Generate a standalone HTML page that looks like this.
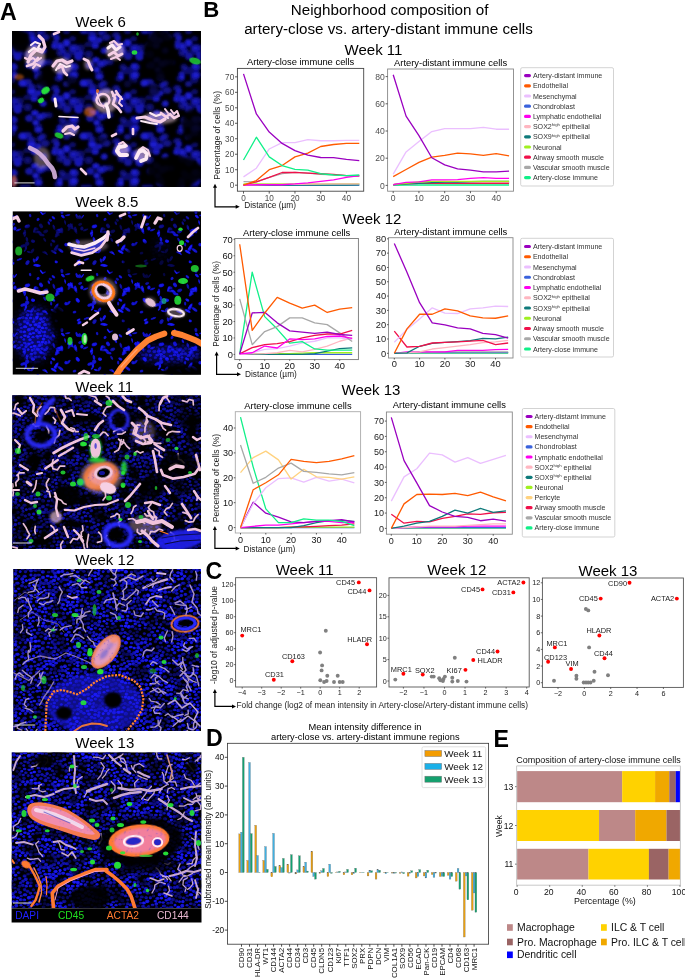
<!DOCTYPE html><html><head><meta charset="utf-8"><style>html,body{margin:0;padding:0;background:#fff;overflow:hidden}svg{display:block;will-change:transform}text{font-family:"Liberation Sans",sans-serif}</style></head><body>
<svg width="685" height="978" viewBox="0 0 685 978">
<rect width="685" height="978" fill="#fff"/>
<text x="0.00" y="20.30" font-size="23.2" fill="#000" text-anchor="start" font-weight="bold">A</text>
<text x="203.20" y="16.90" font-size="22.2" fill="#000" text-anchor="start" font-weight="bold">B</text>
<text x="205.60" y="578.60" font-size="23.2" fill="#000" text-anchor="start" font-weight="bold">C</text>
<text x="205.90" y="745.80" font-size="23.2" fill="#000" text-anchor="start" font-weight="bold">D</text>
<text x="493.40" y="746.70" font-size="23.2" fill="#000" text-anchor="start" font-weight="bold">E</text>
<text x="75.30" y="27.20" font-size="15" fill="#000" text-anchor="start">Week 6</text>
<text x="75.30" y="207.00" font-size="15" fill="#000" text-anchor="start">Week 8.5</text>
<text x="75.30" y="391.50" font-size="15" fill="#000" text-anchor="start">Week 11</text>
<text x="75.30" y="564.80" font-size="15" fill="#000" text-anchor="start">Week 12</text>
<text x="75.30" y="748.40" font-size="15" fill="#000" text-anchor="start">Week 13</text>
<defs>
<radialGradient id="ngs"><stop offset="0" stop-color="#5040e0"/><stop offset="1" stop-color="#7050c0" stop-opacity="0.5"/></radialGradient>
<radialGradient id="ng"><stop offset="0" stop-color="#2020e0"/><stop offset="0.6" stop-color="#1818c0"/><stop offset="1" stop-color="#0a0a70" stop-opacity="0.6"/></radialGradient>
<radialGradient id="ng2"><stop offset="0" stop-color="#2222ff"/><stop offset="0.7" stop-color="#1414f8"/><stop offset="1" stop-color="#0a0ac0" stop-opacity="0.85"/></radialGradient>
<pattern id="pBig" patternUnits="userSpaceOnUse" width="61" height="53"><ellipse cx="27.6" cy="29.7" rx="5.4" ry="4.7" fill="url(#ng)" opacity="0.73"/><ellipse cx="11.3" cy="27.1" rx="5.1" ry="4.1" fill="url(#ng)" opacity="0.50"/><ellipse cx="5.5" cy="42.9" rx="4.7" ry="4.6" fill="url(#ng)" opacity="0.99"/><ellipse cx="39.9" cy="32.6" rx="3.7" ry="3.7" fill="url(#ng)" opacity="0.74"/><ellipse cx="11.6" cy="12.8" rx="3.7" ry="3.2" fill="url(#ng)" opacity="0.69"/><ellipse cx="31.7" cy="33.9" rx="4.7" ry="3.9" fill="url(#ng)" opacity="0.70"/><ellipse cx="-0.1" cy="-0.2" rx="5.4" ry="4.4" fill="url(#ng)" opacity="0.62"/><ellipse cx="-0.1" cy="52.8" rx="5.4" ry="4.4" fill="url(#ng)" opacity="0.62"/><ellipse cx="60.9" cy="-0.2" rx="5.4" ry="4.4" fill="url(#ng)" opacity="0.62"/><ellipse cx="60.9" cy="52.8" rx="5.4" ry="4.4" fill="url(#ng)" opacity="0.62"/><ellipse cx="17.6" cy="3.7" rx="5.1" ry="4.5" fill="url(#ng)" opacity="0.92"/><ellipse cx="17.6" cy="56.7" rx="5.1" ry="4.5" fill="url(#ng)" opacity="0.92"/><ellipse cx="-2.6" cy="44.9" rx="3.5" ry="3.3" fill="url(#ng)" opacity="0.95"/><ellipse cx="58.4" cy="44.9" rx="3.5" ry="3.3" fill="url(#ng)" opacity="0.95"/><ellipse cx="-1.2" cy="21.1" rx="3.9" ry="3.2" fill="url(#ng)" opacity="0.88"/><ellipse cx="59.8" cy="21.1" rx="3.9" ry="3.2" fill="url(#ng)" opacity="0.88"/><ellipse cx="5.3" cy="17.6" rx="5.7" ry="4.6" fill="url(#ng)" opacity="0.51"/><ellipse cx="66.3" cy="17.6" rx="5.7" ry="4.6" fill="url(#ng)" opacity="0.51"/><ellipse cx="6.2" cy="3.2" rx="5.0" ry="4.7" fill="url(#ng)" opacity="0.76"/><ellipse cx="6.2" cy="56.2" rx="5.0" ry="4.7" fill="url(#ng)" opacity="0.76"/><ellipse cx="11.6" cy="38.8" rx="4.0" ry="3.3" fill="url(#ng)" opacity="0.51"/><ellipse cx="13.0" cy="14.3" rx="5.8" ry="4.6" fill="url(#ng)" opacity="0.62"/><ellipse cx="12.9" cy="20.9" rx="5.4" ry="4.5" fill="url(#ng)" opacity="0.51"/><ellipse cx="13.0" cy="13.7" rx="5.0" ry="4.6" fill="url(#ng)" opacity="0.61"/><ellipse cx="5.5" cy="30.9" rx="4.2" ry="3.5" fill="url(#ng)" opacity="0.65"/><ellipse cx="-2.5" cy="25.6" rx="5.0" ry="3.9" fill="url(#ng)" opacity="0.55"/><ellipse cx="58.5" cy="25.6" rx="5.0" ry="3.9" fill="url(#ng)" opacity="0.55"/><ellipse cx="55.4" cy="43.3" rx="4.0" ry="3.7" fill="url(#ng)" opacity="0.86"/><ellipse cx="12.0" cy="-2.6" rx="5.4" ry="4.6" fill="url(#ng)" opacity="0.68"/><ellipse cx="12.0" cy="50.4" rx="5.4" ry="4.6" fill="url(#ng)" opacity="0.68"/><ellipse cx="2.4" cy="-2.0" rx="4.2" ry="3.5" fill="url(#ng)" opacity="0.59"/><ellipse cx="2.4" cy="51.0" rx="4.2" ry="3.5" fill="url(#ng)" opacity="0.59"/><ellipse cx="63.4" cy="-2.0" rx="4.2" ry="3.5" fill="url(#ng)" opacity="0.59"/><ellipse cx="63.4" cy="51.0" rx="4.2" ry="3.5" fill="url(#ng)" opacity="0.59"/><ellipse cx="36.4" cy="15.6" rx="4.1" ry="3.4" fill="url(#ng)" opacity="0.49"/><ellipse cx="34.1" cy="45.2" rx="4.7" ry="4.3" fill="url(#ng)" opacity="0.95"/><ellipse cx="1.0" cy="14.3" rx="4.2" ry="4.2" fill="url(#ng)" opacity="0.55"/><ellipse cx="62.0" cy="14.3" rx="4.2" ry="4.2" fill="url(#ng)" opacity="0.55"/><ellipse cx="34.9" cy="7.0" rx="4.6" ry="3.6" fill="url(#ng)" opacity="0.99"/><ellipse cx="42.2" cy="31.0" rx="3.7" ry="3.6" fill="url(#ng)" opacity="0.46"/><ellipse cx="42.8" cy="-2.0" rx="3.8" ry="3.1" fill="url(#ng)" opacity="0.72"/><ellipse cx="42.8" cy="51.0" rx="3.8" ry="3.1" fill="url(#ng)" opacity="0.72"/><ellipse cx="19.5" cy="-0.0" rx="3.8" ry="3.3" fill="url(#ng)" opacity="0.86"/><ellipse cx="19.5" cy="53.0" rx="3.8" ry="3.3" fill="url(#ng)" opacity="0.86"/><ellipse cx="45.0" cy="37.3" rx="5.5" ry="4.2" fill="url(#ng)" opacity="0.64"/><ellipse cx="55.0" cy="46.2" rx="4.6" ry="3.7" fill="url(#ng)" opacity="0.92"/><ellipse cx="38.1" cy="20.3" rx="4.9" ry="4.1" fill="url(#ng)" opacity="0.49"/><ellipse cx="-0.4" cy="46.6" rx="5.0" ry="4.5" fill="url(#ng)" opacity="0.85"/><ellipse cx="60.6" cy="46.6" rx="5.0" ry="4.5" fill="url(#ng)" opacity="0.85"/><ellipse cx="26.9" cy="44.4" rx="4.0" ry="3.2" fill="url(#ng)" opacity="0.47"/><ellipse cx="29.3" cy="12.2" rx="5.0" ry="4.3" fill="url(#ng)" opacity="0.79"/><ellipse cx="15.6" cy="0.6" rx="4.3" ry="3.6" fill="url(#ng)" opacity="0.56"/><ellipse cx="15.6" cy="53.6" rx="4.3" ry="3.6" fill="url(#ng)" opacity="0.56"/><ellipse cx="55.2" cy="35.0" rx="4.8" ry="3.7" fill="url(#ng)" opacity="0.63"/><ellipse cx="12.1" cy="22.8" rx="5.5" ry="4.3" fill="url(#ng)" opacity="0.93"/><ellipse cx="35.6" cy="16.8" rx="3.9" ry="3.4" fill="url(#ng)" opacity="0.91"/><ellipse cx="43.4" cy="-2.6" rx="4.0" ry="3.8" fill="url(#ng)" opacity="0.70"/><ellipse cx="43.4" cy="50.4" rx="4.0" ry="3.8" fill="url(#ng)" opacity="0.70"/><ellipse cx="13.1" cy="21.9" rx="4.9" ry="4.2" fill="url(#ng)" opacity="0.62"/><ellipse cx="-1.1" cy="24.0" rx="3.6" ry="3.5" fill="url(#ng)" opacity="0.93"/><ellipse cx="59.9" cy="24.0" rx="3.6" ry="3.5" fill="url(#ng)" opacity="0.93"/><ellipse cx="43.2" cy="30.2" rx="4.4" ry="3.5" fill="url(#ng)" opacity="0.46"/><ellipse cx="27.7" cy="1.3" rx="5.1" ry="4.7" fill="url(#ng)" opacity="0.53"/><ellipse cx="27.7" cy="54.3" rx="5.1" ry="4.7" fill="url(#ng)" opacity="0.53"/><ellipse cx="38.4" cy="23.7" rx="5.0" ry="4.1" fill="url(#ng)" opacity="0.89"/><ellipse cx="41.8" cy="10.6" rx="4.4" ry="4.1" fill="url(#ng)" opacity="0.46"/><ellipse cx="43.6" cy="9.5" rx="4.1" ry="3.7" fill="url(#ng)" opacity="0.83"/><ellipse cx="37.5" cy="40.1" rx="4.6" ry="3.7" fill="url(#ng)" opacity="0.95"/><ellipse cx="56.9" cy="38.3" rx="3.9" ry="3.4" fill="url(#ng)" opacity="0.79"/><ellipse cx="23.0" cy="30.1" rx="5.6" ry="4.5" fill="url(#ng)" opacity="0.97"/><ellipse cx="39.7" cy="10.9" rx="5.3" ry="4.2" fill="url(#ng)" opacity="0.80"/><ellipse cx="13.0" cy="-5.3" rx="5.9" ry="4.5" fill="url(#ng)" opacity="0.75"/><ellipse cx="13.0" cy="47.7" rx="5.9" ry="4.5" fill="url(#ng)" opacity="0.75"/><ellipse cx="19.5" cy="-4.8" rx="5.2" ry="4.7" fill="url(#ng)" opacity="0.50"/><ellipse cx="19.5" cy="48.2" rx="5.2" ry="4.7" fill="url(#ng)" opacity="0.50"/><ellipse cx="33.6" cy="40.7" rx="4.3" ry="4.3" fill="url(#ng)" opacity="0.90"/><ellipse cx="48.8" cy="9.2" rx="4.5" ry="3.6" fill="url(#ng)" opacity="0.53"/><ellipse cx="31.5" cy="38.3" rx="5.4" ry="4.5" fill="url(#ng)" opacity="0.97"/></pattern>
<pattern id="pSpk" patternUnits="userSpaceOnUse" width="23" height="19"><ellipse cx="18.4" cy="6.2" rx="0.7" ry="0.6" fill="url(#ngs)" opacity="0.65"/><ellipse cx="12.8" cy="11.6" rx="0.7" ry="0.6" fill="url(#ngs)" opacity="0.80"/><ellipse cx="0.7" cy="18.2" rx="0.7" ry="0.6" fill="url(#ngs)" opacity="0.80"/><ellipse cx="23.7" cy="18.2" rx="0.7" ry="0.6" fill="url(#ngs)" opacity="0.80"/><ellipse cx="4.2" cy="6.1" rx="0.7" ry="0.5" fill="url(#ngs)" opacity="0.81"/><ellipse cx="4.4" cy="1.5" rx="0.7" ry="0.6" fill="url(#ngs)" opacity="0.78"/><ellipse cx="1.8" cy="16.0" rx="1.0" ry="0.8" fill="url(#ngs)" opacity="0.90"/><ellipse cx="2.2" cy="8.8" rx="0.6" ry="0.5" fill="url(#ngs)" opacity="0.82"/><ellipse cx="10.2" cy="14.8" rx="0.8" ry="0.8" fill="url(#ngs)" opacity="0.97"/><ellipse cx="19.4" cy="-0.5" rx="1.0" ry="0.7" fill="url(#ngs)" opacity="0.81"/><ellipse cx="19.4" cy="18.5" rx="1.0" ry="0.7" fill="url(#ngs)" opacity="0.81"/><ellipse cx="10.9" cy="14.0" rx="0.9" ry="0.8" fill="url(#ngs)" opacity="0.98"/><ellipse cx="11.4" cy="0.7" rx="0.8" ry="0.6" fill="url(#ngs)" opacity="0.65"/><ellipse cx="11.4" cy="19.7" rx="0.8" ry="0.6" fill="url(#ngs)" opacity="0.65"/><ellipse cx="20.8" cy="13.1" rx="0.6" ry="0.5" fill="url(#ngs)" opacity="0.88"/><ellipse cx="6.9" cy="1.7" rx="1.0" ry="0.8" fill="url(#ngs)" opacity="0.97"/><ellipse cx="13.2" cy="1.2" rx="0.8" ry="0.7" fill="url(#ngs)" opacity="0.90"/><ellipse cx="0.2" cy="1.7" rx="0.9" ry="0.9" fill="url(#ngs)" opacity="0.76"/><ellipse cx="23.2" cy="1.7" rx="0.9" ry="0.9" fill="url(#ngs)" opacity="0.76"/><ellipse cx="20.3" cy="2.6" rx="0.7" ry="0.6" fill="url(#ngs)" opacity="0.63"/><ellipse cx="0.6" cy="18.2" rx="0.7" ry="0.6" fill="url(#ngs)" opacity="0.75"/><ellipse cx="23.6" cy="18.2" rx="0.7" ry="0.6" fill="url(#ngs)" opacity="0.75"/><ellipse cx="16.4" cy="11.4" rx="0.8" ry="0.7" fill="url(#ngs)" opacity="0.94"/><ellipse cx="14.3" cy="5.6" rx="0.7" ry="0.6" fill="url(#ngs)" opacity="0.68"/><ellipse cx="1.6" cy="0.4" rx="0.6" ry="0.6" fill="url(#ngs)" opacity="0.95"/><ellipse cx="1.6" cy="19.4" rx="0.6" ry="0.6" fill="url(#ngs)" opacity="0.95"/><ellipse cx="15.6" cy="14.8" rx="0.7" ry="0.5" fill="url(#ngs)" opacity="0.75"/><ellipse cx="11.2" cy="13.2" rx="0.9" ry="0.8" fill="url(#ngs)" opacity="0.93"/></pattern>
<pattern id="pN" patternUnits="userSpaceOnUse" width="83.00" height="71.00"><ellipse cx="51.7" cy="52.7" rx="1.8" ry="1.5" fill="url(#ng2)" opacity="0.84"/><ellipse cx="66.0" cy="66.9" rx="2.3" ry="2.0" fill="url(#ng2)" opacity="0.94"/><ellipse cx="61.4" cy="65.5" rx="1.8" ry="1.5" fill="url(#ng2)" opacity="0.75"/><ellipse cx="2.4" cy="33.1" rx="2.1" ry="2.1" fill="url(#ng2)" opacity="0.85"/><ellipse cx="78.3" cy="46.1" rx="2.0" ry="1.6" fill="url(#ng2)" opacity="0.92"/><ellipse cx="74.8" cy="8.0" rx="2.4" ry="1.9" fill="url(#ng2)" opacity="0.95"/><ellipse cx="38.9" cy="17.5" rx="2.3" ry="1.7" fill="url(#ng2)" opacity="0.80"/><ellipse cx="45.1" cy="40.7" rx="2.2" ry="1.9" fill="url(#ng2)" opacity="0.89"/><ellipse cx="1.1" cy="15.4" rx="1.9" ry="1.4" fill="url(#ng2)" opacity="1.00"/><ellipse cx="84.1" cy="15.4" rx="1.9" ry="1.4" fill="url(#ng2)" opacity="1.00"/><ellipse cx="23.2" cy="65.1" rx="1.9" ry="1.5" fill="url(#ng2)" opacity="0.93"/><ellipse cx="63.6" cy="11.3" rx="2.3" ry="1.9" fill="url(#ng2)" opacity="0.77"/><ellipse cx="51.2" cy="9.0" rx="1.8" ry="1.6" fill="url(#ng2)" opacity="0.96"/><ellipse cx="0.1" cy="61.9" rx="2.1" ry="1.5" fill="url(#ng2)" opacity="0.84"/><ellipse cx="83.1" cy="61.9" rx="2.1" ry="1.5" fill="url(#ng2)" opacity="0.84"/><ellipse cx="17.4" cy="15.3" rx="2.5" ry="1.8" fill="url(#ng2)" opacity="0.82"/><ellipse cx="24.0" cy="68.3" rx="2.0" ry="1.8" fill="url(#ng2)" opacity="0.78"/><ellipse cx="44.8" cy="48.1" rx="1.8" ry="1.6" fill="url(#ng2)" opacity="0.87"/><ellipse cx="17.0" cy="66.8" rx="2.1" ry="1.8" fill="url(#ng2)" opacity="0.76"/><ellipse cx="57.3" cy="68.6" rx="1.7" ry="1.6" fill="url(#ng2)" opacity="0.86"/><ellipse cx="74.2" cy="21.2" rx="2.3" ry="1.8" fill="url(#ng2)" opacity="0.90"/><ellipse cx="30.0" cy="11.8" rx="2.2" ry="1.6" fill="url(#ng2)" opacity="0.87"/><ellipse cx="12.1" cy="4.6" rx="2.1" ry="1.5" fill="url(#ng2)" opacity="0.84"/><ellipse cx="25.0" cy="42.8" rx="2.5" ry="1.8" fill="url(#ng2)" opacity="0.97"/><ellipse cx="0.3" cy="48.1" rx="2.1" ry="1.7" fill="url(#ng2)" opacity="0.89"/><ellipse cx="83.3" cy="48.1" rx="2.1" ry="1.7" fill="url(#ng2)" opacity="0.89"/><ellipse cx="28.0" cy="22.0" rx="2.0" ry="1.5" fill="url(#ng2)" opacity="0.86"/><ellipse cx="67.9" cy="34.1" rx="2.5" ry="1.8" fill="url(#ng2)" opacity="0.95"/><ellipse cx="26.2" cy="34.2" rx="1.8" ry="1.6" fill="url(#ng2)" opacity="0.99"/><ellipse cx="58.5" cy="4.0" rx="2.3" ry="1.9" fill="url(#ng2)" opacity="0.99"/><ellipse cx="-2.1" cy="1.6" rx="2.1" ry="1.7" fill="url(#ng2)" opacity="0.87"/><ellipse cx="-2.1" cy="72.6" rx="2.1" ry="1.7" fill="url(#ng2)" opacity="0.87"/><ellipse cx="80.9" cy="1.6" rx="2.1" ry="1.7" fill="url(#ng2)" opacity="0.87"/><ellipse cx="80.9" cy="72.6" rx="2.1" ry="1.7" fill="url(#ng2)" opacity="0.87"/><ellipse cx="62.2" cy="60.0" rx="1.9" ry="1.6" fill="url(#ng2)" opacity="0.84"/><ellipse cx="1.5" cy="55.9" rx="2.3" ry="1.6" fill="url(#ng2)" opacity="0.96"/><ellipse cx="84.5" cy="55.9" rx="2.3" ry="1.6" fill="url(#ng2)" opacity="0.96"/><ellipse cx="30.4" cy="41.1" rx="1.9" ry="1.6" fill="url(#ng2)" opacity="0.87"/><ellipse cx="0.8" cy="3.3" rx="2.2" ry="1.6" fill="url(#ng2)" opacity="0.98"/><ellipse cx="83.8" cy="3.3" rx="2.2" ry="1.6" fill="url(#ng2)" opacity="0.98"/><ellipse cx="16.3" cy="53.7" rx="2.2" ry="2.0" fill="url(#ng2)" opacity="0.84"/><ellipse cx="77.2" cy="66.9" rx="1.8" ry="1.4" fill="url(#ng2)" opacity="0.95"/><ellipse cx="43.6" cy="55.1" rx="2.1" ry="1.8" fill="url(#ng2)" opacity="0.95"/><ellipse cx="9.0" cy="53.1" rx="1.7" ry="1.6" fill="url(#ng2)" opacity="0.90"/><ellipse cx="66.2" cy="61.0" rx="2.2" ry="1.9" fill="url(#ng2)" opacity="0.95"/><ellipse cx="3.0" cy="67.2" rx="2.3" ry="1.9" fill="url(#ng2)" opacity="0.94"/><ellipse cx="7.6" cy="24.2" rx="1.9" ry="1.6" fill="url(#ng2)" opacity="0.82"/><ellipse cx="50.7" cy="65.2" rx="1.8" ry="1.4" fill="url(#ng2)" opacity="0.79"/><ellipse cx="28.2" cy="65.6" rx="1.7" ry="1.6" fill="url(#ng2)" opacity="0.91"/><ellipse cx="45.2" cy="22.2" rx="2.0" ry="1.6" fill="url(#ng2)" opacity="0.89"/><ellipse cx="26.3" cy="12.6" rx="1.7" ry="1.6" fill="url(#ng2)" opacity="0.97"/><ellipse cx="6.5" cy="10.6" rx="2.2" ry="1.7" fill="url(#ng2)" opacity="0.88"/><ellipse cx="-1.1" cy="37.9" rx="2.3" ry="1.8" fill="url(#ng2)" opacity="0.86"/><ellipse cx="81.9" cy="37.9" rx="2.3" ry="1.8" fill="url(#ng2)" opacity="0.86"/><ellipse cx="33.7" cy="16.9" rx="1.8" ry="1.7" fill="url(#ng2)" opacity="0.98"/><ellipse cx="49.3" cy="58.7" rx="2.4" ry="1.7" fill="url(#ng2)" opacity="0.93"/><ellipse cx="37.8" cy="29.9" rx="1.9" ry="1.8" fill="url(#ng2)" opacity="0.98"/><ellipse cx="69.6" cy="9.3" rx="2.0" ry="1.9" fill="url(#ng2)" opacity="0.77"/><ellipse cx="52.3" cy="55.9" rx="2.0" ry="1.7" fill="url(#ng2)" opacity="0.90"/><ellipse cx="8.9" cy="30.9" rx="2.0" ry="1.9" fill="url(#ng2)" opacity="0.84"/><ellipse cx="12.4" cy="60.0" rx="1.9" ry="1.7" fill="url(#ng2)" opacity="0.77"/><ellipse cx="81.0" cy="32.2" rx="1.9" ry="1.6" fill="url(#ng2)" opacity="0.96"/><ellipse cx="40.5" cy="51.8" rx="2.1" ry="1.4" fill="url(#ng2)" opacity="0.78"/><ellipse cx="39.8" cy="20.7" rx="2.3" ry="1.7" fill="url(#ng2)" opacity="0.80"/><ellipse cx="33.5" cy="10.4" rx="2.4" ry="1.9" fill="url(#ng2)" opacity="0.83"/><ellipse cx="31.3" cy="-0.8" rx="2.1" ry="1.8" fill="url(#ng2)" opacity="0.97"/><ellipse cx="31.3" cy="70.2" rx="2.1" ry="1.8" fill="url(#ng2)" opacity="0.97"/><ellipse cx="41.4" cy="24.0" rx="1.7" ry="1.6" fill="url(#ng2)" opacity="0.92"/><ellipse cx="7.4" cy="19.3" rx="1.9" ry="1.8" fill="url(#ng2)" opacity="0.75"/><ellipse cx="30.0" cy="55.8" rx="2.0" ry="1.7" fill="url(#ng2)" opacity="0.93"/><ellipse cx="64.3" cy="49.3" rx="2.3" ry="1.9" fill="url(#ng2)" opacity="0.88"/><ellipse cx="55.1" cy="53.9" rx="2.2" ry="1.6" fill="url(#ng2)" opacity="0.95"/><ellipse cx="30.2" cy="50.0" rx="2.1" ry="1.6" fill="url(#ng2)" opacity="0.86"/><ellipse cx="53.9" cy="41.2" rx="1.7" ry="1.7" fill="url(#ng2)" opacity="0.77"/><ellipse cx="20.8" cy="47.7" rx="2.0" ry="1.8" fill="url(#ng2)" opacity="0.86"/><ellipse cx="38.4" cy="58.0" rx="2.1" ry="1.5" fill="url(#ng2)" opacity="0.85"/><ellipse cx="28.9" cy="45.7" rx="2.3" ry="2.0" fill="url(#ng2)" opacity="0.90"/><ellipse cx="29.1" cy="59.8" rx="2.0" ry="1.4" fill="url(#ng2)" opacity="0.90"/><ellipse cx="72.2" cy="48.9" rx="1.9" ry="1.5" fill="url(#ng2)" opacity="0.92"/><ellipse cx="-2.0" cy="67.9" rx="2.1" ry="2.1" fill="url(#ng2)" opacity="0.85"/><ellipse cx="81.0" cy="67.9" rx="2.1" ry="2.1" fill="url(#ng2)" opacity="0.85"/><ellipse cx="43.0" cy="37.6" rx="2.3" ry="1.6" fill="url(#ng2)" opacity="0.81"/><ellipse cx="77.8" cy="33.9" rx="2.0" ry="1.8" fill="url(#ng2)" opacity="0.96"/><ellipse cx="57.4" cy="51.1" rx="1.8" ry="1.6" fill="url(#ng2)" opacity="0.97"/><ellipse cx="64.8" cy="41.2" rx="2.1" ry="1.7" fill="url(#ng2)" opacity="0.90"/><ellipse cx="55.2" cy="29.9" rx="2.0" ry="2.0" fill="url(#ng2)" opacity="0.78"/><ellipse cx="2.3" cy="11.4" rx="2.1" ry="2.0" fill="url(#ng2)" opacity="0.85"/><ellipse cx="36.6" cy="46.2" rx="2.2" ry="2.0" fill="url(#ng2)" opacity="0.83"/><ellipse cx="52.4" cy="3.0" rx="2.1" ry="2.0" fill="url(#ng2)" opacity="0.83"/><ellipse cx="16.0" cy="2.5" rx="1.7" ry="1.5" fill="url(#ng2)" opacity="1.00"/><ellipse cx="19.7" cy="64.1" rx="2.0" ry="2.0" fill="url(#ng2)" opacity="0.86"/><ellipse cx="0.1" cy="28.8" rx="2.4" ry="1.9" fill="url(#ng2)" opacity="0.84"/><ellipse cx="83.1" cy="28.8" rx="2.4" ry="1.9" fill="url(#ng2)" opacity="0.84"/><ellipse cx="23.1" cy="29.1" rx="2.1" ry="1.8" fill="url(#ng2)" opacity="0.83"/><ellipse cx="31.0" cy="2.6" rx="2.2" ry="2.1" fill="url(#ng2)" opacity="0.82"/><ellipse cx="48.2" cy="68.0" rx="1.9" ry="1.6" fill="url(#ng2)" opacity="0.88"/><ellipse cx="67.9" cy="29.8" rx="2.0" ry="1.4" fill="url(#ng2)" opacity="0.87"/><ellipse cx="67.5" cy="45.6" rx="1.8" ry="1.8" fill="url(#ng2)" opacity="0.92"/><ellipse cx="49.5" cy="40.0" rx="2.4" ry="1.7" fill="url(#ng2)" opacity="0.80"/><ellipse cx="50.5" cy="24.9" rx="2.3" ry="1.9" fill="url(#ng2)" opacity="0.87"/><ellipse cx="74.2" cy="0.1" rx="2.1" ry="1.6" fill="url(#ng2)" opacity="0.95"/><ellipse cx="74.2" cy="71.1" rx="2.1" ry="1.6" fill="url(#ng2)" opacity="0.95"/><ellipse cx="9.0" cy="40.2" rx="1.9" ry="1.4" fill="url(#ng2)" opacity="0.83"/><ellipse cx="31.2" cy="30.6" rx="2.0" ry="1.5" fill="url(#ng2)" opacity="0.77"/><ellipse cx="18.8" cy="20.7" rx="1.9" ry="1.4" fill="url(#ng2)" opacity="0.86"/><ellipse cx="79.8" cy="64.9" rx="1.9" ry="1.8" fill="url(#ng2)" opacity="0.85"/><ellipse cx="49.5" cy="18.4" rx="2.0" ry="1.9" fill="url(#ng2)" opacity="0.81"/><ellipse cx="34.5" cy="22.7" rx="2.0" ry="1.5" fill="url(#ng2)" opacity="0.76"/><ellipse cx="10.1" cy="44.1" rx="1.9" ry="1.8" fill="url(#ng2)" opacity="0.98"/><ellipse cx="64.9" cy="17.4" rx="1.9" ry="1.8" fill="url(#ng2)" opacity="0.90"/><ellipse cx="22.2" cy="11.0" rx="2.2" ry="2.0" fill="url(#ng2)" opacity="0.79"/><ellipse cx="-0.9" cy="20.8" rx="1.8" ry="1.7" fill="url(#ng2)" opacity="0.93"/><ellipse cx="82.1" cy="20.8" rx="1.8" ry="1.7" fill="url(#ng2)" opacity="0.93"/><ellipse cx="50.5" cy="33.7" rx="1.9" ry="1.7" fill="url(#ng2)" opacity="0.97"/><ellipse cx="61.7" cy="8.4" rx="2.0" ry="1.7" fill="url(#ng2)" opacity="0.93"/><ellipse cx="63.1" cy="21.3" rx="2.2" ry="1.8" fill="url(#ng2)" opacity="0.90"/><ellipse cx="24.6" cy="37.6" rx="1.9" ry="1.8" fill="url(#ng2)" opacity="0.78"/><ellipse cx="38.5" cy="25.6" rx="2.2" ry="1.7" fill="url(#ng2)" opacity="0.98"/><ellipse cx="37.8" cy="65.1" rx="2.4" ry="1.8" fill="url(#ng2)" opacity="0.80"/><ellipse cx="73.7" cy="38.7" rx="2.1" ry="1.9" fill="url(#ng2)" opacity="0.78"/><ellipse cx="35.5" cy="40.9" rx="2.2" ry="1.6" fill="url(#ng2)" opacity="0.83"/><ellipse cx="58.8" cy="44.9" rx="2.2" ry="1.7" fill="url(#ng2)" opacity="0.80"/><ellipse cx="70.7" cy="13.9" rx="2.3" ry="1.8" fill="url(#ng2)" opacity="0.95"/><ellipse cx="24.6" cy="58.9" rx="2.0" ry="1.5" fill="url(#ng2)" opacity="0.77"/><ellipse cx="5.5" cy="59.4" rx="1.9" ry="1.7" fill="url(#ng2)" opacity="0.88"/><ellipse cx="23.8" cy="55.4" rx="1.7" ry="1.5" fill="url(#ng2)" opacity="0.83"/><ellipse cx="39.7" cy="39.0" rx="1.9" ry="1.6" fill="url(#ng2)" opacity="0.86"/><ellipse cx="12.7" cy="41.6" rx="2.5" ry="1.8" fill="url(#ng2)" opacity="0.84"/><ellipse cx="67.4" cy="4.9" rx="1.9" ry="1.6" fill="url(#ng2)" opacity="0.93"/><ellipse cx="19.1" cy="58.2" rx="2.0" ry="1.4" fill="url(#ng2)" opacity="0.85"/><ellipse cx="2.1" cy="51.3" rx="2.0" ry="1.5" fill="url(#ng2)" opacity="0.79"/><ellipse cx="53.6" cy="67.6" rx="2.2" ry="1.8" fill="url(#ng2)" opacity="0.80"/><ellipse cx="6.0" cy="4.1" rx="2.1" ry="1.8" fill="url(#ng2)" opacity="0.87"/><ellipse cx="47.7" cy="52.7" rx="2.3" ry="1.8" fill="url(#ng2)" opacity="0.86"/><ellipse cx="77.9" cy="26.6" rx="2.0" ry="1.6" fill="url(#ng2)" opacity="0.93"/><ellipse cx="42.0" cy="64.6" rx="2.1" ry="1.6" fill="url(#ng2)" opacity="0.77"/><ellipse cx="46.1" cy="44.1" rx="1.9" ry="1.7" fill="url(#ng2)" opacity="0.84"/><ellipse cx="21.1" cy="53.3" rx="1.8" ry="1.4" fill="url(#ng2)" opacity="0.94"/><ellipse cx="42.9" cy="9.5" rx="2.2" ry="1.9" fill="url(#ng2)" opacity="0.89"/><ellipse cx="19.5" cy="26.4" rx="2.1" ry="1.6" fill="url(#ng2)" opacity="0.88"/><ellipse cx="7.1" cy="47.4" rx="2.2" ry="2.0" fill="url(#ng2)" opacity="0.92"/><ellipse cx="72.8" cy="34.1" rx="2.1" ry="1.6" fill="url(#ng2)" opacity="0.93"/><ellipse cx="18.5" cy="8.2" rx="1.9" ry="1.7" fill="url(#ng2)" opacity="0.89"/><ellipse cx="70.7" cy="36.7" rx="2.4" ry="1.7" fill="url(#ng2)" opacity="0.84"/><ellipse cx="61.4" cy="28.1" rx="2.1" ry="1.9" fill="url(#ng2)" opacity="0.82"/><ellipse cx="63.1" cy="0.0" rx="2.2" ry="2.0" fill="url(#ng2)" opacity="0.79"/><ellipse cx="63.1" cy="71.0" rx="2.2" ry="2.0" fill="url(#ng2)" opacity="0.79"/><ellipse cx="51.4" cy="30.4" rx="1.9" ry="1.6" fill="url(#ng2)" opacity="0.98"/><ellipse cx="38.6" cy="7.1" rx="2.5" ry="1.7" fill="url(#ng2)" opacity="0.85"/><ellipse cx="12.8" cy="11.3" rx="1.9" ry="1.4" fill="url(#ng2)" opacity="0.90"/><ellipse cx="31.1" cy="27.4" rx="2.1" ry="1.6" fill="url(#ng2)" opacity="0.87"/><ellipse cx="13.4" cy="20.4" rx="1.8" ry="1.7" fill="url(#ng2)" opacity="0.75"/><ellipse cx="19.5" cy="34.2" rx="2.0" ry="1.8" fill="url(#ng2)" opacity="0.83"/><ellipse cx="57.1" cy="47.8" rx="1.9" ry="1.5" fill="url(#ng2)" opacity="0.91"/><ellipse cx="24.2" cy="47.9" rx="2.0" ry="1.7" fill="url(#ng2)" opacity="0.93"/><ellipse cx="60.8" cy="51.0" rx="2.3" ry="1.7" fill="url(#ng2)" opacity="0.94"/><ellipse cx="13.6" cy="17.1" rx="2.4" ry="1.8" fill="url(#ng2)" opacity="0.90"/><ellipse cx="5.1" cy="55.3" rx="2.4" ry="1.7" fill="url(#ng2)" opacity="0.96"/><ellipse cx="45.5" cy="-0.7" rx="2.2" ry="2.1" fill="url(#ng2)" opacity="0.98"/><ellipse cx="45.5" cy="70.3" rx="2.2" ry="2.1" fill="url(#ng2)" opacity="0.98"/><ellipse cx="77.7" cy="3.8" rx="2.1" ry="1.6" fill="url(#ng2)" opacity="0.98"/><ellipse cx="20.2" cy="3.6" rx="1.7" ry="1.6" fill="url(#ng2)" opacity="1.00"/><ellipse cx="25.4" cy="3.6" rx="1.8" ry="1.8" fill="url(#ng2)" opacity="0.86"/><ellipse cx="14.9" cy="36.1" rx="2.0" ry="1.5" fill="url(#ng2)" opacity="0.88"/><ellipse cx="33.4" cy="37.7" rx="1.8" ry="1.7" fill="url(#ng2)" opacity="0.77"/><ellipse cx="76.5" cy="42.5" rx="2.1" ry="2.0" fill="url(#ng2)" opacity="0.88"/><ellipse cx="68.0" cy="22.2" rx="2.5" ry="1.7" fill="url(#ng2)" opacity="0.90"/><ellipse cx="31.0" cy="7.0" rx="1.8" ry="1.7" fill="url(#ng2)" opacity="0.84"/><ellipse cx="74.4" cy="46.4" rx="2.4" ry="1.7" fill="url(#ng2)" opacity="0.77"/><ellipse cx="10.8" cy="25.4" rx="2.0" ry="1.5" fill="url(#ng2)" opacity="0.86"/><ellipse cx="71.4" cy="67.4" rx="2.3" ry="1.9" fill="url(#ng2)" opacity="0.87"/><ellipse cx="27.4" cy="0.9" rx="2.0" ry="1.9" fill="url(#ng2)" opacity="0.86"/><ellipse cx="27.4" cy="71.9" rx="2.0" ry="1.9" fill="url(#ng2)" opacity="0.86"/><ellipse cx="58.9" cy="31.7" rx="2.3" ry="1.8" fill="url(#ng2)" opacity="0.86"/><ellipse cx="77.9" cy="56.4" rx="1.7" ry="1.7" fill="url(#ng2)" opacity="0.80"/><ellipse cx="2.7" cy="41.0" rx="2.2" ry="1.8" fill="url(#ng2)" opacity="0.76"/><ellipse cx="23.0" cy="14.3" rx="1.7" ry="1.6" fill="url(#ng2)" opacity="0.80"/><ellipse cx="46.7" cy="25.3" rx="2.1" ry="1.5" fill="url(#ng2)" opacity="0.96"/><ellipse cx="29.2" cy="17.6" rx="1.9" ry="1.8" fill="url(#ng2)" opacity="0.79"/><ellipse cx="70.5" cy="43.9" rx="1.8" ry="1.7" fill="url(#ng2)" opacity="0.92"/><ellipse cx="74.7" cy="14.2" rx="2.0" ry="1.7" fill="url(#ng2)" opacity="0.75"/><ellipse cx="56.7" cy="61.3" rx="1.8" ry="1.6" fill="url(#ng2)" opacity="0.76"/><ellipse cx="15.3" cy="27.6" rx="1.9" ry="1.8" fill="url(#ng2)" opacity="0.91"/><ellipse cx="25.9" cy="27.2" rx="2.1" ry="2.0" fill="url(#ng2)" opacity="0.94"/><ellipse cx="56.4" cy="37.1" rx="1.8" ry="1.6" fill="url(#ng2)" opacity="0.87"/><ellipse cx="59.3" cy="21.8" rx="2.5" ry="1.8" fill="url(#ng2)" opacity="0.81"/><ellipse cx="77.1" cy="19.5" rx="1.8" ry="1.6" fill="url(#ng2)" opacity="0.83"/><ellipse cx="54.2" cy="63.9" rx="1.9" ry="1.7" fill="url(#ng2)" opacity="0.85"/><ellipse cx="25.4" cy="19.0" rx="1.8" ry="1.7" fill="url(#ng2)" opacity="0.79"/><ellipse cx="13.9" cy="44.9" rx="2.1" ry="1.9" fill="url(#ng2)" opacity="0.91"/><ellipse cx="80.2" cy="13.3" rx="1.8" ry="1.7" fill="url(#ng2)" opacity="0.81"/><ellipse cx="49.3" cy="45.9" rx="2.1" ry="1.5" fill="url(#ng2)" opacity="0.76"/><ellipse cx="8.4" cy="13.7" rx="2.1" ry="1.7" fill="url(#ng2)" opacity="0.79"/><ellipse cx="8.6" cy="7.3" rx="2.1" ry="1.8" fill="url(#ng2)" opacity="0.82"/><ellipse cx="41.1" cy="68.4" rx="2.0" ry="1.5" fill="url(#ng2)" opacity="0.81"/><ellipse cx="24.6" cy="8.3" rx="2.4" ry="1.7" fill="url(#ng2)" opacity="0.76"/><ellipse cx="31.7" cy="20.6" rx="2.1" ry="1.9" fill="url(#ng2)" opacity="0.93"/><ellipse cx="24.6" cy="23.9" rx="2.2" ry="1.8" fill="url(#ng2)" opacity="0.93"/><ellipse cx="4.2" cy="29.9" rx="1.7" ry="1.5" fill="url(#ng2)" opacity="0.90"/><ellipse cx="32.1" cy="66.3" rx="1.7" ry="1.7" fill="url(#ng2)" opacity="0.84"/><ellipse cx="67.3" cy="0.4" rx="1.8" ry="1.7" fill="url(#ng2)" opacity="0.95"/><ellipse cx="67.3" cy="71.4" rx="1.8" ry="1.7" fill="url(#ng2)" opacity="0.95"/><ellipse cx="42.9" cy="3.8" rx="2.3" ry="2.0" fill="url(#ng2)" opacity="0.95"/><ellipse cx="36.7" cy="33.5" rx="1.9" ry="1.9" fill="url(#ng2)" opacity="0.85"/><ellipse cx="34.3" cy="62.1" rx="2.1" ry="1.5" fill="url(#ng2)" opacity="0.98"/><ellipse cx="12.3" cy="55.4" rx="2.2" ry="2.0" fill="url(#ng2)" opacity="0.99"/><ellipse cx="35.0" cy="-2.0" rx="2.0" ry="1.9" fill="url(#ng2)" opacity="0.77"/><ellipse cx="35.0" cy="69.0" rx="2.0" ry="1.9" fill="url(#ng2)" opacity="0.77"/><ellipse cx="55.3" cy="8.8" rx="2.2" ry="2.0" fill="url(#ng2)" opacity="0.89"/><ellipse cx="14.0" cy="32.5" rx="1.9" ry="1.4" fill="url(#ng2)" opacity="0.97"/><ellipse cx="74.5" cy="62.9" rx="1.7" ry="1.5" fill="url(#ng2)" opacity="0.81"/><ellipse cx="53.4" cy="26.6" rx="2.3" ry="1.8" fill="url(#ng2)" opacity="0.94"/><ellipse cx="30.6" cy="33.9" rx="2.1" ry="1.7" fill="url(#ng2)" opacity="0.91"/><ellipse cx="20.0" cy="40.4" rx="2.1" ry="1.8" fill="url(#ng2)" opacity="0.85"/><ellipse cx="4.7" cy="35.5" rx="2.0" ry="1.6" fill="url(#ng2)" opacity="0.95"/><ellipse cx="37.2" cy="52.3" rx="2.1" ry="1.5" fill="url(#ng2)" opacity="0.85"/><ellipse cx="43.9" cy="27.6" rx="2.4" ry="1.8" fill="url(#ng2)" opacity="0.96"/><ellipse cx="45.8" cy="58.9" rx="2.1" ry="2.1" fill="url(#ng2)" opacity="1.00"/><ellipse cx="32.3" cy="44.6" rx="2.3" ry="1.9" fill="url(#ng2)" opacity="0.76"/><ellipse cx="61.4" cy="39.8" rx="2.0" ry="1.7" fill="url(#ng2)" opacity="0.80"/><ellipse cx="72.3" cy="2.8" rx="1.9" ry="1.7" fill="url(#ng2)" opacity="0.91"/><ellipse cx="78.8" cy="7.9" rx="1.7" ry="1.5" fill="url(#ng2)" opacity="0.97"/><ellipse cx="62.9" cy="36.6" rx="2.3" ry="1.9" fill="url(#ng2)" opacity="0.85"/><ellipse cx="54.0" cy="12.4" rx="2.2" ry="1.9" fill="url(#ng2)" opacity="0.85"/><ellipse cx="11.5" cy="34.9" rx="2.3" ry="2.0" fill="url(#ng2)" opacity="0.93"/><ellipse cx="60.1" cy="18.5" rx="1.8" ry="1.7" fill="url(#ng2)" opacity="0.97"/><ellipse cx="67.3" cy="37.6" rx="1.6" ry="1.6" fill="url(#ng2)" opacity="0.95"/><ellipse cx="47.6" cy="35.5" rx="2.2" ry="1.6" fill="url(#ng2)" opacity="0.92"/><ellipse cx="8.5" cy="-0.2" rx="2.1" ry="1.5" fill="url(#ng2)" opacity="0.87"/><ellipse cx="8.5" cy="70.8" rx="2.1" ry="1.5" fill="url(#ng2)" opacity="0.87"/><ellipse cx="13.5" cy="49.6" rx="1.7" ry="1.6" fill="url(#ng2)" opacity="0.79"/><ellipse cx="56.1" cy="24.1" rx="2.3" ry="1.6" fill="url(#ng2)" opacity="0.95"/><ellipse cx="65.6" cy="54.8" rx="1.8" ry="1.7" fill="url(#ng2)" opacity="0.93"/><ellipse cx="44.4" cy="34.0" rx="2.0" ry="1.7" fill="url(#ng2)" opacity="0.98"/><ellipse cx="53.5" cy="16.3" rx="1.9" ry="1.4" fill="url(#ng2)" opacity="0.84"/><ellipse cx="22.7" cy="0.7" rx="2.4" ry="1.8" fill="url(#ng2)" opacity="0.93"/><ellipse cx="22.7" cy="71.7" rx="2.4" ry="1.8" fill="url(#ng2)" opacity="0.93"/><ellipse cx="4.7" cy="1.0" rx="2.1" ry="1.5" fill="url(#ng2)" opacity="0.79"/><ellipse cx="4.7" cy="72.0" rx="2.1" ry="1.5" fill="url(#ng2)" opacity="0.79"/><ellipse cx="24.9" cy="51.7" rx="2.0" ry="1.4" fill="url(#ng2)" opacity="0.95"/><ellipse cx="57.2" cy="15.4" rx="1.9" ry="1.5" fill="url(#ng2)" opacity="0.83"/><ellipse cx="36.8" cy="13.5" rx="1.7" ry="1.5" fill="url(#ng2)" opacity="0.78"/><ellipse cx="69.7" cy="26.0" rx="2.0" ry="1.5" fill="url(#ng2)" opacity="0.96"/><ellipse cx="12.5" cy="0.5" rx="2.5" ry="1.8" fill="url(#ng2)" opacity="0.86"/><ellipse cx="12.5" cy="71.5" rx="2.5" ry="1.8" fill="url(#ng2)" opacity="0.86"/><ellipse cx="68.3" cy="16.3" rx="2.2" ry="1.8" fill="url(#ng2)" opacity="0.96"/><ellipse cx="8.2" cy="61.2" rx="1.9" ry="1.6" fill="url(#ng2)" opacity="0.98"/><ellipse cx="4.8" cy="16.2" rx="1.9" ry="1.5" fill="url(#ng2)" opacity="0.80"/><ellipse cx="70.2" cy="40.5" rx="1.8" ry="1.5" fill="url(#ng2)" opacity="0.88"/><ellipse cx="70.8" cy="59.8" rx="2.3" ry="1.7" fill="url(#ng2)" opacity="0.76"/><ellipse cx="-0.2" cy="9.2" rx="2.1" ry="1.6" fill="url(#ng2)" opacity="0.78"/><ellipse cx="82.8" cy="9.2" rx="2.1" ry="1.6" fill="url(#ng2)" opacity="0.78"/><ellipse cx="21.2" cy="44.0" rx="1.8" ry="1.5" fill="url(#ng2)" opacity="0.83"/><ellipse cx="13.5" cy="66.3" rx="1.8" ry="1.7" fill="url(#ng2)" opacity="0.75"/><ellipse cx="15.9" cy="-1.1" rx="2.2" ry="1.9" fill="url(#ng2)" opacity="0.80"/><ellipse cx="15.9" cy="69.9" rx="2.2" ry="1.9" fill="url(#ng2)" opacity="0.80"/><ellipse cx="76.4" cy="59.3" rx="1.9" ry="1.5" fill="url(#ng2)" opacity="0.79"/><ellipse cx="59.8" cy="34.9" rx="1.7" ry="1.6" fill="url(#ng2)" opacity="0.75"/><ellipse cx="69.5" cy="52.9" rx="2.0" ry="1.5" fill="url(#ng2)" opacity="0.78"/><ellipse cx="52.6" cy="60.7" rx="2.0" ry="1.5" fill="url(#ng2)" opacity="0.84"/><ellipse cx="52.2" cy="49.0" rx="2.4" ry="1.8" fill="url(#ng2)" opacity="0.81"/><ellipse cx="39.0" cy="42.7" rx="2.4" ry="1.9" fill="url(#ng2)" opacity="0.86"/><ellipse cx="2.6" cy="19.2" rx="1.9" ry="1.4" fill="url(#ng2)" opacity="0.98"/><ellipse cx="76.8" cy="50.3" rx="1.8" ry="1.4" fill="url(#ng2)" opacity="0.77"/><ellipse cx="59.9" cy="54.3" rx="2.2" ry="1.8" fill="url(#ng2)" opacity="0.87"/><ellipse cx="41.0" cy="35.0" rx="2.1" ry="2.0" fill="url(#ng2)" opacity="0.91"/><ellipse cx="47.2" cy="63.6" rx="1.9" ry="1.8" fill="url(#ng2)" opacity="0.89"/><ellipse cx="43.5" cy="19.1" rx="1.8" ry="1.4" fill="url(#ng2)" opacity="0.84"/><ellipse cx="74.3" cy="30.1" rx="2.4" ry="1.8" fill="url(#ng2)" opacity="0.96"/><ellipse cx="-0.2" cy="44.1" rx="2.1" ry="2.0" fill="url(#ng2)" opacity="0.98"/><ellipse cx="82.8" cy="44.1" rx="2.1" ry="2.0" fill="url(#ng2)" opacity="0.98"/><ellipse cx="40.9" cy="14.9" rx="2.1" ry="2.1" fill="url(#ng2)" opacity="0.76"/><ellipse cx="3.8" cy="63.1" rx="1.9" ry="1.4" fill="url(#ng2)" opacity="0.78"/><ellipse cx="41.2" cy="29.9" rx="2.5" ry="1.7" fill="url(#ng2)" opacity="0.90"/><ellipse cx="10.2" cy="67.8" rx="2.3" ry="1.7" fill="url(#ng2)" opacity="0.88"/><ellipse cx="47.8" cy="8.1" rx="2.1" ry="1.5" fill="url(#ng2)" opacity="0.94"/><ellipse cx="54.0" cy="44.6" rx="1.9" ry="1.5" fill="url(#ng2)" opacity="0.92"/><ellipse cx="77.6" cy="23.3" rx="2.5" ry="1.8" fill="url(#ng2)" opacity="0.97"/><ellipse cx="-0.8" cy="24.1" rx="2.3" ry="2.0" fill="url(#ng2)" opacity="0.95"/><ellipse cx="82.2" cy="24.1" rx="2.3" ry="2.0" fill="url(#ng2)" opacity="0.95"/><ellipse cx="39.3" cy="48.6" rx="2.2" ry="1.9" fill="url(#ng2)" opacity="0.89"/><ellipse cx="11.8" cy="8.1" rx="2.0" ry="1.5" fill="url(#ng2)" opacity="0.93"/><ellipse cx="35.6" cy="2.2" rx="2.5" ry="1.8" fill="url(#ng2)" opacity="0.99"/><ellipse cx="35.6" cy="73.2" rx="2.5" ry="1.8" fill="url(#ng2)" opacity="0.99"/><ellipse cx="50.0" cy="-0.1" rx="1.8" ry="1.4" fill="url(#ng2)" opacity="0.85"/><ellipse cx="50.0" cy="70.9" rx="1.8" ry="1.4" fill="url(#ng2)" opacity="0.85"/><ellipse cx="35.1" cy="27.0" rx="1.8" ry="1.5" fill="url(#ng2)" opacity="0.76"/><ellipse cx="46.1" cy="12.5" rx="2.2" ry="1.9" fill="url(#ng2)" opacity="0.86"/><ellipse cx="58.5" cy="10.9" rx="1.9" ry="1.9" fill="url(#ng2)" opacity="0.90"/><ellipse cx="73.7" cy="17.7" rx="2.1" ry="1.9" fill="url(#ng2)" opacity="0.87"/><ellipse cx="15.1" cy="57.0" rx="2.4" ry="1.8" fill="url(#ng2)" opacity="0.94"/><ellipse cx="32.2" cy="58.5" rx="1.9" ry="1.6" fill="url(#ng2)" opacity="0.79"/><ellipse cx="55.6" cy="19.5" rx="2.4" ry="1.7" fill="url(#ng2)" opacity="0.92"/><ellipse cx="76.8" cy="37.4" rx="1.9" ry="1.6" fill="url(#ng2)" opacity="0.92"/><ellipse cx="73.6" cy="55.5" rx="1.9" ry="1.8" fill="url(#ng2)" opacity="0.81"/><ellipse cx="78.9" cy="16.4" rx="2.2" ry="1.9" fill="url(#ng2)" opacity="0.89"/><ellipse cx="48.6" cy="4.0" rx="1.9" ry="1.6" fill="url(#ng2)" opacity="0.77"/><ellipse cx="16.2" cy="10.7" rx="1.9" ry="1.8" fill="url(#ng2)" opacity="0.94"/><ellipse cx="39.1" cy="1.9" rx="2.0" ry="1.6" fill="url(#ng2)" opacity="0.98"/><ellipse cx="39.1" cy="72.9" rx="2.0" ry="1.6" fill="url(#ng2)" opacity="0.98"/><ellipse cx="22.0" cy="17.8" rx="2.1" ry="1.8" fill="url(#ng2)" opacity="0.76"/><ellipse cx="6.8" cy="64.7" rx="2.1" ry="1.7" fill="url(#ng2)" opacity="0.80"/><ellipse cx="16.9" cy="49.6" rx="1.9" ry="1.9" fill="url(#ng2)" opacity="0.85"/><ellipse cx="56.5" cy="57.5" rx="2.0" ry="1.6" fill="url(#ng2)" opacity="0.99"/><ellipse cx="53.2" cy="22.4" rx="2.3" ry="1.8" fill="url(#ng2)" opacity="0.80"/><ellipse cx="33.0" cy="53.2" rx="1.9" ry="1.4" fill="url(#ng2)" opacity="0.84"/><ellipse cx="17.1" cy="61.3" rx="1.7" ry="1.6" fill="url(#ng2)" opacity="0.98"/><ellipse cx="47.0" cy="29.8" rx="1.9" ry="1.5" fill="url(#ng2)" opacity="0.92"/><ellipse cx="63.1" cy="45.6" rx="2.0" ry="1.8" fill="url(#ng2)" opacity="0.82"/><ellipse cx="51.1" cy="14.0" rx="2.4" ry="1.9" fill="url(#ng2)" opacity="0.75"/><ellipse cx="8.3" cy="35.7" rx="2.1" ry="1.9" fill="url(#ng2)" opacity="0.83"/><ellipse cx="54.8" cy="33.7" rx="2.2" ry="2.0" fill="url(#ng2)" opacity="0.82"/><ellipse cx="65.0" cy="27.2" rx="2.1" ry="2.0" fill="url(#ng2)" opacity="0.98"/><ellipse cx="28.2" cy="52.7" rx="1.9" ry="1.6" fill="url(#ng2)" opacity="0.91"/><ellipse cx="39.6" cy="11.6" rx="1.9" ry="1.9" fill="url(#ng2)" opacity="0.79"/><ellipse cx="27.6" cy="39.3" rx="2.1" ry="1.7" fill="url(#ng2)" opacity="0.77"/><ellipse cx="73.3" cy="52.1" rx="2.0" ry="2.0" fill="url(#ng2)" opacity="0.91"/><ellipse cx="42.5" cy="43.9" rx="1.8" ry="1.6" fill="url(#ng2)" opacity="0.95"/><ellipse cx="77.8" cy="30.4" rx="2.2" ry="1.9" fill="url(#ng2)" opacity="0.94"/><ellipse cx="39.4" cy="61.5" rx="2.0" ry="1.8" fill="url(#ng2)" opacity="0.82"/><ellipse cx="9.3" cy="57.5" rx="1.8" ry="1.4" fill="url(#ng2)" opacity="0.99"/><ellipse cx="80.1" cy="60.4" rx="1.9" ry="1.4" fill="url(#ng2)" opacity="0.91"/><ellipse cx="10.2" cy="22.1" rx="2.4" ry="1.8" fill="url(#ng2)" opacity="0.98"/><ellipse cx="31.1" cy="63.0" rx="1.7" ry="1.6" fill="url(#ng2)" opacity="0.94"/><ellipse cx="3.2" cy="24.2" rx="1.9" ry="1.4" fill="url(#ng2)" opacity="0.96"/><ellipse cx="21.6" cy="61.2" rx="1.8" ry="1.5" fill="url(#ng2)" opacity="0.99"/><ellipse cx="65.5" cy="31.9" rx="1.9" ry="1.8" fill="url(#ng2)" opacity="0.93"/><ellipse cx="64.5" cy="6.5" rx="1.9" ry="1.7" fill="url(#ng2)" opacity="0.77"/><ellipse cx="76.9" cy="11.4" rx="2.1" ry="1.7" fill="url(#ng2)" opacity="0.99"/><ellipse cx="19.4" cy="-1.3" rx="2.0" ry="1.8" fill="url(#ng2)" opacity="0.76"/><ellipse cx="19.4" cy="69.7" rx="2.0" ry="1.8" fill="url(#ng2)" opacity="0.76"/><ellipse cx="20.4" cy="30.9" rx="1.8" ry="1.7" fill="url(#ng2)" opacity="0.81"/><ellipse cx="62.3" cy="31.6" rx="2.2" ry="2.0" fill="url(#ng2)" opacity="0.77"/><ellipse cx="52.0" cy="37.9" rx="1.9" ry="1.5" fill="url(#ng2)" opacity="0.94"/><ellipse cx="68.1" cy="57.2" rx="2.1" ry="1.7" fill="url(#ng2)" opacity="0.84"/><ellipse cx="10.7" cy="64.5" rx="1.7" ry="1.7" fill="url(#ng2)" opacity="0.77"/><ellipse cx="10.4" cy="48.8" rx="2.0" ry="1.9" fill="url(#ng2)" opacity="0.83"/><ellipse cx="15.5" cy="39.7" rx="1.8" ry="1.6" fill="url(#ng2)" opacity="0.95"/><ellipse cx="15.6" cy="23.2" rx="2.0" ry="1.6" fill="url(#ng2)" opacity="0.91"/><ellipse cx="57.2" cy="40.8" rx="1.9" ry="1.6" fill="url(#ng2)" opacity="0.94"/><ellipse cx="59.7" cy="-0.1" rx="1.9" ry="1.6" fill="url(#ng2)" opacity="0.89"/><ellipse cx="59.7" cy="70.9" rx="1.9" ry="1.6" fill="url(#ng2)" opacity="0.89"/><ellipse cx="67.1" cy="11.7" rx="2.5" ry="1.8" fill="url(#ng2)" opacity="0.89"/><ellipse cx="54.8" cy="5.2" rx="2.3" ry="1.9" fill="url(#ng2)" opacity="0.79"/><ellipse cx="-2.0" cy="54.0" rx="2.3" ry="1.7" fill="url(#ng2)" opacity="0.87"/><ellipse cx="81.0" cy="54.0" rx="2.3" ry="1.7" fill="url(#ng2)" opacity="0.87"/><ellipse cx="62.7" cy="56.3" rx="2.1" ry="1.9" fill="url(#ng2)" opacity="0.96"/><ellipse cx="68.9" cy="64.2" rx="2.2" ry="1.6" fill="url(#ng2)" opacity="0.89"/><ellipse cx="6.3" cy="42.5" rx="1.8" ry="1.6" fill="url(#ng2)" opacity="0.76"/><ellipse cx="70.8" cy="19.6" rx="1.9" ry="1.7" fill="url(#ng2)" opacity="0.95"/><ellipse cx="55.0" cy="1.0" rx="2.2" ry="1.6" fill="url(#ng2)" opacity="0.95"/><ellipse cx="55.0" cy="72.0" rx="2.2" ry="1.6" fill="url(#ng2)" opacity="0.95"/><ellipse cx="42.5" cy="58.2" rx="1.9" ry="1.6" fill="url(#ng2)" opacity="0.97"/><ellipse cx="71.3" cy="22.9" rx="2.2" ry="2.0" fill="url(#ng2)" opacity="0.80"/><ellipse cx="62.3" cy="3.4" rx="2.2" ry="1.6" fill="url(#ng2)" opacity="0.87"/><ellipse cx="78.0" cy="-0.6" rx="2.3" ry="1.6" fill="url(#ng2)" opacity="0.94"/><ellipse cx="78.0" cy="70.4" rx="2.3" ry="1.6" fill="url(#ng2)" opacity="0.94"/><ellipse cx="61.1" cy="13.6" rx="1.8" ry="1.7" fill="url(#ng2)" opacity="0.79"/><ellipse cx="11.8" cy="29.3" rx="2.2" ry="1.8" fill="url(#ng2)" opacity="0.80"/><ellipse cx="2.7" cy="6.9" rx="2.1" ry="1.5" fill="url(#ng2)" opacity="0.97"/><ellipse cx="17.8" cy="45.8" rx="2.0" ry="1.5" fill="url(#ng2)" opacity="0.89"/><ellipse cx="15.5" cy="5.8" rx="2.1" ry="2.1" fill="url(#ng2)" opacity="0.93"/><ellipse cx="49.1" cy="21.9" rx="2.1" ry="1.5" fill="url(#ng2)" opacity="0.94"/><ellipse cx="5.4" cy="50.7" rx="2.0" ry="1.9" fill="url(#ng2)" opacity="0.86"/><ellipse cx="45.0" cy="66.1" rx="2.0" ry="1.6" fill="url(#ng2)" opacity="0.83"/><ellipse cx="74.2" cy="24.8" rx="1.8" ry="1.4" fill="url(#ng2)" opacity="0.80"/><ellipse cx="27.6" cy="30.9" rx="2.0" ry="1.9" fill="url(#ng2)" opacity="0.99"/><ellipse cx="35.2" cy="7.4" rx="2.1" ry="1.8" fill="url(#ng2)" opacity="0.86"/><ellipse cx="79.9" cy="42.1" rx="2.0" ry="1.5" fill="url(#ng2)" opacity="0.80"/><ellipse cx="3.4" cy="47.0" rx="2.4" ry="1.9" fill="url(#ng2)" opacity="1.00"/><ellipse cx="33.5" cy="49.2" rx="1.9" ry="1.4" fill="url(#ng2)" opacity="0.89"/><ellipse cx="5.5" cy="39.1" rx="1.9" ry="1.7" fill="url(#ng2)" opacity="0.97"/><ellipse cx="80.2" cy="50.6" rx="2.0" ry="1.4" fill="url(#ng2)" opacity="0.84"/><ellipse cx="18.4" cy="37.4" rx="1.9" ry="1.8" fill="url(#ng2)" opacity="0.77"/><ellipse cx="22.8" cy="33.3" rx="2.0" ry="1.9" fill="url(#ng2)" opacity="0.91"/><ellipse cx="48.1" cy="15.5" rx="2.5" ry="1.8" fill="url(#ng2)" opacity="0.91"/><ellipse cx="44.1" cy="15.4" rx="2.3" ry="1.9" fill="url(#ng2)" opacity="0.83"/><ellipse cx="25.9" cy="62.8" rx="1.9" ry="1.6" fill="url(#ng2)" opacity="0.82"/><ellipse cx="44.6" cy="51.7" rx="1.9" ry="1.8" fill="url(#ng2)" opacity="0.80"/></pattern>
<pattern id="pSp" patternUnits="userSpaceOnUse" width="67" height="59"><ellipse cx="25.5" cy="13.6" rx="2.7" ry="1.0" fill="url(#ng2)" opacity="0.83" transform="rotate(124 25.5 13.6)"/><ellipse cx="37.1" cy="22.6" rx="3.0" ry="1.5" fill="url(#ng2)" opacity="0.91" transform="rotate(119 37.1 22.6)"/><ellipse cx="56.2" cy="25.9" rx="1.8" ry="1.5" fill="url(#ng2)" opacity="0.89" transform="rotate(30 56.2 25.9)"/><ellipse cx="43.9" cy="36.6" rx="2.4" ry="1.0" fill="url(#ng2)" opacity="0.61" transform="rotate(156 43.9 36.6)"/><ellipse cx="56.4" cy="12.7" rx="3.3" ry="1.4" fill="url(#ng2)" opacity="0.65" transform="rotate(121 56.4 12.7)"/><ellipse cx="8.3" cy="53.9" rx="3.6" ry="1.3" fill="url(#ng2)" opacity="0.62" transform="rotate(57 8.3 53.9)"/><ellipse cx="41.5" cy="35.9" rx="2.7" ry="1.0" fill="url(#ng2)" opacity="0.94" transform="rotate(54 41.5 35.9)"/><ellipse cx="9.8" cy="39.4" rx="2.7" ry="1.3" fill="url(#ng2)" opacity="0.80" transform="rotate(71 9.8 39.4)"/><ellipse cx="1.5" cy="8.0" rx="2.9" ry="1.3" fill="url(#ng2)" opacity="0.77" transform="rotate(134 1.5 8.0)"/><ellipse cx="68.5" cy="8.0" rx="2.9" ry="1.3" fill="url(#ng2)" opacity="0.77" transform="rotate(134 68.5 8.0)"/><ellipse cx="36.2" cy="51.9" rx="2.6" ry="1.7" fill="url(#ng2)" opacity="0.66" transform="rotate(12 36.2 51.9)"/><ellipse cx="2.7" cy="50.9" rx="3.5" ry="1.5" fill="url(#ng2)" opacity="0.64" transform="rotate(119 2.7 50.9)"/><ellipse cx="69.7" cy="50.9" rx="3.5" ry="1.5" fill="url(#ng2)" opacity="0.64" transform="rotate(119 69.7 50.9)"/><ellipse cx="8.6" cy="52.5" rx="3.2" ry="1.4" fill="url(#ng2)" opacity="0.84" transform="rotate(75 8.6 52.5)"/><ellipse cx="56.8" cy="56.7" rx="2.2" ry="1.3" fill="url(#ng2)" opacity="0.89" transform="rotate(122 56.8 56.7)"/><ellipse cx="27.5" cy="26.6" rx="2.8" ry="2.0" fill="url(#ng2)" opacity="0.68" transform="rotate(124 27.5 26.6)"/><ellipse cx="18.6" cy="52.9" rx="3.0" ry="1.1" fill="url(#ng2)" opacity="0.75" transform="rotate(159 18.6 52.9)"/><ellipse cx="50.3" cy="43.2" rx="1.9" ry="1.5" fill="url(#ng2)" opacity="0.61" transform="rotate(33 50.3 43.2)"/><ellipse cx="44.7" cy="3.8" rx="2.4" ry="1.2" fill="url(#ng2)" opacity="0.66" transform="rotate(59 44.7 3.8)"/><ellipse cx="15.3" cy="39.9" rx="2.7" ry="0.9" fill="url(#ng2)" opacity="0.84" transform="rotate(128 15.3 39.9)"/><ellipse cx="37.0" cy="29.4" rx="3.9" ry="1.5" fill="url(#ng2)" opacity="0.93" transform="rotate(5 37.0 29.4)"/><ellipse cx="39.5" cy="55.6" rx="2.8" ry="1.5" fill="url(#ng2)" opacity="0.86" transform="rotate(32 39.5 55.6)"/><ellipse cx="48.8" cy="46.2" rx="2.1" ry="1.2" fill="url(#ng2)" opacity="0.84" transform="rotate(63 48.8 46.2)"/><ellipse cx="45.7" cy="54.4" rx="2.8" ry="1.9" fill="url(#ng2)" opacity="0.66" transform="rotate(154 45.7 54.4)"/><ellipse cx="41.0" cy="48.9" rx="2.7" ry="1.9" fill="url(#ng2)" opacity="0.83" transform="rotate(55 41.0 48.9)"/><ellipse cx="53.4" cy="40.8" rx="2.3" ry="1.3" fill="url(#ng2)" opacity="0.84" transform="rotate(42 53.4 40.8)"/><ellipse cx="12.2" cy="28.0" rx="2.1" ry="1.2" fill="url(#ng2)" opacity="0.98" transform="rotate(149 12.2 28.0)"/><ellipse cx="3.6" cy="48.7" rx="3.2" ry="1.4" fill="url(#ng2)" opacity="0.61" transform="rotate(137 3.6 48.7)"/><ellipse cx="13.1" cy="47.4" rx="2.2" ry="1.4" fill="url(#ng2)" opacity="0.67" transform="rotate(156 13.1 47.4)"/><ellipse cx="14.9" cy="51.5" rx="2.2" ry="1.8" fill="url(#ng2)" opacity="0.86" transform="rotate(96 14.9 51.5)"/><ellipse cx="1.8" cy="48.6" rx="1.8" ry="1.7" fill="url(#ng2)" opacity="0.91" transform="rotate(131 1.8 48.6)"/><ellipse cx="25.8" cy="11.0" rx="2.8" ry="1.4" fill="url(#ng2)" opacity="0.88" transform="rotate(88 25.8 11.0)"/><ellipse cx="38.0" cy="42.5" rx="1.9" ry="1.5" fill="url(#ng2)" opacity="0.79" transform="rotate(136 38.0 42.5)"/><ellipse cx="53.8" cy="50.3" rx="2.8" ry="1.3" fill="url(#ng2)" opacity="0.64" transform="rotate(70 53.8 50.3)"/><ellipse cx="4.5" cy="49.3" rx="3.5" ry="1.6" fill="url(#ng2)" opacity="0.90" transform="rotate(67 4.5 49.3)"/><ellipse cx="53.3" cy="5.0" rx="2.3" ry="1.5" fill="url(#ng2)" opacity="0.95" transform="rotate(31 53.3 5.0)"/><ellipse cx="10.7" cy="5.3" rx="2.8" ry="1.9" fill="url(#ng2)" opacity="0.96" transform="rotate(56 10.7 5.3)"/><ellipse cx="56.1" cy="11.5" rx="3.9" ry="1.4" fill="url(#ng2)" opacity="0.95" transform="rotate(125 56.1 11.5)"/><ellipse cx="60.1" cy="53.9" rx="2.8" ry="2.0" fill="url(#ng2)" opacity="0.94" transform="rotate(140 60.1 53.9)"/><ellipse cx="23.2" cy="9.9" rx="3.1" ry="1.7" fill="url(#ng2)" opacity="0.81" transform="rotate(160 23.2 9.9)"/><ellipse cx="32.4" cy="14.9" rx="2.9" ry="1.5" fill="url(#ng2)" opacity="0.71" transform="rotate(125 32.4 14.9)"/><ellipse cx="60.6" cy="14.5" rx="3.4" ry="1.5" fill="url(#ng2)" opacity="0.81" transform="rotate(35 60.6 14.5)"/><ellipse cx="44.6" cy="16.6" rx="2.8" ry="1.1" fill="url(#ng2)" opacity="0.71" transform="rotate(17 44.6 16.6)"/><ellipse cx="56.6" cy="-0.3" rx="2.3" ry="1.4" fill="url(#ng2)" opacity="0.82" transform="rotate(136 56.6 -0.3)"/><ellipse cx="56.6" cy="58.7" rx="2.3" ry="1.4" fill="url(#ng2)" opacity="0.82" transform="rotate(136 56.6 58.7)"/><ellipse cx="0.8" cy="38.2" rx="2.8" ry="1.0" fill="url(#ng2)" opacity="0.77" transform="rotate(170 0.8 38.2)"/><ellipse cx="67.8" cy="38.2" rx="2.8" ry="1.0" fill="url(#ng2)" opacity="0.77" transform="rotate(170 67.8 38.2)"/><ellipse cx="30.2" cy="38.6" rx="1.8" ry="1.3" fill="url(#ng2)" opacity="0.72" transform="rotate(66 30.2 38.6)"/><ellipse cx="11.6" cy="24.8" rx="2.2" ry="1.1" fill="url(#ng2)" opacity="0.99" transform="rotate(154 11.6 24.8)"/><ellipse cx="41.7" cy="-1.1" rx="3.1" ry="1.5" fill="url(#ng2)" opacity="0.78" transform="rotate(15 41.7 -1.1)"/><ellipse cx="41.7" cy="57.9" rx="3.1" ry="1.5" fill="url(#ng2)" opacity="0.78" transform="rotate(15 41.7 57.9)"/><ellipse cx="59.8" cy="52.9" rx="3.3" ry="1.5" fill="url(#ng2)" opacity="0.93" transform="rotate(173 59.8 52.9)"/><ellipse cx="-1.9" cy="45.4" rx="2.5" ry="0.9" fill="url(#ng2)" opacity="0.83" transform="rotate(81 -1.9 45.4)"/><ellipse cx="65.1" cy="45.4" rx="2.5" ry="0.9" fill="url(#ng2)" opacity="0.83" transform="rotate(81 65.1 45.4)"/><ellipse cx="28.9" cy="16.0" rx="2.2" ry="1.1" fill="url(#ng2)" opacity="0.85" transform="rotate(16 28.9 16.0)"/><ellipse cx="61.8" cy="53.3" rx="3.1" ry="1.7" fill="url(#ng2)" opacity="0.75" transform="rotate(85 61.8 53.3)"/><ellipse cx="24.8" cy="-2.6" rx="3.8" ry="1.4" fill="url(#ng2)" opacity="0.81" transform="rotate(92 24.8 -2.6)"/><ellipse cx="24.8" cy="56.4" rx="3.8" ry="1.4" fill="url(#ng2)" opacity="0.81" transform="rotate(92 24.8 56.4)"/><ellipse cx="46.0" cy="17.1" rx="2.8" ry="1.0" fill="url(#ng2)" opacity="0.71" transform="rotate(49 46.0 17.1)"/><ellipse cx="33.0" cy="5.2" rx="2.2" ry="1.8" fill="url(#ng2)" opacity="0.93" transform="rotate(15 33.0 5.2)"/><ellipse cx="53.7" cy="15.9" rx="3.4" ry="1.4" fill="url(#ng2)" opacity="0.98" transform="rotate(31 53.7 15.9)"/><ellipse cx="-1.0" cy="8.7" rx="1.8" ry="1.8" fill="url(#ng2)" opacity="0.80" transform="rotate(15 -1.0 8.7)"/><ellipse cx="66.0" cy="8.7" rx="1.8" ry="1.8" fill="url(#ng2)" opacity="0.80" transform="rotate(15 66.0 8.7)"/><ellipse cx="37.2" cy="55.1" rx="3.2" ry="1.5" fill="url(#ng2)" opacity="0.64" transform="rotate(178 37.2 55.1)"/><ellipse cx="24.4" cy="56.0" rx="2.0" ry="1.3" fill="url(#ng2)" opacity="0.98" transform="rotate(134 24.4 56.0)"/><ellipse cx="12.5" cy="27.0" rx="2.3" ry="1.7" fill="url(#ng2)" opacity="0.69" transform="rotate(15 12.5 27.0)"/><ellipse cx="34.1" cy="24.5" rx="2.4" ry="1.4" fill="url(#ng2)" opacity="0.74" transform="rotate(70 34.1 24.5)"/><ellipse cx="51.2" cy="8.7" rx="2.1" ry="1.2" fill="url(#ng2)" opacity="0.72" transform="rotate(86 51.2 8.7)"/><ellipse cx="57.6" cy="-3.2" rx="3.7" ry="1.4" fill="url(#ng2)" opacity="0.69" transform="rotate(62 57.6 -3.2)"/><ellipse cx="57.6" cy="55.8" rx="3.7" ry="1.4" fill="url(#ng2)" opacity="0.69" transform="rotate(62 57.6 55.8)"/><ellipse cx="7.5" cy="17.1" rx="2.0" ry="1.5" fill="url(#ng2)" opacity="0.73" transform="rotate(169 7.5 17.1)"/><ellipse cx="34.5" cy="53.1" rx="3.0" ry="1.3" fill="url(#ng2)" opacity="0.87" transform="rotate(107 34.5 53.1)"/><ellipse cx="61.9" cy="35.0" rx="2.3" ry="1.7" fill="url(#ng2)" opacity="0.64" transform="rotate(77 61.9 35.0)"/><ellipse cx="27.2" cy="7.7" rx="2.4" ry="2.3" fill="url(#ng2)" opacity="0.78" transform="rotate(44 27.2 7.7)"/><ellipse cx="27.4" cy="49.4" rx="3.0" ry="1.9" fill="url(#ng2)" opacity="0.88" transform="rotate(161 27.4 49.4)"/><ellipse cx="19.4" cy="23.4" rx="3.0" ry="1.2" fill="url(#ng2)" opacity="0.72" transform="rotate(161 19.4 23.4)"/><ellipse cx="12.4" cy="40.2" rx="2.1" ry="2.0" fill="url(#ng2)" opacity="0.73" transform="rotate(150 12.4 40.2)"/><ellipse cx="26.9" cy="3.4" rx="2.7" ry="1.4" fill="url(#ng2)" opacity="0.79" transform="rotate(76 26.9 3.4)"/><ellipse cx="62.9" cy="39.6" rx="2.5" ry="1.4" fill="url(#ng2)" opacity="0.91" transform="rotate(43 62.9 39.6)"/></pattern>
<filter id="dk0" x="0" y="0" width="100%" height="100%" color-interpolation-filters="sRGB"><feTurbulence type="fractalNoise" baseFrequency="0.075" numOctaves="2" seed="3"/><feColorMatrix type="matrix" values="0 0 0 0 0  0 0 0 0 0  0 0 0 0 0  3.2 0 0 0 -1.25"/></filter>
<filter id="dk1" x="0" y="0" width="100%" height="100%" color-interpolation-filters="sRGB"><feTurbulence type="fractalNoise" baseFrequency="0.075" numOctaves="2" seed="4"/><feColorMatrix type="matrix" values="0 0 0 0 0  0 0 0 0 0  0 0 0 0 0  3.2 0 0 0 -1.25"/></filter>
<filter id="dk2" x="0" y="0" width="100%" height="100%" color-interpolation-filters="sRGB"><feTurbulence type="fractalNoise" baseFrequency="0.075" numOctaves="2" seed="5"/><feColorMatrix type="matrix" values="0 0 0 0 0  0 0 0 0 0  0 0 0 0 0  3.2 0 0 0 -1.25"/></filter>
<filter id="dk3" x="0" y="0" width="100%" height="100%" color-interpolation-filters="sRGB"><feTurbulence type="fractalNoise" baseFrequency="0.075" numOctaves="2" seed="6"/><feColorMatrix type="matrix" values="0 0 0 0 0  0 0 0 0 0  0 0 0 0 0  3.2 0 0 0 -1.25"/></filter>
<filter id="dk4" x="0" y="0" width="100%" height="100%" color-interpolation-filters="sRGB"><feTurbulence type="fractalNoise" baseFrequency="0.075" numOctaves="2" seed="7"/><feColorMatrix type="matrix" values="0 0 0 0 0  0 0 0 0 0  0 0 0 0 0  3.2 0 0 0 -1.25"/></filter>
<filter id="dkS" x="0" y="0" width="100%" height="100%" color-interpolation-filters="sRGB"><feTurbulence type="fractalNoise" baseFrequency="0.09" numOctaves="2" seed="12"/><feColorMatrix type="matrix" values="0 0 0 0 0  0 0 0 0 0  0 0 0 0 0  4 0 0 0 -1.2"/></filter>
<filter id="tD" x="0" y="0" width="100%" height="100%" color-interpolation-filters="sRGB"><feTurbulence type="fractalNoise" baseFrequency="0.28" numOctaves="1" seed="2"/><feColorMatrix type="matrix" values="0 0 0 0 0.07  0 0 0 0 0.07  0 0 0 0 0.88  5.5 0 0 0 -2.45"/><feGaussianBlur stdDeviation="0.3"/></filter>
<filter id="tS" x="0" y="0" width="100%" height="100%" color-interpolation-filters="sRGB"><feTurbulence type="fractalNoise" baseFrequency="0.22" numOctaves="1" seed="7"/><feColorMatrix type="matrix" values="0 0 0 0 0.1  0 0 0 0 0.1  0 0 0 0 1  7 0 0 0 -3.9"/><feGaussianBlur stdDeviation="0.35"/></filter>
<filter id="bl05" filterUnits="userSpaceOnUse" x="0" y="0" width="210" height="930"><feGaussianBlur stdDeviation="0.45"/></filter>
<filter id="bl1" filterUnits="userSpaceOnUse" x="0" y="0" width="210" height="930"><feGaussianBlur stdDeviation="0.8"/></filter>
<filter id="bl2" filterUnits="userSpaceOnUse" x="0" y="0" width="210" height="930"><feGaussianBlur stdDeviation="1.6"/></filter>
<filter id="bl4" filterUnits="userSpaceOnUse" x="0" y="0" width="210" height="930"><feGaussianBlur stdDeviation="4"/></filter>
<filter id="bl6" filterUnits="userSpaceOnUse" x="0" y="0" width="210" height="930"><feGaussianBlur stdDeviation="6"/></filter>
<clipPath id="clipA0"><rect x="12.00" y="31.00" width="189.00" height="156.00"/></clipPath>
<clipPath id="clipA1"><rect x="12.50" y="211.20" width="188.50" height="163.50"/></clipPath>
<clipPath id="clipA2"><rect x="12.20" y="395.20" width="188.80" height="153.80"/></clipPath>
<clipPath id="clipA3"><rect x="13.20" y="569.00" width="187.80" height="162.00"/></clipPath>
<clipPath id="clipA4"><rect x="11.60" y="752.30" width="189.90" height="156.00"/></clipPath>
</defs>
<g clip-path="url(#clipA0)">
<rect x="12.00" y="31.00" width="189.00" height="156.00" fill="#000"/>
<rect x="12.00" y="31.00" width="189.00" height="156.00" fill="url(#pBig)" opacity="1.0" filter="url(#bl1)"/>
<ellipse cx="20.0" cy="41.0" rx="10.0" ry="11.0" fill="#000" opacity="0.95" filter="url(#bl2)"/>
<ellipse cx="160.0" cy="55.0" rx="16.0" ry="26.0" fill="#000" opacity="0.85" filter="url(#bl2)"/>
<ellipse cx="44.0" cy="80.0" rx="8.0" ry="7.0" fill="#000" opacity="0.85" filter="url(#bl2)"/>
<ellipse cx="175.0" cy="172.0" rx="28.0" ry="16.0" fill="#000" opacity="0.9" filter="url(#bl2)"/>
<ellipse cx="192.0" cy="126.0" rx="10.0" ry="17.0" fill="#000" opacity="0.8" filter="url(#bl2)"/>
<ellipse cx="72.0" cy="82.0" rx="6.0" ry="6.0" fill="#000" opacity="0.6" filter="url(#bl2)"/>
<ellipse cx="100.0" cy="140.0" rx="6.0" ry="4.0" fill="#000" opacity="0.5" filter="url(#bl2)"/>
<ellipse cx="152.0" cy="90.0" rx="8.0" ry="6.0" fill="#000" opacity="0.6" filter="url(#bl2)"/>
<ellipse cx="128.0" cy="84.0" rx="8.0" ry="4.0" fill="#000" opacity="0.6" filter="url(#bl2)"/>
<ellipse cx="35.0" cy="57.0" rx="10.0" ry="12.0" fill="#f6cfe6" opacity="0.55" filter="url(#bl2)"/>
<ellipse cx="62.0" cy="66.0" rx="10.0" ry="8.0" fill="#f6cfe6" opacity="0.5" filter="url(#bl2)"/>
<ellipse cx="115.0" cy="51.0" rx="9.0" ry="9.0" fill="#f6cfe6" opacity="0.55" filter="url(#bl2)"/>
<ellipse cx="106.0" cy="101.0" rx="12.0" ry="12.0" fill="#f6cfe6" opacity="0.5" filter="url(#bl2)"/>
<ellipse cx="160.0" cy="118.0" rx="17.0" ry="6.0" fill="#f6cfe6" opacity="0.5" filter="url(#bl2)"/>
<ellipse cx="70.0" cy="130.0" rx="8.0" ry="5.0" fill="#f6cfe6" opacity="0.45" filter="url(#bl2)"/>
<ellipse cx="122.0" cy="150.0" rx="7.0" ry="7.0" fill="#f6cfe6" opacity="0.55" filter="url(#bl2)"/>
<ellipse cx="142.0" cy="155.0" rx="8.0" ry="7.0" fill="#f6cfe6" opacity="0.55" filter="url(#bl2)"/>
<ellipse cx="42.0" cy="158.0" rx="8.0" ry="11.0" fill="#f6cfe6" opacity="0.35" filter="url(#bl2)"/>
<ellipse cx="88.0" cy="64.0" rx="4.0" ry="6.0" fill="#f6cfe6" opacity="0.4" filter="url(#bl2)"/>
<path d="M31.0,45.0 L35.0,42.0 L40.0,44.0 L38.0,48.0 L42.0,50.0" fill="none" stroke="#fdeaf4" stroke-width="2.16" stroke-linecap="round" stroke-linejoin="round" opacity="1" filter="url(#bl05)"/>
<path d="M25.0,58.0 L29.0,60.0 L33.0,58.0 L37.0,61.0 L41.0,58.0" fill="none" stroke="#f6cfe6" stroke-width="2.16" stroke-linecap="round" stroke-linejoin="round" opacity="1" filter="url(#bl05)"/>
<path d="M56.0,70.0 L60.0,64.0 L66.0,67.0 L70.0,66.0" fill="none" stroke="#fdeaf4" stroke-width="2.0250000000000004" stroke-linecap="round" stroke-linejoin="round" opacity="1" filter="url(#bl05)"/>
<path d="M110.0,43.0 L114.0,41.0 L118.0,45.0 L122.0,44.0" fill="none" stroke="#f6cfe6" stroke-width="2.16" stroke-linecap="round" stroke-linejoin="round" opacity="1" filter="url(#bl05)"/>
<path d="M111.0,59.0 L116.0,57.0 L120.0,60.0" fill="none" stroke="#f6cfe6" stroke-width="2.0250000000000004" stroke-linecap="round" stroke-linejoin="round" opacity="1" filter="url(#bl05)"/>
<path d="M150.0,113.0 L156.0,116.0 L162.0,114.0 L168.0,118.0" fill="none" stroke="#fdeaf4" stroke-width="2.0250000000000004" stroke-linecap="round" stroke-linejoin="round" opacity="1" filter="url(#bl05)"/>
<path d="M171.0,110.0 L174.0,114.0 L177.0,111.0 L179.0,116.0" fill="none" stroke="#f6cfe6" stroke-width="2.0250000000000004" stroke-linecap="round" stroke-linejoin="round" opacity="1" filter="url(#bl05)"/>
<path d="M119.0,144.0 L123.0,142.0 L127.0,146.0" fill="none" stroke="#f6cfe6" stroke-width="2.0250000000000004" stroke-linecap="round" stroke-linejoin="round" opacity="1" filter="url(#bl05)"/>
<path d="M139.0,150.0 L143.0,147.0 L148.0,150.0 L150.0,156.0" fill="none" stroke="#f6cfe6" stroke-width="2.0250000000000004" stroke-linecap="round" stroke-linejoin="round" opacity="1" filter="url(#bl05)"/>
<path d="M113.0,96.0 L117.0,94.0 L121.0,97.0 L119.0,103.0 L122.0,106.0" fill="none" stroke="#f6cfe6" stroke-width="2.0250000000000004" stroke-linecap="round" stroke-linejoin="round" opacity="1" filter="url(#bl05)"/>
<path d="M65.0,134.0 L70.0,133.0 L74.0,135.0" fill="none" stroke="#f6cfe6" stroke-width="2.0250000000000004" stroke-linecap="round" stroke-linejoin="round" opacity="1" filter="url(#bl05)"/>
<path d="M28.0,62.0 L31.0,55.0 L36.0,50.0 L42.0,52.0 L45.0,47.0 L43.0,40.0 L39.0,36.0" fill="none" stroke="#f6cfe6" stroke-width="3.24" stroke-linecap="round" stroke-linejoin="round" opacity="1" filter="url(#bl05)"/>
<path d="M27.0,66.0 L33.0,64.0 L38.0,58.0" fill="none" stroke="#f6cfe6" stroke-width="2.7" stroke-linecap="round" stroke-linejoin="round" opacity="1" filter="url(#bl05)"/>
<path d="M29.0,52.0 L34.0,48.0 L38.0,50.0" fill="none" stroke="#fdeaf4" stroke-width="2.43" stroke-linecap="round" stroke-linejoin="round" opacity="1" filter="url(#bl05)"/>
<path d="M33.0,68.0 L36.0,64.0 L40.0,66.0" fill="none" stroke="#f6cfe6" stroke-width="2.16" stroke-linecap="round" stroke-linejoin="round" opacity="1" filter="url(#bl05)"/>
<path d="M53.0,66.0 L57.0,61.0 L62.0,60.0 L67.0,63.0 L72.0,61.0" fill="none" stroke="#f6cfe6" stroke-width="3.24" stroke-linecap="round" stroke-linejoin="round" opacity="1" filter="url(#bl05)"/>
<path d="M58.0,68.0 L62.0,66.0 L64.0,72.0 L67.0,75.0" fill="none" stroke="#f6cfe6" stroke-width="2.7" stroke-linecap="round" stroke-linejoin="round" opacity="1" filter="url(#bl05)"/>
<path d="M84.0,59.0 L88.0,61.0 L90.0,66.0 L92.0,70.0" fill="none" stroke="#f6cfe6" stroke-width="2.9700000000000006" stroke-linecap="round" stroke-linejoin="round" opacity="1" filter="url(#bl05)"/>
<path d="M54.0,34.0 L59.0,32.0" fill="none" stroke="#f6cfe6" stroke-width="2.7" stroke-linecap="round" stroke-linejoin="round" opacity="1" filter="url(#bl05)"/>
<path d="M108.0,48.0 L112.0,45.0 L116.0,50.0 L120.0,47.0" fill="none" stroke="#fdeaf4" stroke-width="3.24" stroke-linecap="round" stroke-linejoin="round" opacity="1" filter="url(#bl05)"/>
<path d="M109.0,55.0 L114.0,52.0 L118.0,56.0 L122.0,54.0" fill="none" stroke="#f6cfe6" stroke-width="2.9700000000000006" stroke-linecap="round" stroke-linejoin="round" opacity="1" filter="url(#bl05)"/>
<ellipse cx="103.0" cy="100.0" rx="6.5" ry="6.0" fill="none" stroke="#f6cfe6" stroke-width="2.4" opacity="1" filter="url(#bl05)"/>
<path d="M112.0,92.0 L115.0,98.0 L113.0,104.0 L118.0,108.0 L121.0,112.0" fill="none" stroke="#f6cfe6" stroke-width="2.7" stroke-linecap="round" stroke-linejoin="round" opacity="1" filter="url(#bl05)"/>
<path d="M116.0,91.0 L119.0,96.0 L122.0,99.0" fill="none" stroke="#f6cfe6" stroke-width="2.43" stroke-linecap="round" stroke-linejoin="round" opacity="1" filter="url(#bl05)"/>
<path d="M106.0,104.0 L108.0,110.0 L109.0,117.0" fill="none" stroke="#fdeaf4" stroke-width="3.5100000000000002" stroke-linecap="round" stroke-linejoin="round" opacity="1" filter="url(#bl05)"/>
<ellipse cx="103.0" cy="100.0" rx="3.5" ry="3.0" fill="#000" opacity="0.9" filter="url(#bl1)"/>
<path d="M30.0,148.0 L36.0,151.0 L40.0,154.0 L44.0,158.0 L48.0,163.5 L52.0,168.0 L54.0,172.0 L55.0,177.0" fill="none" stroke="#d8b4e0" stroke-width="4.59" stroke-linecap="round" stroke-linejoin="round" opacity="0.9" filter="url(#bl05)"/>
<path d="M63.0,131.0 L67.0,127.0 L72.0,126.0 L75.0,129.0 L78.0,127.0" fill="none" stroke="#f6cfe6" stroke-width="3.24" stroke-linecap="round" stroke-linejoin="round" opacity="1" filter="url(#bl05)"/>
<path d="M59.0,116.5 L78.0,117.5" fill="none" stroke="#fdeaf4" stroke-width="1.4850000000000003" stroke-linecap="round" stroke-linejoin="round" opacity="1" filter="url(#bl05)"/>
<path d="M81.0,169.0 L84.0,172.0 L86.0,174.0" fill="none" stroke="#f6cfe6" stroke-width="2.7" stroke-linecap="round" stroke-linejoin="round" opacity="1" filter="url(#bl05)"/>
<path d="M137.0,118.0 L145.0,117.0 L152.0,120.0 L160.0,122.0 L165.0,119.0" fill="none" stroke="#f6cfe6" stroke-width="3.24" stroke-linecap="round" stroke-linejoin="round" opacity="1" filter="url(#bl05)"/>
<path d="M141.0,121.0 L150.0,123.0 L157.0,124.0" fill="none" stroke="#fdeaf4" stroke-width="1.89" stroke-linecap="round" stroke-linejoin="round" opacity="1" filter="url(#bl05)"/>
<path d="M161.0,113.0 L166.0,117.0 L170.0,114.0 L174.0,118.0 L178.0,116.0" fill="none" stroke="#f6cfe6" stroke-width="2.7" stroke-linecap="round" stroke-linejoin="round" opacity="1" filter="url(#bl05)"/>
<path d="M165.0,109.0 L168.0,113.0" fill="none" stroke="#f6cfe6" stroke-width="2.0250000000000004" stroke-linecap="round" stroke-linejoin="round" opacity="1" filter="url(#bl05)"/>
<path d="M125.0,146.0 L119.0,147.0 L117.0,151.0 L120.0,155.0 L127.0,155.0" fill="none" stroke="#fdeaf4" stroke-width="4.050000000000001" stroke-linecap="round" stroke-linejoin="round" opacity="1" filter="url(#bl05)"/>
<path d="M136.0,158.0 L139.0,152.0 L143.0,150.0 L147.0,154.0 L146.0,159.0 L141.0,161.0" fill="none" stroke="#fdeaf4" stroke-width="3.78" stroke-linecap="round" stroke-linejoin="round" opacity="1" filter="url(#bl05)"/>
<path d="M112.0,136.0 L116.0,134.0" fill="none" stroke="#f6cfe6" stroke-width="2.7" stroke-linecap="round" stroke-linejoin="round" opacity="1" filter="url(#bl05)"/>
<path d="M133.0,129.0 L133.0,134.0" fill="none" stroke="#f6cfe6" stroke-width="2.7" stroke-linecap="round" stroke-linejoin="round" opacity="1" filter="url(#bl05)"/>
<path d="M55.0,99.0 L56.0,106.0" fill="none" stroke="#fdeaf4" stroke-width="2.9700000000000006" stroke-linecap="round" stroke-linejoin="round" opacity="1" filter="url(#bl05)"/>
<path d="M97.0,93.0 L100.0,102.0 L104.0,108.0" fill="none" stroke="#f6cfe6" stroke-width="1.35" stroke-linecap="round" stroke-linejoin="round" opacity="1" filter="url(#bl05)"/>
<ellipse cx="45.5" cy="90.5" rx="4.5" ry="3.2" fill="#28e838" opacity="0.95" filter="url(#bl05)" transform="rotate(-35 45.5 90.5)"/>
<ellipse cx="41.0" cy="100.5" rx="3.3" ry="2.4" fill="#28e838" opacity="0.95" filter="url(#bl05)" transform="rotate(-30 41.0 100.5)"/>
<ellipse cx="59.0" cy="135.5" rx="4.5" ry="2.8" fill="#28e838" opacity="0.8" filter="url(#bl05)" transform="rotate(20 59.0 135.5)"/>
<ellipse cx="134.5" cy="52.5" rx="2.8" ry="2.2" fill="#28e838" opacity="0.9" filter="url(#bl05)"/>
<ellipse cx="195.0" cy="61.0" rx="6.0" ry="3.2" fill="#28e838" opacity="0.75" filter="url(#bl05)" transform="rotate(15 195.0 61.0)"/>
<ellipse cx="137.5" cy="34.0" rx="1.3" ry="1.8" fill="#28e838" opacity="0.7" filter="url(#bl05)"/>
<ellipse cx="19.0" cy="77.0" rx="5.0" ry="3.0" fill="#ff7818" opacity="0.45" filter="url(#bl1)"/>
<ellipse cx="14.0" cy="181.0" rx="3.0" ry="6.0" fill="#ff7818" opacity="0.55" filter="url(#bl1)"/>
<ellipse cx="90.0" cy="112.0" rx="6.0" ry="5.0" fill="#ff7818" opacity="0.55" filter="url(#bl1)"/>
<ellipse cx="97.5" cy="91.0" rx="1.5" ry="2.0" fill="#ff7818" opacity="0.8" filter="url(#bl05)"/>
<ellipse cx="92.0" cy="112.0" rx="3.0" ry="2.5" fill="#b060c0" opacity="0.5" filter="url(#bl1)"/>
<path d="M14.8,182.9 L34.2,182.9" fill="none" stroke="#f0f0f0" stroke-width="0.9" stroke-linecap="round" stroke-linejoin="round" opacity="1" filter="url(#bl05)"/>
</g>
<defs><mask id="mB1" maskUnits="userSpaceOnUse" x="12.5" y="211.2" width="188.5" height="163.5"><g filter="url(#bl4)">
<ellipse cx="34.0" cy="334.0" rx="18.0" ry="26.0" fill="#fff" opacity="1"/>
<ellipse cx="170.0" cy="354.0" rx="32.0" ry="7.0" fill="#fff" opacity="1"/>
<ellipse cx="160.0" cy="250.0" rx="8.0" ry="10.0" fill="#fff" opacity="0.3"/>
</g></mask></defs>
<g clip-path="url(#clipA1)">
<rect x="12.50" y="211.20" width="188.50" height="163.50" fill="#000"/>
<rect x="12.50" y="211.20" width="188.50" height="163.50" fill="url(#pSp)" opacity="1" filter="url(#bl05)"/>
<g mask="url(#mB1)"><rect x="12.50" y="211.20" width="188.50" height="163.50" fill="#1212b0" opacity="0.55"/><rect x="12.50" y="211.20" width="188.50" height="163.50" fill="url(#pN)" filter="url(#bl05)"/></g>
<ellipse cx="58.0" cy="318.0" rx="8.0" ry="12.0" fill="#000" opacity="0.85" filter="url(#bl2)"/>
<ellipse cx="150.0" cy="262.0" rx="28.0" ry="20.0" fill="#000" opacity="0.65" filter="url(#bl2)"/>
<ellipse cx="40.0" cy="240.0" rx="22.0" ry="18.0" fill="#000" opacity="0.55" filter="url(#bl2)"/>
<ellipse cx="185.0" cy="372.0" rx="22.0" ry="6.0" fill="#000" opacity="0.9" filter="url(#bl2)"/>
<ellipse cx="75.0" cy="228.0" rx="16.0" ry="12.0" fill="#000" opacity="0.55" filter="url(#bl2)"/>
<ellipse cx="130.0" cy="320.0" rx="10.0" ry="8.0" fill="#000" opacity="0.4" filter="url(#bl2)"/>
<ellipse cx="120.0" cy="230.0" rx="20.0" ry="14.0" fill="#000" opacity="0.5" filter="url(#bl2)"/>
<ellipse cx="170.0" cy="222.0" rx="20.0" ry="10.0" fill="#000" opacity="0.4" filter="url(#bl2)"/>
<ellipse cx="88.0" cy="246.0" rx="20.0" ry="6.0" fill="#f6cfe6" opacity="0.3" filter="url(#bl2)"/>
<ellipse cx="103.0" cy="291.0" rx="14.0" ry="13.0" fill="#f6cfe6" opacity="0.35" filter="url(#bl2)"/>
<ellipse cx="150.0" cy="302.0" rx="6.0" ry="5.0" fill="#f6cfe6" opacity="0.3" filter="url(#bl2)"/>
<ellipse cx="176.0" cy="313.0" rx="10.0" ry="5.0" fill="#f6cfe6" opacity="0.3" filter="url(#bl2)"/>
<path d="M69,244 L76,246 L84,247 L95,243 L103.5,238 L108,234 L106,240 L100.8,247 L92.4,252.6 L81.3,255.4 L71.6,252.6 Z" fill="#3030d0" opacity="0.85" filter="url(#bl05)"/>
<path d="M68.9,244.3 L76.0,246.0 L84.0,247.0 L95.0,243.0 L103.5,238.0 L108.0,234.0" fill="none" stroke="#fdeaf4" stroke-width="3.5100000000000002" stroke-linecap="round" stroke-linejoin="round" opacity="1" filter="url(#bl05)"/>
<path d="M71.6,252.6 L81.3,255.4 L92.4,252.6 L100.8,247.0 L106.0,240.0" fill="none" stroke="#f6cfe6" stroke-width="2.7" stroke-linecap="round" stroke-linejoin="round" opacity="1" filter="url(#bl05)"/>
<path d="M74.0,249.0 L84.0,251.0 L95.0,248.0" fill="none" stroke="#f6cfe6" stroke-width="1.35" stroke-linecap="round" stroke-linejoin="round" opacity="1" filter="url(#bl05)"/>
<path d="M12.0,219.0 L17.0,217.0 L19.0,221.0" fill="none" stroke="#f6cfe6" stroke-width="3.375" stroke-linecap="round" stroke-linejoin="round" opacity="1" filter="url(#bl05)"/>
<path d="M18.5,291.0 L25.0,289.0 L33.0,291.0 L40.0,293.0 L47.0,292.0" fill="none" stroke="#f6cfe6" stroke-width="3.5100000000000002" stroke-linecap="round" stroke-linejoin="round" opacity="1" filter="url(#bl05)"/>
<path d="M75.0,265.0 L79.0,262.0 L83.0,263.0" fill="none" stroke="#f6cfe6" stroke-width="2.7" stroke-linecap="round" stroke-linejoin="round" opacity="1" filter="url(#bl05)"/>
<path d="M81.3,270.3 L91.0,270.3" fill="none" stroke="#fdeaf4" stroke-width="1.62" stroke-linecap="round" stroke-linejoin="round" opacity="1" filter="url(#bl05)"/>
<ellipse cx="103.4" cy="291.4" rx="10.5" ry="8.8" fill="none" stroke="#ff7818" stroke-width="3.4" opacity="1" filter="url(#bl05)" transform="rotate(30 103.4 291.4)"/>
<ellipse cx="103.4" cy="291.4" rx="7.8" ry="6.4" fill="none" stroke="#f6cfe6" stroke-width="2.8" opacity="1" filter="url(#bl05)" transform="rotate(30 103.4 291.4)"/>
<ellipse cx="101.9" cy="289.9" rx="5.0" ry="4.0" fill="#000" opacity="1" filter="url(#bl05)" transform="rotate(30 101.9 289.9)"/>
<path d="M109.0,303.0 L112.0,308.0 L116.5,314.7" fill="none" stroke="#f6cfe6" stroke-width="4.050000000000001" stroke-linecap="round" stroke-linejoin="round" opacity="1" filter="url(#bl05)"/>
<path d="M120.0,216.0 L125.0,214.0" fill="none" stroke="#f6cfe6" stroke-width="2.7" stroke-linecap="round" stroke-linejoin="round" opacity="1" filter="url(#bl05)"/>
<path d="M145.0,217.0 L141.5,227.0" fill="none" stroke="#f6cfe6" stroke-width="2.9700000000000006" stroke-linecap="round" stroke-linejoin="round" opacity="1" filter="url(#bl05)"/>
<path d="M155.0,223.0 L158.0,218.0 L161.0,219.0" fill="none" stroke="#f6cfe6" stroke-width="3.375" stroke-linecap="round" stroke-linejoin="round" opacity="1" filter="url(#bl05)"/>
<path d="M108.0,232.0 L107.0,240.0" fill="none" stroke="#f6cfe6" stroke-width="3.375" stroke-linecap="round" stroke-linejoin="round" opacity="1" filter="url(#bl05)"/>
<path d="M117.0,242.0 L121.0,240.0 L124.0,237.0" fill="none" stroke="#f6cfe6" stroke-width="3.375" stroke-linecap="round" stroke-linejoin="round" opacity="1" filter="url(#bl05)"/>
<path d="M188.0,237.0 L193.0,232.0 L198.0,228.0" fill="none" stroke="#f6cfe6" stroke-width="2.7" stroke-linecap="round" stroke-linejoin="round" opacity="1" filter="url(#bl05)"/>
<ellipse cx="179.7" cy="248.3" rx="2.5" ry="3.0" fill="none" stroke="#f6cfe6" stroke-width="1.2" opacity="1" filter="url(#bl05)"/>
<ellipse cx="150.5" cy="302.5" rx="6.0" ry="3.5" fill="#f6cfe6" opacity="0.9" filter="url(#bl05)" transform="rotate(35 150.5 302.5)"/>
<ellipse cx="176.0" cy="312.8" rx="8.0" ry="3.5" fill="none" stroke="#fdeaf4" stroke-width="2.4" opacity="1" filter="url(#bl05)" transform="rotate(10 176.0 312.8)"/>
<path d="M127.0,333.5 L133.5,329.5" fill="none" stroke="#f6cfe6" stroke-width="2.7" stroke-linecap="round" stroke-linejoin="round" opacity="1" filter="url(#bl05)"/>
<ellipse cx="115.0" cy="337.0" rx="3.0" ry="3.5" fill="#f6cfe6" opacity="0.9" filter="url(#bl05)"/>
<path d="M90.0,319.0 L95.0,315.0 L98.0,313.0" fill="none" stroke="#f6cfe6" stroke-width="2.7" stroke-linecap="round" stroke-linejoin="round" opacity="1" filter="url(#bl05)"/>
<path d="M83.0,325.0 L87.0,322.5" fill="none" stroke="#f6cfe6" stroke-width="2.43" stroke-linecap="round" stroke-linejoin="round" opacity="1" filter="url(#bl05)"/>
<path d="M79.0,374.0 L84.0,371.0 L89.0,373.0" fill="none" stroke="#f6cfe6" stroke-width="2.7" stroke-linecap="round" stroke-linejoin="round" opacity="1" filter="url(#bl05)"/>
<path d="M115.7,376.0 L121.0,368.0 L126.8,361.3 L136.5,350.3 L147.6,340.5 L156.0,336.5 L164.3,333.6" fill="none" stroke="#ff8230" stroke-width="6.0" stroke-linecap="round" stroke-linejoin="round" opacity="1" filter="url(#bl05)"/>
<path d="M174.0,333.0 L182.0,335.0 L189.2,337.8 L196.0,340.5 L202.0,344.0" fill="none" stroke="#ff8230" stroke-width="6.0" stroke-linecap="round" stroke-linejoin="round" opacity="1" filter="url(#bl05)"/>
<path d="M121.0,367.0 L128.0,359.0 L137.0,349.5" fill="none" stroke="#ffa070" stroke-width="1.2" stroke-linecap="round" stroke-linejoin="round" opacity="1" filter="url(#bl05)"/>
<ellipse cx="18.7" cy="251.0" rx="3.5" ry="4.5" fill="#28e838" opacity="0.7" filter="url(#bl05)"/>
<ellipse cx="50.0" cy="297.5" rx="4.5" ry="4.0" fill="#28e838" opacity="0.75" filter="url(#bl05)"/>
<ellipse cx="70.0" cy="341.0" rx="2.5" ry="4.0" fill="#28e838" opacity="0.8" filter="url(#bl05)"/>
<ellipse cx="84.5" cy="339.0" rx="3.0" ry="6.0" fill="#28e838" opacity="0.95" filter="url(#bl05)"/>
<ellipse cx="85.0" cy="339.0" rx="1.5" ry="4.0" fill="#fdeaf4" opacity="0.7" filter="url(#bl05)"/>
<ellipse cx="90.0" cy="278.5" rx="4.5" ry="2.5" fill="#28e838" opacity="0.9" filter="url(#bl05)" transform="rotate(-20 90.0 278.5)"/>
<ellipse cx="180.5" cy="229.3" rx="2.2" ry="1.8" fill="#28e838" opacity="0.9" filter="url(#bl05)"/>
<ellipse cx="181.6" cy="242.8" rx="2.5" ry="2.5" fill="#28e838" opacity="0.9" filter="url(#bl05)"/>
<ellipse cx="194.8" cy="268.5" rx="4.0" ry="3.5" fill="#28e838" opacity="0.8" filter="url(#bl05)"/>
<ellipse cx="183.0" cy="281.0" rx="5.0" ry="3.0" fill="#28e838" opacity="0.9" filter="url(#bl05)"/>
<ellipse cx="141.0" cy="266.0" rx="6.0" ry="1.5" fill="#28e838" opacity="0.4" filter="url(#bl05)"/>
<ellipse cx="177.8" cy="300.3" rx="3.5" ry="4.5" fill="#28e838" opacity="0.85" filter="url(#bl05)"/>
<ellipse cx="164.0" cy="301.0" rx="2.5" ry="3.0" fill="#20c0a0" opacity="0.7" filter="url(#bl05)"/>
<path d="M16.2,368.3 L37.7,368.3" fill="none" stroke="#f0f0f0" stroke-width="0.9" stroke-linecap="round" stroke-linejoin="round" opacity="1" filter="url(#bl05)"/>
</g>
<g clip-path="url(#clipA2)">
<rect x="12.20" y="395.20" width="188.80" height="153.80" fill="#000"/>
<rect x="12.20" y="395.20" width="188.80" height="153.80" fill="url(#pN)" opacity="1" filter="url(#bl05)"/>
<rect x="12.20" y="395.20" width="188.80" height="153.80" fill="#000" opacity="1" filter="url(#dk2)"/>
<rect x="12.20" y="395.20" width="188.80" height="153.80" fill="#000" opacity="0.3"/>
<ellipse cx="68.0" cy="496.0" rx="12.0" ry="11.0" fill="#000" opacity="0.95" filter="url(#bl2)"/>
<ellipse cx="152.0" cy="487.0" rx="13.0" ry="11.0" fill="#000" opacity="0.8" filter="url(#bl2)"/>
<ellipse cx="60.0" cy="470.0" rx="6.0" ry="5.0" fill="#000" opacity="0.5" filter="url(#bl2)"/>
<ellipse cx="186.0" cy="420.0" rx="8.0" ry="10.0" fill="#000" opacity="0.5" filter="url(#bl2)"/>
<ellipse cx="135.0" cy="415.0" rx="8.0" ry="6.0" fill="#000" opacity="0.4" filter="url(#bl2)"/>
<path d="M87.3,547.3 L87.0,543.6 L87.8,538.8 L88.5,534.4 M147.0,414.1 L146.6,417.5 L146.3,420.8 L144.9,424.0 M146.3,417.8 L147.9,421.6 L146.0,424.5 L145.0,428.0 L144.9,432.1 M149.6,435.1 L148.7,438.4 L150.2,442.7 M32.7,491.9 L35.0,488.3 L35.9,484.3 L36.4,480.5 M26.9,538.7 L29.7,534.7 L27.7,531.3 L25.9,527.4 L23.4,523.7 M145.4,529.7 L144.3,532.4 L140.3,534.2 L137.3,532.1 L137.4,529.3 M54.5,496.7 L58.7,499.3 L61.4,500.6 L63.4,503.3 L66.1,504.3 M119.5,525.7 L118.4,522.7 L120.7,520.8 L119.4,517.6 M151.8,502.2 L150.5,504.8 L148.3,507.3 L149.8,509.8 M140.0,425.2 L137.3,424.9 L135.3,426.8 L134.0,430.0 L133.0,434.0 M156.2,517.9 L152.7,516.9 L149.7,515.6 L146.6,515.9 L144.7,513.6 M48.1,489.4 L46.5,486.2 L46.4,483.0 L48.9,478.8 M52.9,468.8 L52.1,464.0 L53.1,459.7 M35.4,533.6 L34.7,530.5 L35.3,526.3 M50.3,496.8 L49.3,491.9 L46.9,491.1 M166.8,434.9 L168.6,432.6 L172.4,431.3 L177.1,431.8 L179.7,431.8 M154.6,448.6 L157.0,449.9 L159.2,451.2 L159.1,455.0 L162.5,457.4 M17.3,548.1 L12.4,546.9 L8.0,544.6 L5.3,543.9 L3.3,546.4 M198.1,514.6 L195.2,517.6 L193.3,521.6 L189.1,522.2 L185.3,520.6 M33.1,424.2 L35.3,426.1 L38.8,425.7 M54.4,529.9 L53.4,527.5 L50.9,525.5 M45.0,414.1 L48.1,411.2 L50.2,407.3 L54.2,407.5 L55.5,412.0 M169.5,401.9 L166.7,397.8 L167.7,394.5 L167.5,391.4 M128.4,519.2 L132.6,518.5 L136.2,521.0 L141.1,521.0 L144.6,523.4 M143.1,451.8 L140.3,453.1 L137.1,451.1 L134.8,452.7 M78.2,431.7 L75.4,431.6 L74.2,428.7 L70.8,427.8 M114.7,452.1 L118.3,450.0 L119.8,447.0 L120.4,442.6 L121.3,439.7 M100.0,435.4 L102.9,432.1 L105.5,432.7 L108.1,435.7 M129.5,448.7 L126.7,446.1 L124.4,442.6 L120.7,441.4 L118.6,439.2 M123.0,430.7 L120.5,428.7 L117.7,429.5 L113.7,431.5 M182.4,400.6 L187.1,402.0 L189.1,399.5 L193.0,400.4 L193.4,405.0 M149.3,509.7 L153.6,512.0 L154.2,515.4 L156.7,517.5 L155.5,521.1 M170.7,532.4 L173.8,534.5 L174.4,538.9 M125.3,432.0 L122.3,433.8 L117.6,434.2 M12.6,483.9 L12.9,486.5 L11.5,489.6 L13.3,491.9 L12.9,495.8 M103.1,500.0 L105.7,496.6 L105.2,492.0 L108.2,489.1 M81.1,539.7 L83.6,543.6 L84.1,546.9 L84.9,549.4 M109.7,544.9 L108.0,540.7 L105.4,537.8 L106.7,535.4 M53.2,417.5 L55.7,420.4 L54.7,423.1 M97.5,542.4 L101.6,541.2 L101.8,538.3 L101.2,535.0 L98.6,532.1 M48.6,433.1 L48.7,430.5 L46.4,426.0 M178.1,453.7 L178.4,456.3 L178.5,459.2 L181.4,460.1 L184.0,462.9 M160.7,401.2 L159.2,405.7 L159.0,410.6 M18.1,403.1 L15.8,404.4 L15.1,406.9 L14.4,409.5 M82.5,525.8 L83.1,530.5 L81.2,532.4 L81.4,535.6 L78.2,538.3 M16.1,485.8 L15.7,482.6 L18.6,479.4 L18.2,474.5 L19.5,472.2 M121.3,444.7 L123.5,442.6 L123.5,439.9 M119.3,518.6 L119.3,514.9 L116.9,513.6 L114.8,515.6 L110.9,517.0 M82.1,536.6 L79.3,536.5 L77.3,539.5 L73.1,538.7 L70.4,542.7 M65.1,395.5 L65.9,398.1 L68.9,398.3 L71.2,400.5 M51.4,465.8 L54.2,469.2 L57.3,469.9 L59.9,466.2 L64.8,466.1 M171.9,541.4 L174.5,540.5 L178.8,540.4 M92.1,457.4 L92.3,454.7 L94.7,451.4 L93.3,448.1 L89.6,445.5 M41.0,406.6 L37.9,409.6 L37.5,413.5 L39.9,416.2 M24.1,472.9 L19.6,472.7 L17.0,475.4 M136.1,505.5 L133.6,507.3 L132.7,510.6 L131.0,513.5 M155.4,419.0 L158.7,421.9 L160.9,423.8 L163.2,428.3 L165.6,430.2 M62.8,541.1 L60.6,544.8 L61.2,549.6 M105.9,416.0 L103.0,413.3 L104.4,410.4 L106.5,407.1 L110.7,406.2 M196.9,500.2 L197.4,497.7 L196.1,494.8 M97.3,400.1 L95.5,397.0 L91.0,395.7 L86.4,393.9 M149.6,534.1 L150.9,531.5 L155.1,531.8 L159.2,529.0 L162.7,530.3 M20.3,415.6 L16.5,414.1 L13.8,413.1 L9.5,413.6 M166.9,515.0 L164.2,511.9 L166.3,508.6 L169.8,507.4 L172.4,503.4 M59.9,430.5 L59.0,435.1 L55.3,438.4 L54.3,442.9 M141.0,435.8 L143.6,438.5 L145.7,441.2 L143.9,444.3 M160.8,443.3 L156.4,443.3 L152.3,442.1 L147.5,441.8 M111.9,402.2 L109.8,400.7 L108.8,397.8 L106.1,396.1 M182.9,512.4 L185.4,513.1 L189.4,515.0" fill="none" stroke="#f0c4dc" stroke-width="1.7" stroke-linecap="round" stroke-linejoin="round" opacity="0.95" filter="url(#bl05)"/>
<ellipse cx="101.0" cy="477.0" rx="21.0" ry="17.0" fill="#f0c4dc" opacity="0.35" filter="url(#bl2)"/>
<ellipse cx="145.0" cy="525.0" rx="16.0" ry="9.0" fill="#f0c4dc" opacity="0.35" filter="url(#bl2)"/>
<ellipse cx="143.0" cy="432.0" rx="12.0" ry="12.0" fill="#f0c4dc" opacity="0.25" filter="url(#bl2)"/>
<ellipse cx="41.0" cy="435.0" rx="14.0" ry="11.0" fill="none" stroke="#2a2aff" stroke-width="5" opacity="0.9" filter="url(#bl1)"/>
<ellipse cx="42.0" cy="436.0" rx="8.0" ry="5.5" fill="#000" opacity="0.95" filter="url(#bl1)"/>
<path d="M38.0,424.0 L42.0,412.0 L48.0,404.0 L53.0,400.0" fill="none" stroke="#2a2aff" stroke-width="5" stroke-linecap="round" stroke-linejoin="round" opacity="0.9" filter="url(#bl1)"/>
<path d="M35.0,423.0 L36.0,412.0 L42.0,403.0" fill="none" stroke="#c06020" stroke-width="1.2" stroke-linecap="round" stroke-linejoin="round" opacity="0.7" filter="url(#bl05)"/>
<path d="M55.0,409.0 L58.0,416.0 L61.0,422.0" fill="none" stroke="#a04818" stroke-width="1.5" stroke-linecap="round" stroke-linejoin="round" opacity="0.6" filter="url(#bl05)"/>
<ellipse cx="119.0" cy="420.0" rx="9.0" ry="10.0" fill="none" stroke="#2a2aff" stroke-width="3.5" opacity="0.85" filter="url(#bl1)"/>
<ellipse cx="119.0" cy="420.0" rx="6.0" ry="7.0" fill="#000" opacity="0.9" filter="url(#bl1)"/>
<ellipse cx="118.0" cy="535.0" rx="13.0" ry="11.0" fill="none" stroke="#2a2aff" stroke-width="5" opacity="0.95" filter="url(#bl1)"/>
<ellipse cx="117.0" cy="534.0" rx="7.0" ry="6.0" fill="#000" opacity="0.95" filter="url(#bl1)"/>
<ellipse cx="180.0" cy="540.0" rx="24.0" ry="10.0" fill="#2424f0" opacity="0.9" filter="url(#bl1)" transform="rotate(-8 180.0 540.0)"/>
<path d="M160.0,531.0 L168.0,534.0" fill="none" stroke="#ff7818" stroke-width="1.2" stroke-linecap="round" stroke-linejoin="round" opacity="1" filter="url(#bl05)"/>
<path d="M165.0,544.0 L180.0,541.0 L200.0,540.0" fill="none" stroke="#000" stroke-width="1.2" stroke-linecap="round" stroke-linejoin="round" opacity="0.7" filter="url(#bl05)"/>
<path d="M162.0,538.0 L180.0,535.0 L200.0,534.0" fill="none" stroke="#000" stroke-width="1.0" stroke-linecap="round" stroke-linejoin="round" opacity="0.6" filter="url(#bl05)"/>
<path d="M30.0,398.0 L34.0,405.0 L33.0,412.0 L37.0,416.0" fill="none" stroke="#f0c4dc" stroke-width="2.43" stroke-linecap="round" stroke-linejoin="round" opacity="1" filter="url(#bl05)"/>
<path d="M18.0,409.0 L22.0,414.0 L26.0,411.0" fill="none" stroke="#f0c4dc" stroke-width="2.16" stroke-linecap="round" stroke-linejoin="round" opacity="1" filter="url(#bl05)"/>
<path d="M61.0,410.0 L65.0,417.0 L62.0,423.0 L68.0,429.0 L73.0,431.0" fill="none" stroke="#f0c4dc" stroke-width="2.7" stroke-linecap="round" stroke-linejoin="round" opacity="1" filter="url(#bl05)"/>
<path d="M66.0,412.0 L72.0,410.0 L74.0,416.0" fill="none" stroke="#f0c4dc" stroke-width="2.16" stroke-linecap="round" stroke-linejoin="round" opacity="1" filter="url(#bl05)"/>
<path d="M77.0,414.0 L87.0,415.0" fill="none" stroke="#f0c4dc" stroke-width="2.16" stroke-linecap="round" stroke-linejoin="round" opacity="1" filter="url(#bl05)"/>
<path d="M95.0,401.0 L101.0,405.0" fill="none" stroke="#f0c4dc" stroke-width="2.7" stroke-linecap="round" stroke-linejoin="round" opacity="1" filter="url(#bl05)"/>
<path d="M95.0,430.0 L99.0,424.0 L103.0,421.0" fill="none" stroke="#f0c4dc" stroke-width="2.7" stroke-linecap="round" stroke-linejoin="round" opacity="1" filter="url(#bl05)"/>
<path d="M53.6,453.0 L62.0,448.0 L70.0,444.0 L79.0,440.0 L88.3,436.6" fill="none" stroke="#f0c4dc" stroke-width="2.7" stroke-linecap="round" stroke-linejoin="round" opacity="1" filter="url(#bl05)"/>
<path d="M59.0,456.0 L66.0,452.0 L73.0,447.7" fill="none" stroke="#f0c4dc" stroke-width="2.43" stroke-linecap="round" stroke-linejoin="round" opacity="1" filter="url(#bl05)"/>
<path d="M45.3,468.5 L52.0,464.0 L57.8,460.0" fill="none" stroke="#f0c4dc" stroke-width="2.43" stroke-linecap="round" stroke-linejoin="round" opacity="1" filter="url(#bl05)"/>
<path d="M15.0,440.0 L20.0,445.0 L18.0,452.0" fill="none" stroke="#f0c4dc" stroke-width="2.16" stroke-linecap="round" stroke-linejoin="round" opacity="1" filter="url(#bl05)"/>
<path d="M20.0,465.0 L28.0,470.0" fill="none" stroke="#f0c4dc" stroke-width="2.16" stroke-linecap="round" stroke-linejoin="round" opacity="1" filter="url(#bl05)"/>
<path d="M122.6,396.0 L126.0,400.0 L131.0,402.0" fill="none" stroke="#f0c4dc" stroke-width="2.7" stroke-linecap="round" stroke-linejoin="round" opacity="1" filter="url(#bl05)"/>
<path d="M113.0,401.0 L118.0,406.0 L124.0,410.0" fill="none" stroke="#f0c4dc" stroke-width="2.7" stroke-linecap="round" stroke-linejoin="round" opacity="1" filter="url(#bl05)"/>
<path d="M160.0,404.0 L163.0,398.0 L167.0,396.0" fill="none" stroke="#f0c4dc" stroke-width="2.7" stroke-linecap="round" stroke-linejoin="round" opacity="1" filter="url(#bl05)"/>
<path d="M139.0,408.0 L144.0,412.0 L147.6,416.0" fill="none" stroke="#f0c4dc" stroke-width="2.7" stroke-linecap="round" stroke-linejoin="round" opacity="1" filter="url(#bl05)"/>
<path d="M147.6,416.0 L155.0,419.0 L162.0,423.0 L171.0,425.0" fill="none" stroke="#f0c4dc" stroke-width="2.7" stroke-linecap="round" stroke-linejoin="round" opacity="1" filter="url(#bl05)"/>
<path d="M132.0,423.0 L137.0,428.0 L135.0,434.0 L141.0,438.0 L148.0,436.0 L152.0,441.0" fill="none" stroke="#f0c4dc" stroke-width="2.9700000000000006" stroke-linecap="round" stroke-linejoin="round" opacity="1" filter="url(#bl05)"/>
<path d="M136.0,441.0 L143.0,444.0 L151.0,443.0" fill="none" stroke="#f0c4dc" stroke-width="2.7" stroke-linecap="round" stroke-linejoin="round" opacity="1" filter="url(#bl05)"/>
<path d="M154.5,444.0 L159.0,447.0 L164.0,450.0" fill="none" stroke="#f0c4dc" stroke-width="2.7" stroke-linecap="round" stroke-linejoin="round" opacity="1" filter="url(#bl05)"/>
<path d="M153.0,451.0 L155.0,460.0 L157.0,472.0" fill="none" stroke="#f0c4dc" stroke-width="2.7" stroke-linecap="round" stroke-linejoin="round" opacity="1" filter="url(#bl05)"/>
<path d="M171.0,466.0 L176.0,464.0 L181.0,467.0" fill="none" stroke="#f0c4dc" stroke-width="2.7" stroke-linecap="round" stroke-linejoin="round" opacity="1" filter="url(#bl05)"/>
<path d="M196.0,455.0 L198.0,463.0 L200.0,470.0" fill="none" stroke="#f0c4dc" stroke-width="2.7" stroke-linecap="round" stroke-linejoin="round" opacity="1" filter="url(#bl05)"/>
<path d="M193.0,437.0 L197.0,440.0 L201.0,438.0" fill="none" stroke="#f0c4dc" stroke-width="2.43" stroke-linecap="round" stroke-linejoin="round" opacity="1" filter="url(#bl05)"/>
<ellipse cx="178.0" cy="466.0" rx="19.0" ry="12.0" fill="#000" opacity="0.85" filter="url(#bl1)" transform="rotate(-5 178.0 466.0)"/>
<path d="M161.0,470.0 L163.0,475.0 L172.6,478.6 L183.7,477.0 L194.8,473.8 L199.0,468.0" fill="none" stroke="#f0c4dc" stroke-width="2.7" stroke-linecap="round" stroke-linejoin="round" opacity="1" filter="url(#bl05)"/>
<path d="M170.0,469.0 L176.0,466.0 L183.0,467.0" fill="none" stroke="#f0c4dc" stroke-width="3.5100000000000002" stroke-linecap="round" stroke-linejoin="round" opacity="1" filter="url(#bl05)"/>
<path d="M140.0,484.0 L135.0,490.0 L130.0,496.0 L125.0,501.0" fill="none" stroke="#f0c4dc" stroke-width="2.7" stroke-linecap="round" stroke-linejoin="round" opacity="1" filter="url(#bl05)"/>
<path d="M145.0,503.0 L152.0,502.0 L160.0,505.0" fill="none" stroke="#f0c4dc" stroke-width="2.43" stroke-linecap="round" stroke-linejoin="round" opacity="1" filter="url(#bl05)"/>
<path d="M165.0,486.0 L168.0,490.0 L170.0,493.0" fill="none" stroke="#f0c4dc" stroke-width="2.43" stroke-linecap="round" stroke-linejoin="round" opacity="1" filter="url(#bl05)"/>
<path d="M148.0,511.0 L150.0,515.0 L153.0,519.0" fill="none" stroke="#f0c4dc" stroke-width="2.43" stroke-linecap="round" stroke-linejoin="round" opacity="1" filter="url(#bl05)"/>
<path d="M137.0,522.0 L145.0,520.0 L153.0,523.0 L162.0,521.0 L172.0,527.0" fill="none" stroke="#f0c4dc" stroke-width="4.050000000000001" stroke-linecap="round" stroke-linejoin="round" opacity="1" filter="url(#bl05)"/>
<path d="M142.0,531.0 L148.0,536.0 L152.0,541.0 L158.0,546.0" fill="none" stroke="#f0c4dc" stroke-width="3.24" stroke-linecap="round" stroke-linejoin="round" opacity="1" filter="url(#bl05)"/>
<path d="M182.0,504.0 L186.0,510.0 L191.0,518.0" fill="none" stroke="#f0c4dc" stroke-width="2.7" stroke-linecap="round" stroke-linejoin="round" opacity="1" filter="url(#bl05)"/>
<path d="M194.0,491.0 L198.0,497.0 L201.0,500.0" fill="none" stroke="#f0c4dc" stroke-width="2.43" stroke-linecap="round" stroke-linejoin="round" opacity="1" filter="url(#bl05)"/>
<path d="M188.0,530.0 L195.0,529.0 L201.0,531.0" fill="none" stroke="#f0c4dc" stroke-width="2.43" stroke-linecap="round" stroke-linejoin="round" opacity="1" filter="url(#bl05)"/>
<path d="M64.7,509.8 L74.4,510.5 L84.0,507.0 L95.0,505.0 L107.0,504.3 L118.0,500.0" fill="none" stroke="#f0c4dc" stroke-width="2.16" stroke-linecap="round" stroke-linejoin="round" opacity="1" filter="url(#bl05)"/>
<path d="M55.0,493.0 L57.0,500.0 L56.0,508.0 L58.0,516.0" fill="none" stroke="#f0c4dc" stroke-width="2.43" stroke-linecap="round" stroke-linejoin="round" opacity="1" filter="url(#bl05)"/>
<ellipse cx="56.0" cy="517.0" rx="6.0" ry="6.0" fill="#f0c4dc" opacity="0.65" filter="url(#bl1)"/>
<path d="M45.0,538.0 L51.0,534.0 L57.0,530.0" fill="none" stroke="#f0c4dc" stroke-width="2.7" stroke-linecap="round" stroke-linejoin="round" opacity="1" filter="url(#bl05)"/>
<path d="M64.0,527.0 L66.0,532.0 L68.0,537.0" fill="none" stroke="#f0c4dc" stroke-width="2.43" stroke-linecap="round" stroke-linejoin="round" opacity="1" filter="url(#bl05)"/>
<path d="M74.0,530.0 L79.0,535.0 L83.0,541.0" fill="none" stroke="#f0c4dc" stroke-width="2.43" stroke-linecap="round" stroke-linejoin="round" opacity="1" filter="url(#bl05)"/>
<path d="M27.0,482.0 L31.0,485.0" fill="none" stroke="#f0c4dc" stroke-width="2.9700000000000006" stroke-linecap="round" stroke-linejoin="round" opacity="1" filter="url(#bl05)"/>
<path d="M12.0,490.0 L19.0,490.0" fill="none" stroke="#f0c4dc" stroke-width="2.16" stroke-linecap="round" stroke-linejoin="round" opacity="1" filter="url(#bl05)"/>
<path d="M25.0,500.0 L31.0,503.0 L37.0,502.0" fill="none" stroke="#f0c4dc" stroke-width="2.43" stroke-linecap="round" stroke-linejoin="round" opacity="1" filter="url(#bl05)"/>
<path d="M37.0,474.0 L42.0,473.0" fill="none" stroke="#f0c4dc" stroke-width="2.16" stroke-linecap="round" stroke-linejoin="round" opacity="1" filter="url(#bl05)"/>
<ellipse cx="95.6" cy="448.4" rx="6.3" ry="11.0" fill="#20d040" opacity="0.8" filter="url(#bl1)"/>
<ellipse cx="95.6" cy="448.4" rx="5.3" ry="10.0" fill="#f0c4dc" opacity="1" filter="url(#bl05)"/>
<ellipse cx="95.6" cy="446.0" rx="1.2" ry="3.0" fill="#3030d0" opacity="0.8" filter="url(#bl05)"/>
<ellipse cx="101.0" cy="476.0" rx="18.0" ry="14.0" fill="#f07a40" opacity="0.95" filter="url(#bl1)" transform="rotate(-15 101.0 476.0)"/>
<ellipse cx="95.0" cy="480.0" rx="10.0" ry="8.0" fill="#f08858" opacity="0.9" filter="url(#bl1)" transform="rotate(-15 95.0 480.0)"/>
<ellipse cx="102.0" cy="475.0" rx="13.0" ry="10.0" fill="#f0a0b8" opacity="0.6" filter="url(#bl1)" transform="rotate(-12 102.0 475.0)"/>
<ellipse cx="101.0" cy="476.0" rx="17.0" ry="13.0" fill="url(#pSpk)" opacity="0.5" transform="rotate(-15 101.0 476.0)"/>
<ellipse cx="103.4" cy="473.0" rx="9.5" ry="7.0" fill="#f0c4dc" opacity="1" filter="url(#bl05)" transform="rotate(-12 103.4 473.0)"/>
<ellipse cx="103.5" cy="473.0" rx="6.5" ry="4.4" fill="#000" opacity="1" filter="url(#bl05)" transform="rotate(-15 103.5 473.0)"/>
<ellipse cx="102.0" cy="473.0" rx="3.0" ry="2.0" fill="#1818c0" opacity="0.8" filter="url(#bl05)"/>
<ellipse cx="108.0" cy="488.0" rx="8.5" ry="5.5" fill="#f6d0e4" opacity="1" filter="url(#bl05)" transform="rotate(20 108.0 488.0)"/>
<ellipse cx="97.0" cy="460.0" rx="9.0" ry="2.5" fill="#28e838" opacity="0.8" filter="url(#bl1)"/>
<ellipse cx="124.0" cy="468.0" rx="3.0" ry="7.0" fill="#28e838" opacity="0.8" filter="url(#bl1)"/>
<ellipse cx="123.0" cy="485.0" rx="2.5" ry="2.5" fill="#28e838" opacity="0.8" filter="url(#bl05)"/>
<ellipse cx="81.0" cy="482.5" rx="3.5" ry="3.5" fill="#20c8a0" opacity="0.8" filter="url(#bl1)"/>
<ellipse cx="83.0" cy="444.0" rx="3.0" ry="2.5" fill="#28e838" opacity="0.8" filter="url(#bl05)"/>
<ellipse cx="84.0" cy="444.0" rx="3.0" ry="2.0" fill="#28e838" opacity="0.85" filter="url(#bl05)"/>
<ellipse cx="96.0" cy="436.0" rx="4.0" ry="2.0" fill="#28e838" opacity="0.7" filter="url(#bl05)"/>
<ellipse cx="86.0" cy="437.0" rx="2.5" ry="4.0" fill="#28e838" opacity="0.7" filter="url(#bl05)"/>
<ellipse cx="18.0" cy="451.0" rx="3.0" ry="3.0" fill="#28e838" opacity="0.8" filter="url(#bl05)"/>
<ellipse cx="35.0" cy="506.0" rx="2.0" ry="2.0" fill="#28e838" opacity="0.7" filter="url(#bl05)"/>
<ellipse cx="73.0" cy="484.0" rx="3.0" ry="2.5" fill="#28e838" opacity="0.9" filter="url(#bl05)"/>
<ellipse cx="38.0" cy="494.0" rx="2.5" ry="2.5" fill="#28e838" opacity="0.8" filter="url(#bl05)"/>
<ellipse cx="39.0" cy="512.0" rx="2.5" ry="2.5" fill="#28e838" opacity="0.9" filter="url(#bl05)"/>
<ellipse cx="17.5" cy="494.0" rx="2.5" ry="2.0" fill="#28e838" opacity="0.7" filter="url(#bl05)"/>
<ellipse cx="31.0" cy="541.0" rx="2.5" ry="2.0" fill="#28e838" opacity="0.8" filter="url(#bl05)"/>
<ellipse cx="63.0" cy="472.5" rx="2.5" ry="2.0" fill="#28e838" opacity="0.8" filter="url(#bl05)"/>
<ellipse cx="80.0" cy="482.0" rx="3.0" ry="3.5" fill="#28e838" opacity="0.7" filter="url(#bl05)"/>
<ellipse cx="109.0" cy="403.0" rx="3.5" ry="3.0" fill="#28e838" opacity="0.8" filter="url(#bl05)"/>
<ellipse cx="135.0" cy="454.0" rx="1.8" ry="2.0" fill="#28e838" opacity="0.8" filter="url(#bl05)"/>
<ellipse cx="176.5" cy="448.5" rx="2.0" ry="1.8" fill="#28e838" opacity="0.9" filter="url(#bl05)"/>
<ellipse cx="168.0" cy="440.0" rx="2.5" ry="2.0" fill="#28e838" opacity="0.6" filter="url(#bl05)"/>
<ellipse cx="123.0" cy="473.0" rx="2.0" ry="2.0" fill="#28e838" opacity="0.9" filter="url(#bl05)"/>
<ellipse cx="123.0" cy="486.0" rx="2.0" ry="2.0" fill="#28e838" opacity="0.8" filter="url(#bl05)"/>
<ellipse cx="128.0" cy="505.0" rx="3.0" ry="3.0" fill="#28e838" opacity="0.8" filter="url(#bl05)"/>
<ellipse cx="120.5" cy="519.5" rx="2.0" ry="1.6" fill="#28e838" opacity="0.9" filter="url(#bl05)"/>
<ellipse cx="140.0" cy="541.5" rx="2.0" ry="1.6" fill="#28e838" opacity="0.9" filter="url(#bl05)"/>
<ellipse cx="190.0" cy="472.5" rx="2.0" ry="1.5" fill="#28e838" opacity="0.8" filter="url(#bl05)"/>
<ellipse cx="156.0" cy="488.0" rx="1.3" ry="2.0" fill="#28e838" opacity="0.7" filter="url(#bl05)"/>
<ellipse cx="109.0" cy="498.0" rx="3.0" ry="2.5" fill="#28e838" opacity="0.8" filter="url(#bl05)"/>
<ellipse cx="141.0" cy="517.0" rx="2.5" ry="2.0" fill="#28e838" opacity="0.7" filter="url(#bl05)"/>
<ellipse cx="127.0" cy="457.0" rx="2.5" ry="2.5" fill="#28e838" opacity="0.7" filter="url(#bl05)"/>
<path d="M13.4,543.0 L31.4,543.0" fill="none" stroke="#f0f0f0" stroke-width="0.9" stroke-linecap="round" stroke-linejoin="round" opacity="1" filter="url(#bl05)"/>
</g>
<g clip-path="url(#clipA3)">
<rect x="13.20" y="569.00" width="187.80" height="162.00" fill="#000"/>
<rect x="13.20" y="569.00" width="187.80" height="162.00" fill="url(#pN)" opacity="1" filter="url(#bl05)"/>
<rect x="13.20" y="569.00" width="187.80" height="162.00" fill="#000" opacity="0.6" filter="url(#dk3)"/>
<ellipse cx="60.0" cy="640.0" rx="6.0" ry="4.0" fill="#000" opacity="0.3" filter="url(#bl2)"/>
<ellipse cx="150.0" cy="650.0" rx="6.0" ry="5.0" fill="#000" opacity="0.3" filter="url(#bl2)"/>
<path d="M182.9,677.3 L184.7,679.9 L187.6,683.1 L186.4,686.9 L188.3,691.4 M182.8,657.5 L182.8,661.9 L180.1,666.3 L182.4,669.2 M152.9,608.6 L149.6,609.8 L146.3,609.7 M111.1,578.8 L114.6,579.9 L116.3,583.0 L113.7,585.9 M159.8,666.6 L164.7,668.6 L168.9,672.0 M179.4,584.9 L175.7,586.6 L171.7,590.9 M150.8,727.1 L154.7,727.1 L159.1,724.3 L160.9,719.8 M174.7,614.6 L172.5,610.1 L170.2,606.4 M158.8,706.1 L155.7,706.3 L153.6,710.5 L154.9,713.3 L159.9,713.2 M28.4,650.5 L28.0,653.8 L28.7,659.6 L25.6,661.6 L22.9,664.2 M193.3,727.9 L193.7,723.6 L195.2,720.2 M151.0,678.0 L154.2,674.3 L158.6,676.2 L162.7,680.1 L167.6,682.7 M22.3,670.2 L26.2,673.8 L29.7,676.1 L32.5,678.6 L30.7,683.2 M154.7,607.7 L157.1,610.7 L161.8,611.7 L164.8,613.3 L164.0,618.6 M48.9,593.3 L48.5,596.9 L43.7,598.5 L40.1,598.4 L37.5,600.8 M26.6,706.8 L24.2,704.4 L25.9,699.5 L28.7,698.5 M79.4,618.3 L81.3,620.8 L83.2,624.5 L83.2,627.9 L85.7,631.8 M173.2,581.0 L169.8,577.3 L170.7,573.1 L172.7,569.9 L172.0,566.9 M151.0,578.9 L154.3,583.0 L152.4,587.1 M180.8,670.3 L184.9,673.8 L188.0,678.1 L192.6,681.2 L196.2,682.3 M154.0,648.0 L151.7,650.8 L146.8,649.7 L144.2,651.5 L142.9,656.1 M110.4,612.6 L115.4,614.8 L117.1,619.6 M157.2,578.4 L153.6,582.8 L150.1,584.1 M54.6,626.9 L52.7,630.0 L48.7,633.0 L49.9,636.2 M60.1,630.0 L64.1,627.1 L67.9,626.4 L71.2,625.6 M143.3,613.0 L140.8,616.5 L135.0,615.1 L133.9,610.9 M124.1,580.1 L126.8,582.1 L126.4,587.4 L122.4,591.2 M18.6,598.7 L21.9,597.1 L25.2,597.6 L27.1,601.3 M192.7,646.6 L187.1,648.8 L183.5,646.0 L184.6,643.0 M165.5,641.5 L164.3,638.0 L165.7,634.8 L167.4,631.0 M37.7,625.7 L39.1,621.9 L38.6,617.8 M82.2,608.4 L81.6,613.5 L79.9,617.9 L81.5,621.4 M88.6,575.6 L90.0,572.8 L92.2,569.5 L91.8,564.6 M112.0,570.5 L109.9,566.6 L106.2,564.2 L104.1,561.6 L101.1,558.5 M43.0,672.0 L41.1,676.3 L41.0,681.9 L37.6,685.9 M187.4,723.5 L188.6,728.5 L193.1,730.0 L196.6,726.9 L197.1,723.8 M188.4,698.9 L183.7,697.3 L181.4,693.8 L176.7,693.1 M83.9,581.0 L79.0,578.1 L75.4,575.6 L70.2,576.2 M74.7,616.3 L79.7,616.4 L83.5,615.4 M25.1,708.2 L29.5,709.5 L33.1,712.0 M151.2,708.0 L155.3,706.8 L160.2,707.9 L164.3,703.6 M197.4,609.2 L198.0,613.1 L201.6,616.2 L205.3,616.5 L208.3,613.5 M17.8,612.4 L18.7,608.4 L23.1,605.3 M15.2,679.1 L16.6,674.7 L19.5,672.9 L23.3,676.1 M187.0,695.4 L182.9,699.2 L184.4,702.9 L187.3,703.8 M74.3,570.2 L68.7,568.0 L63.9,565.5 L63.8,562.3 L62.2,558.0 M158.0,681.5 L154.9,683.9 L150.3,683.8 M21.9,730.1 L17.3,728.2 L17.2,725.1 M60.9,576.3 L64.0,574.5 L67.7,574.5 L72.8,573.5 M72.3,585.2 L77.8,583.4 L81.4,587.5 L86.8,587.7 M27.0,629.1 L26.6,632.4 L31.5,635.2 M198.8,685.9 L197.8,681.4 L196.5,676.3 L192.4,672.9 M115.7,575.3 L112.6,572.9 L109.0,568.2 L107.0,565.8 M184.9,715.4 L188.3,713.9 L188.1,710.2 M135.8,590.8 L132.9,593.8 L129.5,596.5 L125.7,600.0 L121.7,598.7 M25.6,722.3 L20.2,723.7 L17.5,726.1 L13.6,726.5 M38.8,592.4 L35.3,588.5 L33.8,585.7 M185.9,614.9 L187.2,610.0 L186.1,605.3 L181.1,605.1 L175.6,604.1 M183.1,714.3 L177.3,715.7 L172.5,717.6 L168.1,713.7 L165.1,715.5 M193.1,667.6 L193.8,673.4 L189.7,676.9 L185.9,675.0 M122.3,599.4 L123.7,596.6 L123.1,590.8 M131.1,600.5 L126.9,604.4 L127.5,608.3 L125.9,611.0 L122.2,610.6 M188.8,680.9 L187.8,676.9 L185.5,673.3 M160.1,704.7 L156.3,702.1 L151.0,701.1 L149.2,698.4 M181.1,719.1 L177.5,722.2 L173.0,726.2 M192.1,665.1 L195.0,666.0 L198.6,666.8 M195.7,571.6 L196.9,575.4 L196.3,580.1 M190.9,690.1 L188.4,685.4 L187.6,681.8 L185.2,679.7 M37.0,729.4 L33.9,733.8 L29.3,733.2 L26.2,728.8 M43.9,679.2 L40.1,678.1 L39.5,673.4 M76.8,623.1 L77.1,619.4 L82.1,617.5 L85.2,612.4 L90.0,611.3 M135.3,575.9 L131.3,573.8 L127.9,575.9 M135.7,589.0 L138.4,590.9 L137.6,594.1 M45.4,631.1 L48.3,628.7 L51.5,630.1 L56.3,629.8 M187.5,730.6 L183.0,733.2 L180.5,737.5 M124.5,605.4 L119.2,603.2 L115.7,607.3 L116.7,610.4 M166.0,693.1 L162.0,691.0 L158.5,692.6 L155.5,690.9 L152.8,688.3 M52.9,600.5 L49.8,602.0 L46.7,602.3 L43.4,604.8 L39.2,603.1 M186.7,690.7 L183.1,689.6 L180.4,693.0 M86.2,615.7 L82.4,616.9 L79.1,618.0 M196.1,641.1 L194.0,638.2 L189.4,638.4 M57.8,603.7 L59.5,600.6 L60.1,596.2 L62.3,591.9 L59.1,587.0 M152.5,600.7 L154.9,603.6 L158.1,606.4 M158.1,720.3 L158.3,725.2 L161.1,727.8 L159.6,733.6 L158.6,736.7 M182.8,649.6 L186.7,651.5 L191.0,647.4 M83.8,638.4 L79.1,635.0 L75.4,634.2 L72.7,638.7 L70.9,641.2 M28.4,616.8 L28.5,612.9 L31.6,609.2 L29.1,603.9 L27.9,598.6 M87.6,636.6 L90.6,640.5 L93.5,642.2 L94.4,645.7 L97.3,646.6 M185.2,609.0 L188.7,608.4 L191.6,606.9 M29.6,652.1 L30.7,647.9 L30.0,642.7 M159.2,684.2 L155.5,681.2 L155.1,678.1 L157.6,676.4 M29.1,583.3 L32.7,582.1 L36.9,579.8 M28.2,592.4 L33.8,591.3 L35.3,587.8 L36.4,583.2 L38.3,579.0 M171.7,641.9 L173.0,636.2 L172.1,631.7 M156.8,663.5 L152.9,661.7 L150.6,664.2 M117.0,569.0 L115.3,573.5 L116.2,576.9 L114.3,579.5 M22.4,624.8 L22.9,629.1 L20.5,632.7 M80.8,627.5 L76.8,628.9 L73.7,632.3 M180.9,694.8 L183.0,699.3 L184.3,702.6 M117.3,599.7 L113.8,598.1 L110.0,599.5 L106.3,600.0 L104.1,603.2" fill="none" stroke="#c0a8dc" stroke-width="1.4" stroke-linecap="round" stroke-linejoin="round" opacity="0.85" filter="url(#bl05)"/>
<path d="M12.0,672.0 L20.0,676.0 L28.6,680.5 L34.0,676.0 L39.7,670.8" fill="none" stroke="#a890c8" stroke-width="1.3" stroke-linecap="round" stroke-linejoin="round" opacity="0.8" filter="url(#bl05)"/>
<path d="M26.0,661.0 L40.0,656.0 L55.0,659.0 L66.0,653.0 L77.0,657.0 L88.0,662.0 L98.0,668.0" fill="none" stroke="#a890c8" stroke-width="1.3" stroke-linecap="round" stroke-linejoin="round" opacity="0.8" filter="url(#bl05)"/>
<path d="M39.7,705.0 L44.0,697.0 L49.0,690.0 L53.6,682.0" fill="none" stroke="#a890c8" stroke-width="1.5" stroke-linecap="round" stroke-linejoin="round" opacity="0.8" filter="url(#bl05)"/>
<path d="M15.0,600.0 L25.0,592.0 L35.0,598.0 L45.0,590.0" fill="none" stroke="#a890c8" stroke-width="1.0" stroke-linecap="round" stroke-linejoin="round" opacity="0.6" filter="url(#bl05)"/>
<path d="M20.0,620.0 L32.0,612.0 L44.0,620.0 L58.0,624.0 L64.0,632.0" fill="none" stroke="#a890c8" stroke-width="1.0" stroke-linecap="round" stroke-linejoin="round" opacity="0.6" filter="url(#bl05)"/>
<path d="M67.5,596.0 L72.0,598.0 L77.0,597.0" fill="none" stroke="#d0a8d8" stroke-width="1.8" stroke-linecap="round" stroke-linejoin="round" opacity="1" filter="url(#bl05)"/>
<path d="M80.0,585.0 L85.0,580.0 L90.0,583.0" fill="none" stroke="#a890c8" stroke-width="1.3" stroke-linecap="round" stroke-linejoin="round" opacity="1" filter="url(#bl05)"/>
<path d="M143.4,588.0 L150.0,585.0 L158.0,582.0 L167.0,579.4" fill="none" stroke="#c8a8d8" stroke-width="2.4" stroke-linecap="round" stroke-linejoin="round" opacity="1" filter="url(#bl05)"/>
<path d="M146.0,587.0 L152.0,583.0 L160.0,580.0" fill="none" stroke="#000" stroke-width="1.0" stroke-linecap="round" stroke-linejoin="round" opacity="0.6" filter="url(#bl05)"/>
<path d="M158.7,590.0 L165.0,588.0 L171.0,587.0" fill="none" stroke="#c8a8d8" stroke-width="1.8" stroke-linecap="round" stroke-linejoin="round" opacity="1" filter="url(#bl05)"/>
<path d="M146.0,604.0 L150.0,598.0 L156.0,596.0 L161.5,597.0" fill="none" stroke="#c0a0d0" stroke-width="1.8" stroke-linecap="round" stroke-linejoin="round" opacity="1" filter="url(#bl05)"/>
<path d="M120.0,581.0 L128.0,577.0 L136.0,580.0 L143.0,576.0" fill="none" stroke="#a890c8" stroke-width="1.5" stroke-linecap="round" stroke-linejoin="round" opacity="1" filter="url(#bl05)"/>
<path d="M157.0,573.0 L165.6,574.0" fill="none" stroke="#d0b0e0" stroke-width="1.8" stroke-linecap="round" stroke-linejoin="round" opacity="1" filter="url(#bl05)"/>
<path d="M113.0,593.0 L115.0,601.0 L117.0,609.0" fill="none" stroke="#a890c8" stroke-width="1.5" stroke-linecap="round" stroke-linejoin="round" opacity="1" filter="url(#bl05)"/>
<path d="M175.0,603.0 L180.0,601.0 L184.0,604.0" fill="none" stroke="#a890c8" stroke-width="1.5" stroke-linecap="round" stroke-linejoin="round" opacity="1" filter="url(#bl05)"/>
<path d="M190.0,585.0 L194.0,594.0 L192.0,602.0 L197.0,608.0" fill="none" stroke="#a890c8" stroke-width="1.5" stroke-linecap="round" stroke-linejoin="round" opacity="1" filter="url(#bl05)"/>
<path d="M172.6,660.0 L178.0,665.0 L183.0,662.0 L186.0,670.0 L180.0,676.0" fill="none" stroke="#a890c8" stroke-width="1.6" stroke-linecap="round" stroke-linejoin="round" opacity="1" filter="url(#bl05)"/>
<path d="M168.0,704.0 L175.0,700.0 L182.0,708.0 L190.0,703.0 L198.0,712.0 L194.0,720.0 L200.0,726.0" fill="none" stroke="#b8a0d0" stroke-width="1.6" stroke-linecap="round" stroke-linejoin="round" opacity="1" filter="url(#bl05)"/>
<path d="M172.0,716.0 L180.0,722.0 L188.0,716.0 L196.0,722.0" fill="none" stroke="#b8a0d0" stroke-width="1.4" stroke-linecap="round" stroke-linejoin="round" opacity="1" filter="url(#bl05)"/>
<path d="M150.0,692.0 L158.0,688.0 L164.0,694.0" fill="none" stroke="#a890c8" stroke-width="1.2" stroke-linecap="round" stroke-linejoin="round" opacity="1" filter="url(#bl05)"/>
<path d="M14.8,725.0 L34.9,725.0" fill="none" stroke="#f0f0f0" stroke-width="0.9" stroke-linecap="round" stroke-linejoin="round" opacity="1" filter="url(#bl05)"/>
<ellipse cx="94.0" cy="704.0" rx="48.0" ry="30.0" fill="#1c1cf0" opacity="0.55" filter="url(#bl2)"/>
<ellipse cx="113.0" cy="700.0" rx="9.0" ry="8.0" fill="#000" opacity="1" filter="url(#bl1)"/>
<ellipse cx="64.0" cy="713.0" rx="8.0" ry="6.5" fill="#000" opacity="1" filter="url(#bl1)"/>
<path d="M45.3,731 L46.7,702.7 L53.6,691.6 L62,690 L70,692 L77,694.4 L87,688.8 L95,682 L106.3,676.4 L112,675.5 L120,675 L133.7,680.5 L140.7,687.4 L143.4,698.5 L142,709.6 L136.5,719.4 L126.8,731" fill="none" stroke="#ff8030" stroke-width="2.2" stroke-dasharray="2.2 1.2" filter="url(#bl05)"/>
<path d="M74.4,731.0 L82.0,726.0 L92.0,723.5 L100.0,724.0 L107.0,726.0" fill="none" stroke="#ff8030" stroke-width="2.0" stroke-linecap="round" stroke-linejoin="round" opacity="0.9" filter="url(#bl05)"/>
<ellipse cx="185.0" cy="623.8" rx="13.5" ry="8.0" fill="none" stroke="#ff8030" stroke-width="2.0" opacity="0.9" filter="url(#bl05)" transform="rotate(-5 185.0 623.8)"/>
<ellipse cx="185.0" cy="623.5" rx="10.0" ry="5.5" fill="none" stroke="#2a2aff" stroke-width="3" opacity="1" filter="url(#bl05)" transform="rotate(-5 185.0 623.5)"/>
<ellipse cx="185.0" cy="623.0" rx="7.0" ry="3.0" fill="#000" opacity="1" filter="url(#bl05)" transform="rotate(-5 185.0 623.0)"/>
<ellipse cx="106.0" cy="651.5" rx="20.0" ry="10.5" fill="#f08050" opacity="1" filter="url(#bl05)" transform="rotate(-52 106.0 651.5)"/>
<ellipse cx="106.0" cy="651.5" rx="17.0" ry="8.0" fill="#e0a0d0" opacity="0.85" filter="url(#bl1)" transform="rotate(-52 106.0 651.5)"/>
<ellipse cx="106.0" cy="651.5" rx="18.5" ry="9.5" fill="url(#pSpk)" opacity="0.55" transform="rotate(-52 106.0 651.5)"/>
<ellipse cx="104.0" cy="654.0" rx="6.0" ry="3.0" fill="#6060d8" opacity="0.6" filter="url(#bl1)" transform="rotate(-52 104.0 654.0)"/>
<ellipse cx="110.0" cy="646.0" rx="5.0" ry="2.5" fill="#8070d8" opacity="0.5" filter="url(#bl1)" transform="rotate(-52 110.0 646.0)"/>
<ellipse cx="114.0" cy="640.0" rx="4.0" ry="3.0" fill="#ff9060" opacity="0.7" filter="url(#bl1)"/>
<ellipse cx="79.0" cy="580.5" rx="2.5" ry="1.5" fill="#28e838" opacity="0.8" filter="url(#bl05)"/>
<ellipse cx="99.0" cy="592.0" rx="2.5" ry="2.0" fill="#28e838" opacity="0.8" filter="url(#bl05)"/>
<ellipse cx="55.0" cy="615.0" rx="3.0" ry="2.0" fill="#28e838" opacity="0.8" filter="url(#bl05)"/>
<ellipse cx="75.0" cy="615.0" rx="3.5" ry="2.0" fill="#28e838" opacity="0.9" filter="url(#bl05)"/>
<ellipse cx="53.0" cy="630.0" rx="2.0" ry="1.5" fill="#28e838" opacity="0.7" filter="url(#bl05)"/>
<ellipse cx="94.5" cy="610.0" rx="2.0" ry="6.0" fill="#28e838" opacity="0.6" filter="url(#bl05)"/>
<ellipse cx="78.5" cy="645.0" rx="2.5" ry="3.0" fill="#28e838" opacity="0.8" filter="url(#bl05)"/>
<ellipse cx="90.0" cy="652.0" rx="2.5" ry="4.0" fill="#28e838" opacity="0.9" filter="url(#bl05)"/>
<ellipse cx="100.6" cy="671.5" rx="3.0" ry="2.5" fill="#28e838" opacity="0.9" filter="url(#bl05)"/>
<ellipse cx="161.0" cy="637.6" rx="2.5" ry="2.0" fill="#28e838" opacity="0.9" filter="url(#bl05)"/>
<ellipse cx="119.0" cy="618.0" rx="2.0" ry="2.0" fill="#28e838" opacity="0.7" filter="url(#bl05)"/>
<ellipse cx="83.5" cy="702.7" rx="3.0" ry="2.5" fill="#28e838" opacity="0.9" filter="url(#bl05)"/>
<ellipse cx="84.0" cy="667.0" rx="3.0" ry="2.0" fill="#28e838" opacity="0.8" filter="url(#bl05)"/>
<ellipse cx="100.0" cy="672.0" rx="3.0" ry="2.5" fill="#28e838" opacity="0.8" filter="url(#bl05)"/>
<ellipse cx="23.0" cy="688.0" rx="2.0" ry="3.0" fill="#28e838" opacity="0.6" filter="url(#bl05)"/>
<ellipse cx="44.0" cy="680.0" rx="2.5" ry="4.0" fill="#28e838" opacity="0.7" filter="url(#bl05)"/>
<ellipse cx="35.0" cy="717.0" rx="2.0" ry="1.8" fill="#28e838" opacity="0.8" filter="url(#bl05)"/>
<ellipse cx="89.7" cy="653.5" rx="2.5" ry="3.0" fill="#28e838" opacity="0.8" filter="url(#bl05)"/>
<ellipse cx="164.0" cy="662.0" rx="2.5" ry="2.0" fill="#28e838" opacity="0.9" filter="url(#bl05)"/>
<ellipse cx="153.0" cy="671.0" rx="3.5" ry="2.5" fill="#28e838" opacity="0.45" filter="url(#bl05)"/>
<ellipse cx="197.0" cy="655.5" rx="2.0" ry="2.5" fill="#28e838" opacity="0.7" filter="url(#bl05)"/>
<ellipse cx="175.3" cy="698.5" rx="1.5" ry="1.5" fill="#28e838" opacity="0.8" filter="url(#bl05)"/>
</g>
<g clip-path="url(#clipA4)">
<rect x="11.60" y="752.30" width="189.90" height="156.00" fill="#000"/>
<rect x="11.60" y="752.30" width="189.90" height="156.00" fill="url(#pN)" opacity="1" filter="url(#bl05)"/>
<rect x="11.60" y="752.30" width="189.90" height="156.00" fill="#000" opacity="0.7" filter="url(#dk4)"/>
<ellipse cx="110.0" cy="892.0" rx="14.0" ry="10.0" fill="#000" opacity="0.5" filter="url(#bl2)"/>
<ellipse cx="60.0" cy="770.0" rx="10.0" ry="6.0" fill="#000" opacity="0.3" filter="url(#bl2)"/>
<path d="M195.1,761.4 L198.7,758.6 L201.2,755.2 L206.6,754.2 L209.8,750.9 M184.3,812.1 L183.3,815.0 L180.8,818.4 L177.9,819.5 M40.1,762.0 L36.2,765.8 L31.3,767.0 M193.2,799.5 L197.5,796.0 L203.0,795.9 M165.2,883.7 L159.9,882.0 L154.8,885.1 L154.5,888.5 L152.0,893.0 M167.1,809.4 L167.7,803.5 L169.3,800.2 L167.2,795.5 M93.5,757.1 L98.5,757.4 L102.8,759.0 L105.5,755.3 M197.8,761.3 L198.0,758.2 L201.3,757.1 M121.2,755.4 L116.9,757.9 L112.0,760.6 M184.1,774.4 L185.9,778.4 L191.2,780.4 L194.2,785.2 M195.6,853.8 L196.3,857.1 L193.2,859.7 L192.0,863.5 L187.0,864.1 M99.2,843.9 L102.1,839.3 L101.1,833.4 M41.4,784.3 L38.6,785.6 L39.2,790.5 L42.7,791.9 L45.7,791.2 M196.0,793.3 L197.4,798.7 L200.9,800.5 M151.4,786.5 L147.9,790.2 L144.9,794.9 L141.6,799.0 M18.2,831.4 L15.9,836.2 L12.8,838.0 L9.6,837.4 M69.3,771.1 L69.5,767.7 L72.5,766.0 L77.0,766.7 M192.8,787.9 L195.9,786.7 L199.8,783.5 M189.3,757.8 L185.6,759.8 L182.6,759.3 M170.2,862.7 L167.9,864.6 L164.7,863.5 M161.8,759.0 L158.5,758.9 L156.9,755.4 L156.5,750.7 L160.8,748.8 M167.6,879.5 L164.6,876.4 L160.9,874.6 L158.6,870.0 L156.0,867.8 M109.1,769.3 L106.8,771.4 L105.2,774.9 L102.4,778.0 M135.8,772.2 L132.4,768.6 L131.4,765.7 M32.1,788.6 L37.7,788.8 L39.4,786.1 M198.6,892.3 L201.7,894.7 L206.1,892.8 L209.1,891.7 M27.3,858.1 L30.2,859.3 L34.3,859.0 L38.1,858.3 L40.5,861.2 M182.9,873.1 L186.3,870.9 L190.4,867.2 L195.2,864.5 M137.9,775.7 L141.8,777.5 L147.2,779.3 M118.2,780.7 L121.7,784.9 L121.9,789.8 M187.6,889.4 L190.1,887.6 L192.8,884.2 L191.8,879.0 M38.6,841.3 L35.6,844.0 L37.9,848.9 L38.9,852.0 L42.6,856.2 M192.6,873.3 L187.6,875.9 L183.1,876.6 L180.9,879.7 L179.0,882.1 M77.1,783.6 L77.8,779.6 L82.2,776.6 M118.4,757.4 L123.8,758.9 L125.7,762.4 M13.7,830.4 L13.3,826.5 L18.2,823.4 L20.8,818.3 M97.7,779.1 L101.0,775.1 L102.2,771.8 L104.3,767.1 L100.9,762.5 M179.3,806.0 L184.0,806.1 L187.6,804.2 L192.5,804.3 L194.9,801.1 M195.0,810.9 L200.5,809.4 L200.6,805.6 L197.3,801.1 L199.8,796.7 M170.1,781.6 L175.5,782.0 L176.7,786.1 M198.1,894.8 L197.0,891.9 L198.7,888.1 M166.9,782.7 L170.3,780.5 L173.3,778.3 L171.8,774.0 L172.2,770.3 M162.2,772.3 L163.6,775.5 L164.0,780.9 L168.2,784.6 M174.5,789.3 L171.5,787.5 L168.1,788.8 L167.3,792.3 M165.4,775.2 L167.1,769.6 L168.4,765.9 L172.0,764.3 M138.2,779.2 L134.5,783.1 L135.0,787.0 M168.6,886.1 L169.5,890.7 L166.7,894.8 M166.6,785.0 L161.5,788.1 L159.7,792.3 M154.9,789.5 L153.8,793.5 L149.9,797.7 L148.0,800.4 L144.4,799.3 M133.6,768.6 L134.4,765.4 L139.5,763.7 L143.8,766.6 M44.2,757.1 L47.5,758.3 L47.6,761.6 L45.3,764.4 M186.2,875.9 L183.0,875.2 L180.3,871.3 L177.7,869.3 L180.1,863.8 M127.1,769.4 L126.0,764.2 L121.2,761.2 L119.7,756.9 L123.0,753.9 M89.9,791.6 L86.9,792.2 L84.2,797.0 M111.3,781.5 L115.0,785.7 L115.0,789.5 L111.9,793.2 M199.1,849.4 L197.7,845.3 L195.6,840.5 L191.5,838.0 M185.0,891.6 L186.2,888.1 L182.9,884.9 L183.4,880.1 L187.6,877.7 M162.6,876.5 L167.8,876.6 L171.1,880.8 M64.7,850.0 L61.2,849.5 L59.5,844.3 L57.7,841.0 M193.2,770.7 L190.1,766.7 L187.8,763.3" fill="none" stroke="#d0b0d8" stroke-width="1.3" stroke-linecap="round" stroke-linejoin="round" opacity="0.9" filter="url(#bl05)"/>
<ellipse cx="140.0" cy="842.0" rx="42.0" ry="24.0" fill="#000" opacity="0.9" filter="url(#bl2)" transform="rotate(-5 140.0 842.0)"/>
<ellipse cx="45.0" cy="761.0" rx="9.0" ry="7.0" fill="#000" opacity="0.95" filter="url(#bl1)"/>
<ellipse cx="191.5" cy="767.0" rx="6.0" ry="6.0" fill="#000" opacity="0.9" filter="url(#bl1)"/>
<ellipse cx="90.0" cy="898.0" rx="20.0" ry="12.0" fill="#000" opacity="0.9" filter="url(#bl2)"/>
<ellipse cx="150.0" cy="865.0" rx="25.0" ry="9.0" fill="#000" opacity="0.7" filter="url(#bl2)"/>
<path d="M13.4,770.0 L16.0,762.0 L20.0,756.0" fill="none" stroke="#c8a8d0" stroke-width="1.89" stroke-linecap="round" stroke-linejoin="round" opacity="1" filter="url(#bl05)"/>
<path d="M74.0,756.0 L75.0,770.0 L74.0,782.0 L76.0,793.0" fill="none" stroke="#c8a8d0" stroke-width="2.0250000000000004" stroke-linecap="round" stroke-linejoin="round" opacity="1" filter="url(#bl05)"/>
<path d="M56.0,792.0 L64.0,789.0 L72.0,788.0 L78.6,786.7" fill="none" stroke="#c8a8d0" stroke-width="2.16" stroke-linecap="round" stroke-linejoin="round" opacity="1" filter="url(#bl05)"/>
<path d="M87.0,791.0 L95.0,788.0 L101.0,786.0 L107.0,784.0" fill="none" stroke="#c8a8d0" stroke-width="2.43" stroke-linecap="round" stroke-linejoin="round" opacity="1" filter="url(#bl05)"/>
<path d="M26.0,797.0 L35.0,795.0 L44.0,797.0 L53.6,794.0" fill="none" stroke="#c8a8d0" stroke-width="2.16" stroke-linecap="round" stroke-linejoin="round" opacity="1" filter="url(#bl05)"/>
<path d="M89.7,799.0 L96.0,801.0 L103.0,800.0 L107.0,804.0" fill="none" stroke="#c8a8d0" stroke-width="1.89" stroke-linecap="round" stroke-linejoin="round" opacity="1" filter="url(#bl05)"/>
<path d="M109.0,755.0 L116.0,762.0 L121.0,766.0" fill="none" stroke="#c8a8d0" stroke-width="2.0250000000000004" stroke-linecap="round" stroke-linejoin="round" opacity="1" filter="url(#bl05)"/>
<path d="M124.0,769.0 L130.0,773.0" fill="none" stroke="#c8a8d0" stroke-width="2.43" stroke-linecap="round" stroke-linejoin="round" opacity="1" filter="url(#bl05)"/>
<path d="M138.0,772.0 L144.0,775.0 L149.0,777.0" fill="none" stroke="#c8a8d0" stroke-width="2.16" stroke-linecap="round" stroke-linejoin="round" opacity="1" filter="url(#bl05)"/>
<path d="M118.5,788.0 L130.0,790.0 L140.0,789.0 L150.0,791.0 L161.5,789.0" fill="none" stroke="#c8a8d0" stroke-width="2.43" stroke-linecap="round" stroke-linejoin="round" opacity="1" filter="url(#bl05)"/>
<path d="M114.0,798.0 L122.0,795.0 L130.0,793.0 L140.7,792.0" fill="none" stroke="#c8a8d0" stroke-width="2.43" stroke-linecap="round" stroke-linejoin="round" opacity="1" filter="url(#bl05)"/>
<path d="M158.7,799.0 L166.0,804.0 L172.0,808.0 L180.0,813.0 L186.0,818.0 L192.0,821.0" fill="none" stroke="#c8a8d0" stroke-width="2.16" stroke-linecap="round" stroke-linejoin="round" opacity="1" filter="url(#bl05)"/>
<path d="M167.0,755.0 L170.0,765.0 L172.0,772.0 L170.0,780.0" fill="none" stroke="#d09080" stroke-width="1.6" stroke-linecap="round" stroke-linejoin="round" opacity="1" filter="url(#bl05)"/>
<path d="M181.0,789.0 L190.0,787.0 L201.0,786.0" fill="none" stroke="#c8a8d0" stroke-width="2.16" stroke-linecap="round" stroke-linejoin="round" opacity="1" filter="url(#bl05)"/>
<path d="M184.0,798.0 L192.0,802.0 L200.0,800.0" fill="none" stroke="#c8a8d0" stroke-width="1.89" stroke-linecap="round" stroke-linejoin="round" opacity="1" filter="url(#bl05)"/>
<path d="M16.0,843.0 L24.0,842.0 L32.8,844.6" fill="none" stroke="#c8a8d0" stroke-width="1.89" stroke-linecap="round" stroke-linejoin="round" opacity="1" filter="url(#bl05)"/>
<path d="M53.6,842.0 L60.0,841.0 L66.0,845.0 L72.0,847.0 L75.8,849.0" fill="none" stroke="#c8a8d0" stroke-width="1.89" stroke-linecap="round" stroke-linejoin="round" opacity="1" filter="url(#bl05)"/>
<path d="M62.0,853.0 L68.0,856.0 L72.0,852.0 L75.8,858.0" fill="none" stroke="#c8a8d0" stroke-width="1.7550000000000001" stroke-linecap="round" stroke-linejoin="round" opacity="1" filter="url(#bl05)"/>
<path d="M169.8,876.0 L178.0,874.0 L186.0,871.0 L194.0,872.0 L201.0,870.0" fill="none" stroke="#c8a8d0" stroke-width="2.0250000000000004" stroke-linecap="round" stroke-linejoin="round" opacity="1" filter="url(#bl05)"/>
<path d="M196.0,832.0 L195.0,845.0 L197.0,858.0 L195.0,866.0" fill="none" stroke="#c8a8d0" stroke-width="1.89" stroke-linecap="round" stroke-linejoin="round" opacity="1" filter="url(#bl05)"/>
<path d="M195.0,880.0 L198.0,890.0 L196.0,898.0" fill="none" stroke="#c8a8d0" stroke-width="1.7550000000000001" stroke-linecap="round" stroke-linejoin="round" opacity="1" filter="url(#bl05)"/>
<path d="M150.0,878.0 L158.0,881.0 L164.0,879.0" fill="none" stroke="#c8a8d0" stroke-width="1.62" stroke-linecap="round" stroke-linejoin="round" opacity="1" filter="url(#bl05)"/>
<path d="M164.0,893.0 L172.0,896.0" fill="none" stroke="#c8a8d0" stroke-width="1.62" stroke-linecap="round" stroke-linejoin="round" opacity="1" filter="url(#bl05)"/>
<path d="M13.4,903.0 L31.4,903.0" fill="none" stroke="#f0f0f0" stroke-width="0.9" stroke-linecap="round" stroke-linejoin="round" opacity="1" filter="url(#bl05)"/>
<path d="M33,803 C40,801 52,804 64,808 C78,814 92,826 99,832 C102,836 99,840 94,840 C80,838 66,832 52,828 C40,824 30,820 28,814 C26,808 28,804 33,803 Z" fill="#f47a50" filter="url(#bl05)"/>
<path d="M35,806 C44,805 56,808 66,812 C78,818 90,828 95,834 C92,836 80,833 66,828 C52,824 40,821 33,816 C30,812 31,807 35,806 Z" fill="#f090b8" opacity="0.9" filter="url(#bl05)"/>
<ellipse cx="63.0" cy="821.0" rx="34.0" ry="9.0" fill="url(#pSpk)" opacity="0.45" transform="rotate(24 63.0 821.0)"/>
<path d="M36.0,810.0 L46.0,812.0 L56.0,815.0 L68.0,820.0 L82.0,827.0" fill="none" stroke="#f8e0f0" stroke-width="4" stroke-linecap="round" stroke-linejoin="round" opacity="0.9" filter="url(#bl05)"/>
<path d="M42.0,810.0 L56.0,815.0 L70.0,820.0 L83.0,827.0" fill="none" stroke="#e8d8f0" stroke-width="1.2" stroke-linecap="round" stroke-linejoin="round" opacity="0.9" filter="url(#bl05)"/>
<path d="M44.0,812.0 L58.0,818.0 L70.0,823.0" fill="none" stroke="#4040c0" stroke-width="1.2" stroke-linecap="round" stroke-linejoin="round" opacity="0.6" filter="url(#bl05)"/>
<ellipse cx="139.0" cy="840.5" rx="30.5" ry="16.0" fill="#ff7a30" opacity="1" filter="url(#bl05)" transform="rotate(-6 139.0 840.5)"/>
<ellipse cx="140.0" cy="840.5" rx="26.0" ry="12.5" fill="#f080b0" opacity="0.85" filter="url(#bl1)" transform="rotate(-6 140.0 840.5)"/>
<ellipse cx="139.0" cy="840.5" rx="29.0" ry="15.0" fill="url(#pSpk)" opacity="0.5" transform="rotate(-6 139.0 840.5)"/>
<ellipse cx="133.5" cy="841.2" rx="9.5" ry="5.2" fill="none" stroke="#fff0f8" stroke-width="2.2" opacity="1" filter="url(#bl05)" transform="rotate(-6 133.5 841.2)"/>
<ellipse cx="133.5" cy="841.2" rx="7.5" ry="3.6" fill="#2828c8" opacity="1" filter="url(#bl05)" transform="rotate(-6 133.5 841.2)"/>
<ellipse cx="157.5" cy="842.3" rx="4.8" ry="4.2" fill="none" stroke="#fff0f8" stroke-width="1.8" opacity="1" filter="url(#bl05)"/>
<ellipse cx="157.5" cy="842.3" rx="3.4" ry="3.0" fill="#2828c8" opacity="1" filter="url(#bl05)"/>
<ellipse cx="26.0" cy="864.5" rx="5.0" ry="3.5" fill="#ff7a30" opacity="1" filter="url(#bl05)" transform="rotate(30 26.0 864.5)"/>
<path d="M30.0,867.0 L34.0,874.0 L37.0,880.0 L39.7,886.0 L38.0,893.0 L35.6,900.0 L31.4,906.0" fill="none" stroke="#ff7a30" stroke-width="2.4" stroke-linecap="round" stroke-linejoin="round" opacity="1" filter="url(#bl05)"/>
<path d="M34.0,868.0 L38.0,876.0 L41.0,884.0 L41.5,893.0 L39.0,902.0" fill="none" stroke="#ff8a40" stroke-width="1.4" stroke-linecap="round" stroke-linejoin="round" opacity="1" filter="url(#bl05)"/>
<path d="M46.0,876.5 L47.0,885.0 L46.5,894.6" fill="none" stroke="#ff7a30" stroke-width="1.2" stroke-linecap="round" stroke-linejoin="round" opacity="1" filter="url(#bl05)"/>
<path d="M53.6,909.0 L52.2,893.2 L57.8,886.3 L70.3,879.3 L84.0,873.8 L95.2,869.6 L107.0,869.6" fill="none" stroke="#ff7a30" stroke-width="3.6" stroke-linecap="round" stroke-linejoin="round" opacity="1" filter="url(#bl05)"/>
<path d="M55.0,900.0 L58.0,888.0 L70.0,881.0 L84.0,875.5 L95.0,871.5 L105.0,871.0" fill="none" stroke="#f8a0c0" stroke-width="1.0" stroke-linecap="round" stroke-linejoin="round" opacity="1" filter="url(#bl05)"/>
<path d="M106.0,871.0 L113.0,876.0 L120.0,882.0 L127.0,889.0 L131.0,896.0 L133.0,902.0 L135.0,908.4" fill="none" stroke="#ff7a30" stroke-width="3.6" stroke-linecap="round" stroke-linejoin="round" opacity="1" filter="url(#bl05)"/>
<path d="M12.0,860.0 L14.0,863.0" fill="none" stroke="#ff7a30" stroke-width="2.0" stroke-linecap="round" stroke-linejoin="round" opacity="1" filter="url(#bl05)"/>
<ellipse cx="28.0" cy="797.0" rx="2.5" ry="2.0" fill="#28e838" opacity="0.9" filter="url(#bl05)"/>
<ellipse cx="45.0" cy="799.5" rx="3.0" ry="1.5" fill="#28e838" opacity="0.9" filter="url(#bl05)"/>
<ellipse cx="72.0" cy="766.5" rx="2.5" ry="2.0" fill="#28e838" opacity="0.9" filter="url(#bl05)"/>
<ellipse cx="75.0" cy="786.0" rx="2.0" ry="2.0" fill="#28e838" opacity="0.8" filter="url(#bl05)"/>
<ellipse cx="24.0" cy="813.5" rx="2.5" ry="3.5" fill="#28e838" opacity="0.9" filter="url(#bl05)"/>
<ellipse cx="92.0" cy="820.5" rx="3.0" ry="2.0" fill="#28e838" opacity="0.95" filter="url(#bl05)"/>
<ellipse cx="97.0" cy="825.0" rx="2.5" ry="2.0" fill="#28e838" opacity="0.9" filter="url(#bl05)"/>
<ellipse cx="129.5" cy="804.0" rx="2.8" ry="2.0" fill="#28e838" opacity="0.95" filter="url(#bl05)"/>
<ellipse cx="170.5" cy="805.0" rx="3.0" ry="2.0" fill="#28e838" opacity="0.9" filter="url(#bl05)"/>
<ellipse cx="192.0" cy="813.0" rx="2.5" ry="3.0" fill="#28e838" opacity="0.9" filter="url(#bl05)"/>
<ellipse cx="113.0" cy="818.5" rx="2.5" ry="2.0" fill="#28e838" opacity="0.9" filter="url(#bl05)"/>
<ellipse cx="120.5" cy="825.0" rx="3.5" ry="2.0" fill="#28e838" opacity="0.95" filter="url(#bl05)"/>
<ellipse cx="143.3" cy="822.0" rx="3.0" ry="1.8" fill="#28e838" opacity="0.9" filter="url(#bl05)"/>
<ellipse cx="111.5" cy="790.0" rx="1.5" ry="2.0" fill="#28e838" opacity="0.6" filter="url(#bl05)"/>
<ellipse cx="18.8" cy="830.7" rx="3.0" ry="1.5" fill="#28e838" opacity="0.9" filter="url(#bl05)"/>
<ellipse cx="47.3" cy="830.7" rx="2.5" ry="1.5" fill="#28e838" opacity="0.9" filter="url(#bl05)"/>
<ellipse cx="73.6" cy="869.5" rx="3.5" ry="1.8" fill="#28e838" opacity="0.95" filter="url(#bl05)"/>
<ellipse cx="92.5" cy="862.0" rx="2.5" ry="2.5" fill="#28e838" opacity="0.95" filter="url(#bl05)"/>
<ellipse cx="82.0" cy="851.5" rx="2.0" ry="1.5" fill="#28e838" opacity="0.8" filter="url(#bl05)"/>
<ellipse cx="89.7" cy="848.7" rx="2.5" ry="1.5" fill="#28e838" opacity="0.8" filter="url(#bl05)"/>
<ellipse cx="109.0" cy="848.0" rx="3.0" ry="2.5" fill="#28e838" opacity="0.9" filter="url(#bl05)"/>
<ellipse cx="117.5" cy="865.3" rx="3.5" ry="3.5" fill="#28e838" opacity="0.95" filter="url(#bl05)"/>
<ellipse cx="122.7" cy="852.8" rx="2.7" ry="1.5" fill="#28e838" opacity="0.9" filter="url(#bl05)"/>
<ellipse cx="165.7" cy="853.5" rx="2.7" ry="2.0" fill="#28e838" opacity="0.95" filter="url(#bl05)"/>
<ellipse cx="146.0" cy="855.8" rx="7.0" ry="1.2" fill="#40d040" opacity="0.8" filter="url(#bl05)"/>
<ellipse cx="147.5" cy="890.5" rx="1.8" ry="1.8" fill="#28e838" opacity="0.9" filter="url(#bl05)"/>
<ellipse cx="198.5" cy="843.0" rx="2.5" ry="3.0" fill="#28e838" opacity="0.9" filter="url(#bl05)"/>
<ellipse cx="135.0" cy="885.0" rx="1.5" ry="2.0" fill="#28e838" opacity="0.8" filter="url(#bl05)"/>
<ellipse cx="112.0" cy="830.0" rx="2.5" ry="2.5" fill="#28e838" opacity="0.8" filter="url(#bl05)"/>
</g>
<rect x="11.60" y="908.30" width="189.90" height="14.20" fill="#000"/>
<text x="15.20" y="919.00" font-size="10.2" fill="#2020ff" text-anchor="start">DAPI</text>
<text x="58.00" y="919.00" font-size="10.2" fill="#20e020" text-anchor="start">CD45</text>
<text x="106.80" y="919.00" font-size="10.2" fill="#ff7a30" text-anchor="start">ACTA2</text>
<text x="157.00" y="919.00" font-size="10.2" fill="#e8b8d0" text-anchor="start">CD144</text>
<text x="389.60" y="15.20" font-size="15.2" fill="#000" text-anchor="middle">Neighborhood composition of</text>
<text x="388.50" y="34.00" font-size="15.2" fill="#000" text-anchor="middle">artery-close vs. artery-distant immune cells</text>
<text x="373.50" y="55.00" font-size="15" fill="#000" text-anchor="middle">Week 11</text>
<text x="300.55" y="64.70" font-size="9.4" fill="#000" text-anchor="middle">Artery-close immune cells</text>
<polyline points="243.50,185.20 256.37,185.20 269.23,185.20 282.10,185.20 294.96,185.20 307.82,185.20 320.69,185.20 333.56,185.20 346.42,185.20 359.28,185.20" fill="none" stroke="#3a62dc" stroke-width="1.3" stroke-linejoin="round"/>
<polyline points="243.50,185.20 256.37,185.20 269.23,185.20 282.10,185.20 294.96,185.20 307.82,185.20 320.69,185.20 333.56,185.20 346.42,185.20 359.28,184.89" fill="none" stroke="#0e7a7a" stroke-width="1.3" stroke-linejoin="round"/>
<polyline points="243.50,183.96 256.37,183.96 269.23,183.96 282.10,183.96 294.96,183.96 307.82,183.81 320.69,183.81 333.56,183.65 346.42,183.65 359.28,183.65" fill="none" stroke="#a0f020" stroke-width="1.3" stroke-linejoin="round"/>
<polyline points="243.50,185.20 256.37,184.74 269.23,184.43 282.10,184.43 294.96,184.27 307.82,184.12 320.69,183.96 333.56,183.96 346.42,183.96 359.28,183.96" fill="none" stroke="#ffb6c1" stroke-width="1.3" stroke-linejoin="round"/>
<polyline points="243.50,181.64 256.37,181.79 269.23,177.46 282.10,173.59 294.96,172.35 307.82,173.13 320.69,174.36 333.56,174.83 346.42,175.60 359.28,176.22" fill="none" stroke="#a8a8a8" stroke-width="1.3" stroke-linejoin="round"/>
<polyline points="243.50,185.20 256.37,181.79 269.23,177.46 282.10,172.51 294.96,172.35 307.82,173.13 320.69,173.74 333.56,174.36 346.42,175.60 359.28,175.91" fill="none" stroke="#f0104a" stroke-width="1.3" stroke-linejoin="round"/>
<polyline points="243.50,185.20 256.37,184.74 269.23,184.74 282.10,184.74 294.96,183.96 307.82,182.88 320.69,181.33 333.56,179.78 346.42,177.46 359.28,175.60" fill="none" stroke="#ff00f0" stroke-width="1.3" stroke-linejoin="round"/>
<polyline points="243.50,176.84 256.37,168.17 269.23,148.98 282.10,142.63 294.96,142.63 307.82,139.53 320.69,140.77 333.56,140.77 346.42,140.31 359.28,140.31" fill="none" stroke="#ebbfff" stroke-width="1.3" stroke-linejoin="round"/>
<polyline points="243.50,185.20 256.37,180.56 269.23,169.72 282.10,165.54 294.96,156.87 307.82,153.16 320.69,146.50 333.56,144.49 346.42,143.40 359.28,143.40" fill="none" stroke="#ff5a00" stroke-width="1.3" stroke-linejoin="round"/>
<polyline points="243.50,159.97 256.37,137.21 269.23,156.87 282.10,165.54 294.96,169.41 307.82,170.03 320.69,173.74 333.56,174.98 346.42,175.60 359.28,174.98" fill="none" stroke="#10f088" stroke-width="1.3" stroke-linejoin="round"/>
<polyline points="243.50,73.90 256.37,113.99 269.23,132.10 282.10,143.40 294.96,150.68 307.82,155.17 320.69,157.49 333.56,157.65 346.42,159.35 359.28,160.59" fill="none" stroke="#9a00c0" stroke-width="1.3" stroke-linejoin="round"/>
<rect x="237.40" y="68.40" width="126.30" height="122.80" fill="none" stroke="#444" stroke-width="0.9"/>
<line x1="235.00" y1="185.20" x2="237.40" y2="185.20" stroke="#333" stroke-width="0.8"/>
<text x="234.20" y="188.15" font-size="8.2" fill="#4d4d4d" text-anchor="end">0</text>
<line x1="235.00" y1="169.72" x2="237.40" y2="169.72" stroke="#333" stroke-width="0.8"/>
<text x="234.20" y="172.67" font-size="8.2" fill="#4d4d4d" text-anchor="end">10</text>
<line x1="235.00" y1="154.24" x2="237.40" y2="154.24" stroke="#333" stroke-width="0.8"/>
<text x="234.20" y="157.19" font-size="8.2" fill="#4d4d4d" text-anchor="end">20</text>
<line x1="235.00" y1="138.76" x2="237.40" y2="138.76" stroke="#333" stroke-width="0.8"/>
<text x="234.20" y="141.71" font-size="8.2" fill="#4d4d4d" text-anchor="end">30</text>
<line x1="235.00" y1="123.28" x2="237.40" y2="123.28" stroke="#333" stroke-width="0.8"/>
<text x="234.20" y="126.23" font-size="8.2" fill="#4d4d4d" text-anchor="end">40</text>
<line x1="235.00" y1="107.80" x2="237.40" y2="107.80" stroke="#333" stroke-width="0.8"/>
<text x="234.20" y="110.75" font-size="8.2" fill="#4d4d4d" text-anchor="end">50</text>
<line x1="235.00" y1="92.32" x2="237.40" y2="92.32" stroke="#333" stroke-width="0.8"/>
<text x="234.20" y="95.27" font-size="8.2" fill="#4d4d4d" text-anchor="end">60</text>
<line x1="235.00" y1="76.84" x2="237.40" y2="76.84" stroke="#333" stroke-width="0.8"/>
<text x="234.20" y="79.79" font-size="8.2" fill="#4d4d4d" text-anchor="end">70</text>
<line x1="243.50" y1="191.20" x2="243.50" y2="193.60" stroke="#333" stroke-width="0.8"/>
<text x="243.50" y="201.39" font-size="8.2" fill="#4d4d4d" text-anchor="middle">0</text>
<line x1="269.23" y1="191.20" x2="269.23" y2="193.60" stroke="#333" stroke-width="0.8"/>
<text x="269.23" y="201.39" font-size="8.2" fill="#4d4d4d" text-anchor="middle">10</text>
<line x1="294.96" y1="191.20" x2="294.96" y2="193.60" stroke="#333" stroke-width="0.8"/>
<text x="294.96" y="201.39" font-size="8.2" fill="#4d4d4d" text-anchor="middle">20</text>
<line x1="320.69" y1="191.20" x2="320.69" y2="193.60" stroke="#333" stroke-width="0.8"/>
<text x="320.69" y="201.39" font-size="8.2" fill="#4d4d4d" text-anchor="middle">30</text>
<line x1="346.42" y1="191.20" x2="346.42" y2="193.60" stroke="#333" stroke-width="0.8"/>
<text x="346.42" y="201.39" font-size="8.2" fill="#4d4d4d" text-anchor="middle">40</text>
<text x="450.55" y="66.20" font-size="9.4" fill="#000" text-anchor="middle">Artery-distant immune cells</text>
<polyline points="393.20,185.40 406.07,185.13 418.95,184.99 431.82,184.99 444.70,184.99 457.57,184.99 470.45,184.99 483.32,184.99 496.20,184.99 509.07,184.99" fill="none" stroke="#10f088" stroke-width="1.3" stroke-linejoin="round"/>
<polyline points="393.20,184.72 406.07,184.04 418.95,183.36 431.82,183.36 444.70,183.36 457.57,182.95 470.45,182.68 483.32,182.68 496.20,182.68 509.07,182.68" fill="none" stroke="#3a62dc" stroke-width="1.3" stroke-linejoin="round"/>
<polyline points="393.20,184.72 406.07,184.04 418.95,183.36 431.82,183.36 444.70,182.68 457.57,182.68 470.45,182.68 483.32,182.68 496.20,182.68 509.07,182.68" fill="none" stroke="#a8a8a8" stroke-width="1.3" stroke-linejoin="round"/>
<polyline points="393.20,184.72 406.07,184.04 418.95,183.36 431.82,182.68 444.70,182.68 457.57,182.00 470.45,182.00 483.32,182.00 496.20,182.00 509.07,182.00" fill="none" stroke="#ffb6c1" stroke-width="1.3" stroke-linejoin="round"/>
<polyline points="393.20,184.72 406.07,183.36 418.95,183.36 431.82,183.36 444.70,183.36 457.57,183.36 470.45,183.36 483.32,183.36 496.20,183.36 509.07,183.36" fill="none" stroke="#f0104a" stroke-width="1.3" stroke-linejoin="round"/>
<polyline points="393.20,184.72 406.07,184.04 418.95,183.36 431.82,182.68 444.70,182.00 457.57,182.00 470.45,181.59 483.32,181.32 496.20,181.32 509.07,181.32" fill="none" stroke="#0e7a7a" stroke-width="1.3" stroke-linejoin="round"/>
<polyline points="393.20,184.72 406.07,183.36 418.95,182.00 431.82,181.32 444.70,181.32 457.57,181.32 470.45,181.32 483.32,181.32 496.20,181.32 509.07,181.32" fill="none" stroke="#a0f020" stroke-width="1.3" stroke-linejoin="round"/>
<polyline points="393.20,184.72 406.07,182.41 418.95,181.86 431.82,179.96 444.70,179.82 457.57,179.55 470.45,178.33 483.32,177.65 496.20,178.33 509.07,178.33" fill="none" stroke="#ff00f0" stroke-width="1.3" stroke-linejoin="round"/>
<polyline points="393.20,174.11 406.07,151.94 418.95,141.47 431.82,131.54 444.70,128.55 457.57,128.55 470.45,128.55 483.32,127.33 496.20,129.23 509.07,129.23" fill="none" stroke="#ebbfff" stroke-width="1.3" stroke-linejoin="round"/>
<polyline points="393.20,176.56 406.07,169.49 418.95,162.42 431.82,157.11 444.70,155.48 457.57,153.17 470.45,153.85 483.32,155.48 496.20,153.58 509.07,155.89" fill="none" stroke="#ff5a00" stroke-width="1.3" stroke-linejoin="round"/>
<polyline points="393.20,74.70 406.07,116.18 418.95,135.62 431.82,157.79 444.70,164.86 457.57,168.81 470.45,170.17 483.32,171.80 496.20,171.80 509.07,171.12" fill="none" stroke="#9a00c0" stroke-width="1.3" stroke-linejoin="round"/>
<rect x="387.60" y="69.00" width="125.90" height="122.20" fill="none" stroke="#888" stroke-width="0.9"/>
<line x1="385.60" y1="185.40" x2="387.60" y2="185.40" stroke="#333" stroke-width="0.8"/>
<text x="384.80" y="188.50" font-size="8.6" fill="#505050" text-anchor="end">0</text>
<line x1="385.60" y1="158.20" x2="387.60" y2="158.20" stroke="#333" stroke-width="0.8"/>
<text x="384.80" y="161.30" font-size="8.6" fill="#505050" text-anchor="end">20</text>
<line x1="385.60" y1="131.00" x2="387.60" y2="131.00" stroke="#333" stroke-width="0.8"/>
<text x="384.80" y="134.10" font-size="8.6" fill="#505050" text-anchor="end">40</text>
<line x1="385.60" y1="103.80" x2="387.60" y2="103.80" stroke="#333" stroke-width="0.8"/>
<text x="384.80" y="106.90" font-size="8.6" fill="#505050" text-anchor="end">60</text>
<line x1="385.60" y1="76.60" x2="387.60" y2="76.60" stroke="#333" stroke-width="0.8"/>
<text x="384.80" y="79.70" font-size="8.6" fill="#505050" text-anchor="end">80</text>
<line x1="393.20" y1="191.20" x2="393.20" y2="193.20" stroke="#333" stroke-width="0.8"/>
<text x="393.20" y="201.37" font-size="8.6" fill="#505050" text-anchor="middle">0</text>
<line x1="418.95" y1="191.20" x2="418.95" y2="193.20" stroke="#333" stroke-width="0.8"/>
<text x="418.95" y="201.37" font-size="8.6" fill="#505050" text-anchor="middle">10</text>
<line x1="444.70" y1="191.20" x2="444.70" y2="193.20" stroke="#333" stroke-width="0.8"/>
<text x="444.70" y="201.37" font-size="8.6" fill="#505050" text-anchor="middle">20</text>
<line x1="470.45" y1="191.20" x2="470.45" y2="193.20" stroke="#333" stroke-width="0.8"/>
<text x="470.45" y="201.37" font-size="8.6" fill="#505050" text-anchor="middle">30</text>
<line x1="496.20" y1="191.20" x2="496.20" y2="193.20" stroke="#333" stroke-width="0.8"/>
<text x="496.20" y="201.37" font-size="8.6" fill="#505050" text-anchor="middle">40</text>
<text x="220.00" y="135.30" font-size="8.6" fill="#222" text-anchor="middle" transform="rotate(-90 220.00 135.30)">Percentage of cells (%)</text>
<path d="M215.00,186.70 L215.00,206.80 L236.70,206.80" fill="none" stroke="#000" stroke-width="1.2"/>
<path d="M215.00,183.70 L213.00,187.70 L217.00,187.70 Z" fill="#000"/>
<path d="M239.70,206.80 L235.70,204.80 L235.70,208.80 Z" fill="#000"/>
<text x="244.20" y="208.00" font-size="8.3" fill="#222" text-anchor="start">Distance (µm)</text>
<rect x="520.70" y="67.70" width="92.80" height="118.30" rx="1.5" fill="#fff" stroke="#c8c8c8" stroke-width="0.8"/>
<rect x="524.00" y="74.00" width="7" height="3.2" rx="1.6" fill="#9a00c0"/>
<text x="532.90" y="78.10" font-size="7.1" fill="#333" text-anchor="start">Artery-distant immune</text>
<rect x="524.00" y="84.20" width="7" height="3.2" rx="1.6" fill="#ff5a00"/>
<text x="532.90" y="88.30" font-size="7.1" fill="#333" text-anchor="start">Endothelial</text>
<rect x="524.00" y="94.40" width="7" height="3.2" rx="1.6" fill="#ebbfff"/>
<text x="532.90" y="98.50" font-size="7.1" fill="#333" text-anchor="start">Mesenchymal</text>
<rect x="524.00" y="104.60" width="7" height="3.2" rx="1.6" fill="#3a62dc"/>
<text x="532.90" y="108.70" font-size="7.1" fill="#333" text-anchor="start">Chondroblast</text>
<rect x="524.00" y="114.80" width="7" height="3.2" rx="1.6" fill="#ff00f0"/>
<text x="532.90" y="118.90" font-size="7.1" fill="#333" text-anchor="start">Lymphatic endothelial</text>
<rect x="524.00" y="125.00" width="7" height="3.2" rx="1.6" fill="#ffb6c1"/>
<text x="532.90" y="129.10" font-size="7.1" fill="#333">SOX2<tspan font-size="4.3" dy="-2.7">high</tspan><tspan dy="2.7"> epithelial</tspan></text>
<rect x="524.00" y="135.20" width="7" height="3.2" rx="1.6" fill="#0e7a7a"/>
<text x="532.90" y="139.30" font-size="7.1" fill="#333">SOX9<tspan font-size="4.3" dy="-2.7">high</tspan><tspan dy="2.7"> epithelial</tspan></text>
<rect x="524.00" y="145.40" width="7" height="3.2" rx="1.6" fill="#a0f020"/>
<text x="532.90" y="149.50" font-size="7.1" fill="#333" text-anchor="start">Neuronal</text>
<rect x="524.00" y="155.60" width="7" height="3.2" rx="1.6" fill="#f0104a"/>
<text x="532.90" y="159.70" font-size="7.1" fill="#333" text-anchor="start">Airway smooth muscle</text>
<rect x="524.00" y="165.80" width="7" height="3.2" rx="1.6" fill="#a8a8a8"/>
<text x="532.90" y="169.90" font-size="7.1" fill="#333" text-anchor="start">Vascular smooth muscle</text>
<rect x="524.00" y="176.00" width="7" height="3.2" rx="1.6" fill="#10f088"/>
<text x="532.90" y="180.10" font-size="7.1" fill="#333" text-anchor="start">Artery-close immune</text>
<text x="372.00" y="224.10" font-size="15" fill="#000" text-anchor="middle">Week 12</text>
<text x="296.60" y="235.60" font-size="9.4" fill="#000" text-anchor="middle">Artery-close immune cells</text>
<polyline points="239.70,354.40 252.20,354.40 264.70,354.40 277.20,354.40 289.70,354.40 302.20,354.40 314.70,354.40 327.20,354.40 339.70,354.40 352.20,354.40" fill="none" stroke="#3a62dc" stroke-width="1.3" stroke-linejoin="round"/>
<polyline points="239.70,353.91 252.20,353.91 264.70,353.91 277.20,353.58 289.70,353.58 302.20,353.08 314.70,352.76 327.20,352.76 339.70,352.76 352.20,352.76" fill="none" stroke="#a0f020" stroke-width="1.3" stroke-linejoin="round"/>
<polyline points="239.70,354.40 252.20,354.40 264.70,354.40 277.20,354.40 289.70,354.40 302.20,354.40 314.70,353.58 327.20,351.11 339.70,348.65 352.20,347.82" fill="none" stroke="#0e7a7a" stroke-width="1.3" stroke-linejoin="round"/>
<polyline points="239.70,354.40 252.20,353.91 264.70,353.58 277.20,352.76 289.70,350.29 302.20,351.93 314.70,349.47 327.20,346.18 339.70,341.25 352.20,337.96" fill="none" stroke="#ffb6c1" stroke-width="1.3" stroke-linejoin="round"/>
<polyline points="239.70,354.40 252.20,352.76 264.70,349.47 277.20,348.65 289.70,346.18 302.20,342.89 314.70,341.25 327.20,337.96 339.70,337.96 352.20,339.60" fill="none" stroke="#ebbfff" stroke-width="1.3" stroke-linejoin="round"/>
<polyline points="239.70,353.91 252.20,272.20 264.70,316.59 277.20,329.08 289.70,343.22 302.20,341.58 314.70,348.97 327.20,350.13 339.70,350.13 352.20,350.13" fill="none" stroke="#10f088" stroke-width="1.3" stroke-linejoin="round"/>
<polyline points="239.70,298.83 252.20,344.70 264.70,331.55 277.20,326.62 289.70,317.90 302.20,317.90 314.70,322.84 327.20,324.64 339.70,332.86 352.20,341.58" fill="none" stroke="#a8a8a8" stroke-width="1.3" stroke-linejoin="round"/>
<polyline points="239.70,353.91 252.20,347.66 264.70,344.70 277.20,343.55 289.70,341.58 302.20,337.80 314.70,335.33 327.20,334.01 339.70,334.01 352.20,330.40" fill="none" stroke="#f0104a" stroke-width="1.3" stroke-linejoin="round"/>
<polyline points="239.70,353.91 252.20,352.76 264.70,346.02 277.20,347.99 289.70,338.95 302.20,339.60 314.70,338.95 327.20,336.48 339.70,335.99 352.20,338.45" fill="none" stroke="#ff00f0" stroke-width="1.3" stroke-linejoin="round"/>
<polyline points="239.70,353.91 252.20,312.97 264.70,312.31 277.20,322.84 289.70,330.89 302.20,332.04 314.70,333.36 327.20,332.04 339.70,334.51 352.20,335.33" fill="none" stroke="#9a00c0" stroke-width="1.3" stroke-linejoin="round"/>
<polyline points="239.70,244.25 252.20,330.40 264.70,312.97 277.20,297.35 289.70,303.11 302.20,308.04 314.70,305.08 327.20,312.48 339.70,309.19 352.20,307.55" fill="none" stroke="#ff5a00" stroke-width="1.3" stroke-linejoin="round"/>
<rect x="234.80" y="238.50" width="123.60" height="121.10" fill="none" stroke="#777" stroke-width="0.9"/>
<line x1="233.60" y1="354.40" x2="234.80" y2="354.40" stroke="#333" stroke-width="0.8"/>
<text x="232.80" y="357.75" font-size="9.3" fill="#111" text-anchor="end">0</text>
<line x1="233.60" y1="337.96" x2="234.80" y2="337.96" stroke="#333" stroke-width="0.8"/>
<text x="232.80" y="341.31" font-size="9.3" fill="#111" text-anchor="end">10</text>
<line x1="233.60" y1="321.52" x2="234.80" y2="321.52" stroke="#333" stroke-width="0.8"/>
<text x="232.80" y="324.87" font-size="9.3" fill="#111" text-anchor="end">20</text>
<line x1="233.60" y1="305.08" x2="234.80" y2="305.08" stroke="#333" stroke-width="0.8"/>
<text x="232.80" y="308.43" font-size="9.3" fill="#111" text-anchor="end">30</text>
<line x1="233.60" y1="288.64" x2="234.80" y2="288.64" stroke="#333" stroke-width="0.8"/>
<text x="232.80" y="291.99" font-size="9.3" fill="#111" text-anchor="end">40</text>
<line x1="233.60" y1="272.20" x2="234.80" y2="272.20" stroke="#333" stroke-width="0.8"/>
<text x="232.80" y="275.55" font-size="9.3" fill="#111" text-anchor="end">50</text>
<line x1="233.60" y1="255.76" x2="234.80" y2="255.76" stroke="#333" stroke-width="0.8"/>
<text x="232.80" y="259.11" font-size="9.3" fill="#111" text-anchor="end">60</text>
<line x1="233.60" y1="239.32" x2="234.80" y2="239.32" stroke="#333" stroke-width="0.8"/>
<text x="232.80" y="242.67" font-size="9.3" fill="#111" text-anchor="end">70</text>
<line x1="239.70" y1="359.60" x2="239.70" y2="360.80" stroke="#333" stroke-width="0.8"/>
<text x="239.70" y="368.74" font-size="9.3" fill="#111" text-anchor="middle">0</text>
<line x1="264.70" y1="359.60" x2="264.70" y2="360.80" stroke="#333" stroke-width="0.8"/>
<text x="264.70" y="368.74" font-size="9.3" fill="#111" text-anchor="middle">10</text>
<line x1="289.70" y1="359.60" x2="289.70" y2="360.80" stroke="#333" stroke-width="0.8"/>
<text x="289.70" y="368.74" font-size="9.3" fill="#111" text-anchor="middle">20</text>
<line x1="314.70" y1="359.60" x2="314.70" y2="360.80" stroke="#333" stroke-width="0.8"/>
<text x="314.70" y="368.74" font-size="9.3" fill="#111" text-anchor="middle">30</text>
<line x1="339.70" y1="359.60" x2="339.70" y2="360.80" stroke="#333" stroke-width="0.8"/>
<text x="339.70" y="368.74" font-size="9.3" fill="#111" text-anchor="middle">40</text>
<text x="450.75" y="234.90" font-size="9.4" fill="#000" text-anchor="middle">Artery-distant immune cells</text>
<polyline points="394.30,353.30 406.95,353.01 419.60,353.01 432.25,353.01 444.90,353.01 457.55,353.01 470.20,353.01 482.85,353.01 495.50,353.01 508.15,353.01" fill="none" stroke="#10f088" stroke-width="1.3" stroke-linejoin="round"/>
<polyline points="394.30,353.01 406.95,352.87 419.60,352.58 432.25,352.58 444.90,352.58 457.55,352.58 470.20,352.58 482.85,352.58 495.50,352.58 508.15,352.58" fill="none" stroke="#a0f020" stroke-width="1.3" stroke-linejoin="round"/>
<polyline points="394.30,353.30 406.95,352.87 419.60,352.58 432.25,352.58 444.90,352.58 457.55,352.58 470.20,352.58 482.85,352.58 495.50,352.58 508.15,352.58" fill="none" stroke="#3a62dc" stroke-width="1.3" stroke-linejoin="round"/>
<polyline points="394.30,353.30 406.95,352.58 419.60,352.16 432.25,352.16 444.90,351.87 457.55,351.87 470.20,351.87 482.85,351.87 495.50,351.87 508.15,351.87" fill="none" stroke="#a8a8a8" stroke-width="1.3" stroke-linejoin="round"/>
<polyline points="394.30,353.30 406.95,351.87 419.60,351.87 432.25,351.87 444.90,351.87 457.55,350.44 470.20,350.44 482.85,350.44 495.50,349.58 508.15,349.29" fill="none" stroke="#ff00f0" stroke-width="1.3" stroke-linejoin="round"/>
<polyline points="394.30,353.30 406.95,352.58 419.60,351.87 432.25,349.01 444.90,347.58 457.55,346.15 470.20,344.71 482.85,342.57 495.50,341.85 508.15,340.42" fill="none" stroke="#ffb6c1" stroke-width="1.3" stroke-linejoin="round"/>
<polyline points="394.30,353.30 406.95,352.87 419.60,346.29 432.25,343.43 444.90,342.28 457.55,341.57 470.20,340.71 482.85,338.42 495.50,338.85 508.15,337.13" fill="none" stroke="#0e7a7a" stroke-width="1.3" stroke-linejoin="round"/>
<polyline points="394.30,331.12 406.95,347.00 419.60,346.29 432.25,343.00 444.90,342.28 457.55,341.85 470.20,341.14 482.85,340.42 495.50,344.71 508.15,343.00" fill="none" stroke="#f0104a" stroke-width="1.3" stroke-linejoin="round"/>
<polyline points="394.30,342.28 406.95,329.40 419.60,318.96 432.25,307.79 444.90,313.09 457.55,313.52 470.20,308.94 482.85,307.94 495.50,306.08 508.15,306.51" fill="none" stroke="#ebbfff" stroke-width="1.3" stroke-linejoin="round"/>
<polyline points="394.30,353.30 406.95,328.83 419.60,314.23 432.25,314.23 444.90,308.94 457.55,310.80 470.20,315.95 482.85,317.81 495.50,318.24 508.15,315.95" fill="none" stroke="#ff5a00" stroke-width="1.3" stroke-linejoin="round"/>
<polyline points="394.30,243.54 406.95,272.16 419.60,302.64 432.25,322.96 444.90,324.82 457.55,327.83 470.20,328.83 482.85,333.41 495.50,334.55 508.15,338.13" fill="none" stroke="#9a00c0" stroke-width="1.3" stroke-linejoin="round"/>
<rect x="388.50" y="237.70" width="124.50" height="120.30" fill="none" stroke="#888" stroke-width="0.9"/>
<line x1="387.00" y1="353.30" x2="388.50" y2="353.30" stroke="#333" stroke-width="0.8"/>
<text x="386.20" y="356.65" font-size="9.3" fill="#222" text-anchor="end">0</text>
<line x1="387.00" y1="338.99" x2="388.50" y2="338.99" stroke="#333" stroke-width="0.8"/>
<text x="386.20" y="342.34" font-size="9.3" fill="#222" text-anchor="end">10</text>
<line x1="387.00" y1="324.68" x2="388.50" y2="324.68" stroke="#333" stroke-width="0.8"/>
<text x="386.20" y="328.03" font-size="9.3" fill="#222" text-anchor="end">20</text>
<line x1="387.00" y1="310.37" x2="388.50" y2="310.37" stroke="#333" stroke-width="0.8"/>
<text x="386.20" y="313.72" font-size="9.3" fill="#222" text-anchor="end">30</text>
<line x1="387.00" y1="296.06" x2="388.50" y2="296.06" stroke="#333" stroke-width="0.8"/>
<text x="386.20" y="299.41" font-size="9.3" fill="#222" text-anchor="end">40</text>
<line x1="387.00" y1="281.75" x2="388.50" y2="281.75" stroke="#333" stroke-width="0.8"/>
<text x="386.20" y="285.10" font-size="9.3" fill="#222" text-anchor="end">50</text>
<line x1="387.00" y1="267.44" x2="388.50" y2="267.44" stroke="#333" stroke-width="0.8"/>
<text x="386.20" y="270.79" font-size="9.3" fill="#222" text-anchor="end">60</text>
<line x1="387.00" y1="253.13" x2="388.50" y2="253.13" stroke="#333" stroke-width="0.8"/>
<text x="386.20" y="256.48" font-size="9.3" fill="#222" text-anchor="end">70</text>
<line x1="387.00" y1="238.82" x2="388.50" y2="238.82" stroke="#333" stroke-width="0.8"/>
<text x="386.20" y="242.17" font-size="9.3" fill="#222" text-anchor="end">80</text>
<line x1="394.30" y1="358.00" x2="394.30" y2="359.50" stroke="#333" stroke-width="0.8"/>
<text x="394.30" y="367.44" font-size="9.3" fill="#222" text-anchor="middle">0</text>
<line x1="419.60" y1="358.00" x2="419.60" y2="359.50" stroke="#333" stroke-width="0.8"/>
<text x="419.60" y="367.44" font-size="9.3" fill="#222" text-anchor="middle">10</text>
<line x1="444.90" y1="358.00" x2="444.90" y2="359.50" stroke="#333" stroke-width="0.8"/>
<text x="444.90" y="367.44" font-size="9.3" fill="#222" text-anchor="middle">20</text>
<line x1="470.20" y1="358.00" x2="470.20" y2="359.50" stroke="#333" stroke-width="0.8"/>
<text x="470.20" y="367.44" font-size="9.3" fill="#222" text-anchor="middle">30</text>
<line x1="495.50" y1="358.00" x2="495.50" y2="359.50" stroke="#333" stroke-width="0.8"/>
<text x="495.50" y="367.44" font-size="9.3" fill="#222" text-anchor="middle">40</text>
<text x="218.80" y="303.90" font-size="8.3" fill="#222" text-anchor="middle" transform="rotate(-90 218.80 303.90)">Percentage of cells (%)</text>
<path d="M216.60,354.60 L216.60,374.30 L238.00,374.30" fill="none" stroke="#000" stroke-width="1.2"/>
<path d="M216.60,351.60 L214.60,355.60 L218.60,355.60 Z" fill="#000"/>
<path d="M241.00,374.30 L237.00,372.30 L237.00,376.30 Z" fill="#000"/>
<text x="245.00" y="377.40" font-size="8.3" fill="#222" text-anchor="start">Distance (µm)</text>
<rect x="520.70" y="238.30" width="92.80" height="118.70" rx="1.5" fill="#fff" stroke="#c8c8c8" stroke-width="0.8"/>
<rect x="524.00" y="244.90" width="7" height="3.2" rx="1.6" fill="#9a00c0"/>
<text x="532.90" y="249.00" font-size="7.1" fill="#333" text-anchor="start">Artery-distant immune</text>
<rect x="524.00" y="255.15" width="7" height="3.2" rx="1.6" fill="#ff5a00"/>
<text x="532.90" y="259.25" font-size="7.1" fill="#333" text-anchor="start">Endothelial</text>
<rect x="524.00" y="265.40" width="7" height="3.2" rx="1.6" fill="#ebbfff"/>
<text x="532.90" y="269.50" font-size="7.1" fill="#333" text-anchor="start">Mesenchymal</text>
<rect x="524.00" y="275.65" width="7" height="3.2" rx="1.6" fill="#3a62dc"/>
<text x="532.90" y="279.75" font-size="7.1" fill="#333" text-anchor="start">Chondroblast</text>
<rect x="524.00" y="285.90" width="7" height="3.2" rx="1.6" fill="#ff00f0"/>
<text x="532.90" y="290.00" font-size="7.1" fill="#333" text-anchor="start">Lymphatic endothelial</text>
<rect x="524.00" y="296.15" width="7" height="3.2" rx="1.6" fill="#ffb6c1"/>
<text x="532.90" y="300.25" font-size="7.1" fill="#333">SOX2<tspan font-size="4.3" dy="-2.7">high</tspan><tspan dy="2.7"> epithelial</tspan></text>
<rect x="524.00" y="306.40" width="7" height="3.2" rx="1.6" fill="#0e7a7a"/>
<text x="532.90" y="310.50" font-size="7.1" fill="#333">SOX9<tspan font-size="4.3" dy="-2.7">high</tspan><tspan dy="2.7"> epithelial</tspan></text>
<rect x="524.00" y="316.65" width="7" height="3.2" rx="1.6" fill="#a0f020"/>
<text x="532.90" y="320.75" font-size="7.1" fill="#333" text-anchor="start">Neuronal</text>
<rect x="524.00" y="326.90" width="7" height="3.2" rx="1.6" fill="#f0104a"/>
<text x="532.90" y="331.00" font-size="7.1" fill="#333" text-anchor="start">Airway smooth muscle</text>
<rect x="524.00" y="337.15" width="7" height="3.2" rx="1.6" fill="#a8a8a8"/>
<text x="532.90" y="341.25" font-size="7.1" fill="#333" text-anchor="start">Vascular smooth muscle</text>
<rect x="524.00" y="347.40" width="7" height="3.2" rx="1.6" fill="#10f088"/>
<text x="532.90" y="351.50" font-size="7.1" fill="#333" text-anchor="start">Artery-close immune</text>
<text x="371.00" y="394.90" font-size="15" fill="#000" text-anchor="middle">Week 13</text>
<text x="297.95" y="408.50" font-size="9.4" fill="#000" text-anchor="middle">Artery-close immune cells</text>
<polyline points="240.50,527.60 253.15,527.60 265.80,527.60 278.45,527.60 291.10,527.60 303.75,527.60 316.40,527.60 329.05,527.60 341.70,527.60 354.35,527.60" fill="none" stroke="#3a62dc" stroke-width="1.3" stroke-linejoin="round"/>
<polyline points="240.50,527.60 253.15,527.60 265.80,527.60 278.45,527.60 291.10,527.10 303.75,527.10 316.40,527.10 329.05,527.10 341.70,527.10 354.35,527.10" fill="none" stroke="#a0f020" stroke-width="1.3" stroke-linejoin="round"/>
<polyline points="240.50,527.60 253.15,527.60 265.80,527.60 278.45,527.60 291.10,527.10 303.75,526.85 316.40,526.36 329.05,525.61 341.70,525.11 354.35,523.87" fill="none" stroke="#f0104a" stroke-width="1.3" stroke-linejoin="round"/>
<polyline points="240.50,527.60 253.15,527.60 265.80,527.60 278.45,527.60 291.10,527.60 303.75,525.61 316.40,522.62 329.05,520.63 341.70,520.63 354.35,521.38" fill="none" stroke="#0e7a7a" stroke-width="1.3" stroke-linejoin="round"/>
<polyline points="240.50,527.60 253.15,526.36 265.80,525.11 278.45,525.11 291.10,523.87 303.75,522.62 316.40,521.38 329.05,521.38 341.70,522.62 354.35,522.62" fill="none" stroke="#ff00f0" stroke-width="1.3" stroke-linejoin="round"/>
<polyline points="240.50,527.60 253.15,502.20 265.80,513.16 278.45,517.14 291.10,521.87 303.75,522.62 316.40,521.38 329.05,520.63 341.70,519.63 354.35,521.87" fill="none" stroke="#9a00c0" stroke-width="1.3" stroke-linejoin="round"/>
<polyline points="240.50,417.04 253.15,466.84 265.80,508.93 278.45,522.62 291.10,522.62 303.75,518.88 316.40,520.13 329.05,520.13 341.70,521.38 354.35,525.61" fill="none" stroke="#10f088" stroke-width="1.3" stroke-linejoin="round"/>
<polyline points="240.50,527.60 253.15,503.95 265.80,487.76 278.45,478.55 291.10,477.80 303.75,482.03 316.40,477.30 329.05,481.04 341.70,479.05 354.35,482.78" fill="none" stroke="#ebbfff" stroke-width="1.3" stroke-linejoin="round"/>
<polyline points="240.50,472.57 253.15,457.63 265.80,451.16 278.45,459.87 291.10,479.05 303.75,469.33 316.40,476.80 329.05,477.30 341.70,479.05 354.35,476.80" fill="none" stroke="#ffd27f" stroke-width="1.3" stroke-linejoin="round"/>
<polyline points="240.50,444.93 253.15,483.28 265.80,477.30 278.45,468.09 291.10,463.11 303.75,471.33 316.40,472.32 329.05,473.82 341.70,474.81 354.35,472.57" fill="none" stroke="#a8a8a8" stroke-width="1.3" stroke-linejoin="round"/>
<polyline points="240.50,527.60 253.15,489.75 265.80,482.78 278.45,474.81 291.10,459.37 303.75,461.37 316.40,462.61 329.05,461.37 341.70,458.88 354.35,455.64" fill="none" stroke="#ff5a00" stroke-width="1.3" stroke-linejoin="round"/>
<rect x="235.30" y="411.70" width="125.30" height="121.30" fill="none" stroke="#aaa" stroke-width="0.9"/>
<line x1="233.80" y1="527.60" x2="235.30" y2="527.60" stroke="#333" stroke-width="0.8"/>
<text x="233.00" y="530.84" font-size="9.0" fill="#111" text-anchor="end">0</text>
<line x1="233.80" y1="502.70" x2="235.30" y2="502.70" stroke="#333" stroke-width="0.8"/>
<text x="233.00" y="505.94" font-size="9.0" fill="#111" text-anchor="end">10</text>
<line x1="233.80" y1="477.80" x2="235.30" y2="477.80" stroke="#333" stroke-width="0.8"/>
<text x="233.00" y="481.04" font-size="9.0" fill="#111" text-anchor="end">20</text>
<line x1="233.80" y1="452.90" x2="235.30" y2="452.90" stroke="#333" stroke-width="0.8"/>
<text x="233.00" y="456.14" font-size="9.0" fill="#111" text-anchor="end">30</text>
<line x1="233.80" y1="428.00" x2="235.30" y2="428.00" stroke="#333" stroke-width="0.8"/>
<text x="233.00" y="431.24" font-size="9.0" fill="#111" text-anchor="end">40</text>
<line x1="240.50" y1="533.00" x2="240.50" y2="534.50" stroke="#333" stroke-width="0.8"/>
<text x="240.50" y="543.05" font-size="9.0" fill="#111" text-anchor="middle">0</text>
<line x1="265.80" y1="533.00" x2="265.80" y2="534.50" stroke="#333" stroke-width="0.8"/>
<text x="265.80" y="543.05" font-size="9.0" fill="#111" text-anchor="middle">10</text>
<line x1="291.10" y1="533.00" x2="291.10" y2="534.50" stroke="#333" stroke-width="0.8"/>
<text x="291.10" y="543.05" font-size="9.0" fill="#111" text-anchor="middle">20</text>
<line x1="316.40" y1="533.00" x2="316.40" y2="534.50" stroke="#333" stroke-width="0.8"/>
<text x="316.40" y="543.05" font-size="9.0" fill="#111" text-anchor="middle">30</text>
<line x1="341.70" y1="533.00" x2="341.70" y2="534.50" stroke="#333" stroke-width="0.8"/>
<text x="341.70" y="543.05" font-size="9.0" fill="#111" text-anchor="middle">40</text>
<text x="449.35" y="408.00" font-size="9.4" fill="#000" text-anchor="middle">Artery-distant immune cells</text>
<polyline points="391.30,528.40 404.04,528.09 416.78,528.09 429.52,528.09 442.26,528.09 455.00,528.09 467.74,528.09 480.48,528.09 493.22,528.09 505.96,528.09" fill="none" stroke="#10f088" stroke-width="1.3" stroke-linejoin="round"/>
<polyline points="391.30,528.40 404.04,527.94 416.78,527.63 429.52,527.63 442.26,527.63 455.00,527.63 467.74,527.63 480.48,527.63 493.22,527.63 505.96,527.63" fill="none" stroke="#a0f020" stroke-width="1.3" stroke-linejoin="round"/>
<polyline points="391.30,528.40 404.04,527.94 416.78,527.63 429.52,527.63 442.26,527.63 455.00,527.63 467.74,527.63 480.48,527.63 493.22,527.63 505.96,527.63" fill="none" stroke="#a8a8a8" stroke-width="1.3" stroke-linejoin="round"/>
<polyline points="391.30,528.40 404.04,527.94 416.78,527.63 429.52,527.63 442.26,527.63 455.00,527.63 467.74,527.63 480.48,527.63 493.22,527.63 505.96,527.63" fill="none" stroke="#3a62dc" stroke-width="1.3" stroke-linejoin="round"/>
<polyline points="391.30,528.40 404.04,527.63 416.78,526.87 429.52,526.87 442.26,526.87 455.00,526.87 467.74,526.10 480.48,526.10 493.22,526.10 505.96,526.10" fill="none" stroke="#ff00f0" stroke-width="1.3" stroke-linejoin="round"/>
<polyline points="391.30,528.40 404.04,527.63 416.78,526.87 429.52,526.10 442.26,526.10 455.00,526.10 467.74,525.33 480.48,524.57 493.22,523.80 505.96,523.80" fill="none" stroke="#ffb6c1" stroke-width="1.3" stroke-linejoin="round"/>
<polyline points="391.30,514.30 404.04,523.19 416.78,521.35 429.52,521.81 442.26,518.28 455.00,516.29 467.74,513.84 480.48,514.30 493.22,512.76 505.96,512.46" fill="none" stroke="#f0104a" stroke-width="1.3" stroke-linejoin="round"/>
<polyline points="391.30,528.40 404.04,526.10 416.78,523.03 429.52,521.35 442.26,516.29 455.00,510.16 467.74,513.22 480.48,508.47 493.22,512.46 505.96,510.92" fill="none" stroke="#0e7a7a" stroke-width="1.3" stroke-linejoin="round"/>
<polyline points="391.30,501.11 404.04,476.89 416.78,468.77 429.52,453.13 442.26,454.82 455.00,462.17 467.74,457.58 480.48,463.40 493.22,459.41 505.96,455.28" fill="none" stroke="#ebbfff" stroke-width="1.3" stroke-linejoin="round"/>
<polyline points="391.30,528.40 404.04,503.87 416.78,494.52 429.52,494.06 442.26,494.52 455.00,493.29 467.74,495.59 480.48,492.22 493.22,496.82 505.96,500.81" fill="none" stroke="#ff5a00" stroke-width="1.3" stroke-linejoin="round"/>
<polyline points="391.30,417.41 404.04,460.64 416.78,482.87 429.52,505.56 442.26,512.00 455.00,516.29 467.74,517.36 480.48,520.74 493.22,519.05 505.96,521.19" fill="none" stroke="#9a00c0" stroke-width="1.3" stroke-linejoin="round"/>
<rect x="386.40" y="412.00" width="125.90" height="122.20" fill="none" stroke="#888" stroke-width="0.9"/>
<line x1="384.90" y1="528.40" x2="386.40" y2="528.40" stroke="#333" stroke-width="0.8"/>
<text x="384.10" y="531.64" font-size="9.0" fill="#222" text-anchor="end">0</text>
<line x1="384.90" y1="513.07" x2="386.40" y2="513.07" stroke="#333" stroke-width="0.8"/>
<text x="384.10" y="516.31" font-size="9.0" fill="#222" text-anchor="end">10</text>
<line x1="384.90" y1="497.74" x2="386.40" y2="497.74" stroke="#333" stroke-width="0.8"/>
<text x="384.10" y="500.98" font-size="9.0" fill="#222" text-anchor="end">20</text>
<line x1="384.90" y1="482.41" x2="386.40" y2="482.41" stroke="#333" stroke-width="0.8"/>
<text x="384.10" y="485.65" font-size="9.0" fill="#222" text-anchor="end">30</text>
<line x1="384.90" y1="467.08" x2="386.40" y2="467.08" stroke="#333" stroke-width="0.8"/>
<text x="384.10" y="470.32" font-size="9.0" fill="#222" text-anchor="end">40</text>
<line x1="384.90" y1="451.75" x2="386.40" y2="451.75" stroke="#333" stroke-width="0.8"/>
<text x="384.10" y="454.99" font-size="9.0" fill="#222" text-anchor="end">50</text>
<line x1="384.90" y1="436.42" x2="386.40" y2="436.42" stroke="#333" stroke-width="0.8"/>
<text x="384.10" y="439.66" font-size="9.0" fill="#222" text-anchor="end">60</text>
<line x1="384.90" y1="421.09" x2="386.40" y2="421.09" stroke="#333" stroke-width="0.8"/>
<text x="384.10" y="424.33" font-size="9.0" fill="#222" text-anchor="end">70</text>
<line x1="391.30" y1="534.20" x2="391.30" y2="535.70" stroke="#333" stroke-width="0.8"/>
<text x="391.30" y="544.25" font-size="9.0" fill="#222" text-anchor="middle">0</text>
<line x1="416.78" y1="534.20" x2="416.78" y2="535.70" stroke="#333" stroke-width="0.8"/>
<text x="416.78" y="544.25" font-size="9.0" fill="#222" text-anchor="middle">10</text>
<line x1="442.26" y1="534.20" x2="442.26" y2="535.70" stroke="#333" stroke-width="0.8"/>
<text x="442.26" y="544.25" font-size="9.0" fill="#222" text-anchor="middle">20</text>
<line x1="467.74" y1="534.20" x2="467.74" y2="535.70" stroke="#333" stroke-width="0.8"/>
<text x="467.74" y="544.25" font-size="9.0" fill="#222" text-anchor="middle">30</text>
<line x1="493.22" y1="534.20" x2="493.22" y2="535.70" stroke="#333" stroke-width="0.8"/>
<text x="493.22" y="544.25" font-size="9.0" fill="#222" text-anchor="middle">40</text>
<text x="219.00" y="478.00" font-size="8.55" fill="#222" text-anchor="middle" transform="rotate(-90 219.00 478.00)">Percentage of cells (%)</text>
<path d="M214.90,529.00 L214.90,548.40 L236.70,548.40" fill="none" stroke="#000" stroke-width="1.2"/>
<path d="M214.90,526.00 L212.90,530.00 L216.90,530.00 Z" fill="#000"/>
<path d="M239.70,548.40 L235.70,546.40 L235.70,550.40 Z" fill="#000"/>
<text x="243.50" y="552.10" font-size="8.3" fill="#222" text-anchor="start">Distance (µm)</text>
<rect x="522.30" y="408.50" width="92.50" height="128.50" rx="1.5" fill="#fff" stroke="#c8c8c8" stroke-width="0.8"/>
<rect x="525.60" y="414.90" width="7" height="3.2" rx="1.6" fill="#9a00c0"/>
<text x="534.50" y="419.00" font-size="7.1" fill="#333" text-anchor="start">Artery-distamt immune</text>
<rect x="525.60" y="425.03" width="7" height="3.2" rx="1.6" fill="#ff5a00"/>
<text x="534.50" y="429.13" font-size="7.1" fill="#333" text-anchor="start">Endothelial</text>
<rect x="525.60" y="435.16" width="7" height="3.2" rx="1.6" fill="#ebbfff"/>
<text x="534.50" y="439.26" font-size="7.1" fill="#333" text-anchor="start">Mesenchymal</text>
<rect x="525.60" y="445.29" width="7" height="3.2" rx="1.6" fill="#3a62dc"/>
<text x="534.50" y="449.39" font-size="7.1" fill="#333" text-anchor="start">Chondroblast</text>
<rect x="525.60" y="455.42" width="7" height="3.2" rx="1.6" fill="#ff00f0"/>
<text x="534.50" y="459.52" font-size="7.1" fill="#333" text-anchor="start">Lymphatic endothelial</text>
<rect x="525.60" y="465.55" width="7" height="3.2" rx="1.6" fill="#ffb6c1"/>
<text x="534.50" y="469.65" font-size="7.1" fill="#333">SOX2<tspan font-size="4.3" dy="-2.7">high</tspan><tspan dy="2.7"> epithelial</tspan></text>
<rect x="525.60" y="475.68" width="7" height="3.2" rx="1.6" fill="#0e7a7a"/>
<text x="534.50" y="479.78" font-size="7.1" fill="#333">SOX9<tspan font-size="4.3" dy="-2.7">high</tspan><tspan dy="2.7"> epithelial</tspan></text>
<rect x="525.60" y="485.81" width="7" height="3.2" rx="1.6" fill="#a0f020"/>
<text x="534.50" y="489.91" font-size="7.1" fill="#333" text-anchor="start">Neuronal</text>
<rect x="525.60" y="495.94" width="7" height="3.2" rx="1.6" fill="#ffd27f"/>
<text x="534.50" y="500.04" font-size="7.1" fill="#333" text-anchor="start">Pericyte</text>
<rect x="525.60" y="506.07" width="7" height="3.2" rx="1.6" fill="#f0104a"/>
<text x="534.50" y="510.17" font-size="7.1" fill="#333" text-anchor="start">Airway smooth muscle</text>
<rect x="525.60" y="516.20" width="7" height="3.2" rx="1.6" fill="#a8a8a8"/>
<text x="534.50" y="520.30" font-size="7.1" fill="#333" text-anchor="start">Vascular smooth muscle</text>
<rect x="525.60" y="526.33" width="7" height="3.2" rx="1.6" fill="#10f088"/>
<text x="534.50" y="530.43" font-size="7.1" fill="#333" text-anchor="start">Artery-close immune</text>
<text x="304.60" y="575.30" font-size="15" fill="#000" text-anchor="middle">Week 11</text>
<rect x="235.60" y="577.70" width="141.00" height="109.30" fill="none" stroke="#555" stroke-width="0.9"/>
<line x1="234.00" y1="680.60" x2="235.60" y2="680.60" stroke="#333" stroke-width="0.7"/>
<text x="233.40" y="683.19" font-size="7.2" fill="#222" text-anchor="end">0</text>
<line x1="234.00" y1="664.63" x2="235.60" y2="664.63" stroke="#333" stroke-width="0.7"/>
<text x="233.40" y="667.23" font-size="7.2" fill="#222" text-anchor="end">20</text>
<line x1="234.00" y1="648.67" x2="235.60" y2="648.67" stroke="#333" stroke-width="0.7"/>
<text x="233.40" y="651.26" font-size="7.2" fill="#222" text-anchor="end">40</text>
<line x1="234.00" y1="632.70" x2="235.60" y2="632.70" stroke="#333" stroke-width="0.7"/>
<text x="233.40" y="635.29" font-size="7.2" fill="#222" text-anchor="end">60</text>
<line x1="234.00" y1="616.74" x2="235.60" y2="616.74" stroke="#333" stroke-width="0.7"/>
<text x="233.40" y="619.33" font-size="7.2" fill="#222" text-anchor="end">80</text>
<line x1="234.00" y1="600.77" x2="235.60" y2="600.77" stroke="#333" stroke-width="0.7"/>
<text x="233.40" y="603.36" font-size="7.2" fill="#222" text-anchor="end">100</text>
<line x1="234.00" y1="584.80" x2="235.60" y2="584.80" stroke="#333" stroke-width="0.7"/>
<text x="233.40" y="587.40" font-size="7.2" fill="#222" text-anchor="end">120</text>
<line x1="242.20" y1="687.00" x2="242.20" y2="688.60" stroke="#333" stroke-width="0.7"/>
<text x="242.20" y="695.48" font-size="7.2" fill="#222" text-anchor="middle">−4</text>
<line x1="261.70" y1="687.00" x2="261.70" y2="688.60" stroke="#333" stroke-width="0.7"/>
<text x="261.70" y="695.48" font-size="7.2" fill="#222" text-anchor="middle">−3</text>
<line x1="281.20" y1="687.00" x2="281.20" y2="688.60" stroke="#333" stroke-width="0.7"/>
<text x="281.20" y="695.48" font-size="7.2" fill="#222" text-anchor="middle">−2</text>
<line x1="300.70" y1="687.00" x2="300.70" y2="688.60" stroke="#333" stroke-width="0.7"/>
<text x="300.70" y="695.48" font-size="7.2" fill="#222" text-anchor="middle">−1</text>
<line x1="320.20" y1="687.00" x2="320.20" y2="688.60" stroke="#333" stroke-width="0.7"/>
<text x="320.20" y="695.48" font-size="7.2" fill="#222" text-anchor="middle">0</text>
<line x1="339.70" y1="687.00" x2="339.70" y2="688.60" stroke="#333" stroke-width="0.7"/>
<text x="339.70" y="695.48" font-size="7.2" fill="#222" text-anchor="middle">1</text>
<line x1="359.20" y1="687.00" x2="359.20" y2="688.60" stroke="#333" stroke-width="0.7"/>
<text x="359.20" y="695.48" font-size="7.2" fill="#222" text-anchor="middle">2</text>
<circle cx="325.80" cy="630.70" r="1.95" fill="#808080"/>
<circle cx="320.10" cy="652.50" r="1.95" fill="#808080"/>
<circle cx="322.10" cy="665.40" r="1.95" fill="#808080"/>
<circle cx="321.60" cy="670.40" r="1.95" fill="#808080"/>
<circle cx="327.30" cy="675.80" r="1.95" fill="#808080"/>
<circle cx="320.30" cy="680.30" r="1.95" fill="#808080"/>
<circle cx="324.10" cy="682.00" r="1.95" fill="#808080"/>
<circle cx="326.60" cy="681.00" r="1.95" fill="#808080"/>
<circle cx="334.00" cy="682.00" r="1.95" fill="#808080"/>
<circle cx="337.70" cy="675.80" r="1.95" fill="#808080"/>
<circle cx="339.70" cy="682.00" r="1.95" fill="#808080"/>
<circle cx="342.70" cy="682.00" r="1.95" fill="#808080"/>
<circle cx="242.20" cy="635.58" r="1.95" fill="#ff0000"/>
<text x="240.40" y="631.90" font-size="7.4" fill="#222" text-anchor="start">MRC1</text>
<circle cx="292.31" cy="661.20" r="1.95" fill="#ff0000"/>
<text x="281.90" y="658.50" font-size="7.4" fill="#222" text-anchor="start">CD163</text>
<circle cx="273.79" cy="679.80" r="1.95" fill="#ff0000"/>
<text x="265.00" y="677.10" font-size="7.4" fill="#222" text-anchor="start">CD31</text>
<circle cx="358.81" cy="582.41" r="1.95" fill="#ff0000"/>
<text x="355.00" y="584.80" font-size="7.4" fill="#222" text-anchor="end">CD45</text>
<circle cx="369.53" cy="590.39" r="1.95" fill="#ff0000"/>
<text x="366.30" y="593.50" font-size="7.4" fill="#222" text-anchor="end">CD44</text>
<circle cx="367.00" cy="644.28" r="1.95" fill="#ff0000"/>
<text x="372.20" y="641.80" font-size="7.4" fill="#222" text-anchor="end">HLADR</text>
<text x="456.80" y="575.30" font-size="15" fill="#000" text-anchor="middle">Week 12</text>
<rect x="389.00" y="577.80" width="140.20" height="109.20" fill="none" stroke="#555" stroke-width="0.9"/>
<line x1="387.40" y1="681.00" x2="389.00" y2="681.00" stroke="#333" stroke-width="0.7"/>
<text x="386.80" y="683.59" font-size="7.2" fill="#222" text-anchor="end">0</text>
<line x1="387.40" y1="659.60" x2="389.00" y2="659.60" stroke="#333" stroke-width="0.7"/>
<text x="386.80" y="662.19" font-size="7.2" fill="#222" text-anchor="end">5</text>
<line x1="387.40" y1="638.20" x2="389.00" y2="638.20" stroke="#333" stroke-width="0.7"/>
<text x="386.80" y="640.79" font-size="7.2" fill="#222" text-anchor="end">10</text>
<line x1="387.40" y1="616.80" x2="389.00" y2="616.80" stroke="#333" stroke-width="0.7"/>
<text x="386.80" y="619.39" font-size="7.2" fill="#222" text-anchor="end">15</text>
<line x1="387.40" y1="595.40" x2="389.00" y2="595.40" stroke="#333" stroke-width="0.7"/>
<text x="386.80" y="597.99" font-size="7.2" fill="#222" text-anchor="end">20</text>
<line x1="403.40" y1="687.00" x2="403.40" y2="688.60" stroke="#333" stroke-width="0.7"/>
<text x="403.40" y="695.48" font-size="7.2" fill="#222" text-anchor="middle">−2</text>
<line x1="423.95" y1="687.00" x2="423.95" y2="688.60" stroke="#333" stroke-width="0.7"/>
<text x="423.95" y="695.48" font-size="7.2" fill="#222" text-anchor="middle">−1</text>
<line x1="444.50" y1="687.00" x2="444.50" y2="688.60" stroke="#333" stroke-width="0.7"/>
<text x="444.50" y="695.48" font-size="7.2" fill="#222" text-anchor="middle">0</text>
<line x1="465.05" y1="687.00" x2="465.05" y2="688.60" stroke="#333" stroke-width="0.7"/>
<text x="465.05" y="695.48" font-size="7.2" fill="#222" text-anchor="middle">1</text>
<line x1="485.60" y1="687.00" x2="485.60" y2="688.60" stroke="#333" stroke-width="0.7"/>
<text x="485.60" y="695.48" font-size="7.2" fill="#222" text-anchor="middle">2</text>
<line x1="506.15" y1="687.00" x2="506.15" y2="688.60" stroke="#333" stroke-width="0.7"/>
<text x="506.15" y="695.48" font-size="7.2" fill="#222" text-anchor="middle">3</text>
<line x1="526.70" y1="687.00" x2="526.70" y2="688.60" stroke="#333" stroke-width="0.7"/>
<text x="526.70" y="695.48" font-size="7.2" fill="#222" text-anchor="middle">4</text>
<circle cx="454.80" cy="657.70" r="1.95" fill="#808080"/>
<circle cx="395.30" cy="679.60" r="1.95" fill="#808080"/>
<circle cx="431.70" cy="676.60" r="1.95" fill="#808080"/>
<circle cx="433.70" cy="676.60" r="1.95" fill="#808080"/>
<circle cx="439.20" cy="678.30" r="1.95" fill="#808080"/>
<circle cx="440.40" cy="680.30" r="1.95" fill="#808080"/>
<circle cx="442.90" cy="681.00" r="1.95" fill="#808080"/>
<circle cx="444.90" cy="676.60" r="1.95" fill="#808080"/>
<circle cx="443.50" cy="679.00" r="1.95" fill="#808080"/>
<circle cx="452.30" cy="677.80" r="1.95" fill="#808080"/>
<circle cx="452.30" cy="681.60" r="1.95" fill="#808080"/>
<circle cx="457.80" cy="681.00" r="1.95" fill="#808080"/>
<circle cx="466.50" cy="681.60" r="1.95" fill="#808080"/>
<circle cx="482.52" cy="589.41" r="1.95" fill="#ff0000"/>
<text x="480.00" y="591.60" font-size="7.4" fill="#222" text-anchor="end">CD45</text>
<circle cx="403.40" cy="673.72" r="1.95" fill="#ff0000"/>
<text x="390.80" y="671.60" font-size="7.4" fill="#222" text-anchor="start">MRC1</text>
<circle cx="422.72" cy="674.58" r="1.95" fill="#ff0000"/>
<text x="414.90" y="672.90" font-size="7.4" fill="#222" text-anchor="start">SOX2</text>
<circle cx="465.46" cy="669.87" r="1.95" fill="#ff0000"/>
<text x="446.60" y="672.90" font-size="7.4" fill="#222" text-anchor="start">KI67</text>
<circle cx="473.27" cy="660.03" r="1.95" fill="#ff0000"/>
<text x="477.60" y="663.00" font-size="7.4" fill="#222" text-anchor="start">HLADR</text>
<circle cx="497.52" cy="651.47" r="1.95" fill="#ff0000"/>
<text x="495.00" y="653.50" font-size="7.4" fill="#222" text-anchor="end">CD44</text>
<circle cx="523.41" cy="582.56" r="1.95" fill="#ff0000"/>
<text x="520.50" y="585.00" font-size="7.4" fill="#222" text-anchor="end">ACTA2</text>
<circle cx="513.34" cy="592.40" r="1.95" fill="#ff0000"/>
<text x="510.80" y="594.80" font-size="7.4" fill="#222" text-anchor="end">CD31</text>
<text x="608.00" y="576.00" font-size="15" fill="#000" text-anchor="middle">Week 13</text>
<rect x="542.40" y="578.00" width="141.00" height="109.40" fill="none" stroke="#555" stroke-width="0.9"/>
<line x1="540.80" y1="682.70" x2="542.40" y2="682.70" stroke="#333" stroke-width="0.7"/>
<text x="540.20" y="685.29" font-size="7.2" fill="#222" text-anchor="end">0</text>
<line x1="540.80" y1="666.05" x2="542.40" y2="666.05" stroke="#333" stroke-width="0.7"/>
<text x="540.20" y="668.64" font-size="7.2" fill="#222" text-anchor="end">2</text>
<line x1="540.80" y1="649.40" x2="542.40" y2="649.40" stroke="#333" stroke-width="0.7"/>
<text x="540.20" y="651.99" font-size="7.2" fill="#222" text-anchor="end">4</text>
<line x1="540.80" y1="632.75" x2="542.40" y2="632.75" stroke="#333" stroke-width="0.7"/>
<text x="540.20" y="635.34" font-size="7.2" fill="#222" text-anchor="end">6</text>
<line x1="540.80" y1="616.10" x2="542.40" y2="616.10" stroke="#333" stroke-width="0.7"/>
<text x="540.20" y="618.69" font-size="7.2" fill="#222" text-anchor="end">8</text>
<line x1="540.80" y1="599.45" x2="542.40" y2="599.45" stroke="#333" stroke-width="0.7"/>
<text x="540.20" y="602.04" font-size="7.2" fill="#222" text-anchor="end">10</text>
<line x1="540.80" y1="582.80" x2="542.40" y2="582.80" stroke="#333" stroke-width="0.7"/>
<text x="540.20" y="585.39" font-size="7.2" fill="#222" text-anchor="end">12</text>
<line x1="558.00" y1="687.40" x2="558.00" y2="689.00" stroke="#333" stroke-width="0.7"/>
<text x="558.00" y="695.88" font-size="7.2" fill="#222" text-anchor="middle">−2</text>
<line x1="584.35" y1="687.40" x2="584.35" y2="689.00" stroke="#333" stroke-width="0.7"/>
<text x="584.35" y="695.88" font-size="7.2" fill="#222" text-anchor="middle">0</text>
<line x1="610.70" y1="687.40" x2="610.70" y2="689.00" stroke="#333" stroke-width="0.7"/>
<text x="610.70" y="695.88" font-size="7.2" fill="#222" text-anchor="middle">2</text>
<line x1="637.05" y1="687.40" x2="637.05" y2="689.00" stroke="#333" stroke-width="0.7"/>
<text x="637.05" y="695.88" font-size="7.2" fill="#222" text-anchor="middle">4</text>
<line x1="663.40" y1="687.40" x2="663.40" y2="689.00" stroke="#333" stroke-width="0.7"/>
<text x="663.40" y="695.88" font-size="7.2" fill="#222" text-anchor="middle">6</text>
<circle cx="585.90" cy="609.00" r="1.95" fill="#808080"/>
<circle cx="588.30" cy="610.40" r="1.95" fill="#808080"/>
<circle cx="589.10" cy="647.40" r="1.95" fill="#808080"/>
<circle cx="594.50" cy="671.70" r="1.95" fill="#808080"/>
<circle cx="608.00" cy="675.20" r="1.95" fill="#808080"/>
<circle cx="554.00" cy="680.80" r="1.95" fill="#808080"/>
<circle cx="576.40" cy="675.70" r="1.95" fill="#808080"/>
<circle cx="576.40" cy="678.70" r="1.95" fill="#808080"/>
<circle cx="583.70" cy="682.50" r="1.95" fill="#808080"/>
<circle cx="586.00" cy="682.50" r="1.95" fill="#808080"/>
<circle cx="588.20" cy="682.50" r="1.95" fill="#808080"/>
<circle cx="590.50" cy="682.50" r="1.95" fill="#808080"/>
<circle cx="593.70" cy="680.80" r="1.95" fill="#808080"/>
<circle cx="629.54" cy="582.80" r="1.95" fill="#ff0000"/>
<text x="627.00" y="585.50" font-size="7.4" fill="#222" text-anchor="end">CD90</text>
<circle cx="600.69" cy="598.62" r="1.95" fill="#ff0000"/>
<text x="597.80" y="601.40" font-size="7.4" fill="#222" text-anchor="end">CD45</text>
<circle cx="676.84" cy="598.62" r="1.95" fill="#ff0000"/>
<text x="674.20" y="601.40" font-size="7.4" fill="#222" text-anchor="end">ACTA2</text>
<circle cx="599.37" cy="635.50" r="1.95" fill="#ff0000"/>
<text x="586.40" y="633.30" font-size="7.4" fill="#222" text-anchor="start">HLADR</text>
<circle cx="554.84" cy="647.40" r="1.95" fill="#ff0000"/>
<text x="546.40" y="645.50" font-size="7.4" fill="#222" text-anchor="start">MRC1</text>
<circle cx="604.51" cy="658.22" r="1.95" fill="#ff0000"/>
<text x="594.00" y="656.30" font-size="7.4" fill="#222" text-anchor="start">CD44</text>
<circle cx="548.12" cy="661.72" r="1.95" fill="#ff0000"/>
<text x="544.00" y="659.50" font-size="7.4" fill="#222" text-anchor="start">CD123</text>
<circle cx="571.04" cy="668.96" r="1.95" fill="#ff0000"/>
<text x="565.60" y="666.30" font-size="7.4" fill="#222" text-anchor="start">VIM</text>
<text x="217.20" y="635.00" font-size="8.5" fill="#222" text-anchor="middle" transform="rotate(-90 217.20 635.00)">-log10 of adjusted p-value</text>
<text x="236.50" y="707.70" font-size="8.3" fill="#222" text-anchor="start">Fold change (log2 of mean intensity in Artery-close/Artery-distant immune cells)</text>
<path d="M214.9,692 L214.9,706.4 L233,706.4" fill="none" stroke="#000" stroke-width="1.2"/>
<path d="M214.9,689 L212.9,693 L216.9,693 Z" fill="#000"/>
<path d="M236,706.4 L232,704.4 L232,708.4 Z" fill="#000"/>
<text x="365.00" y="730.30" font-size="9.3" fill="#000" text-anchor="middle">Mean intensity difference in</text>
<text x="365.30" y="740.00" font-size="9.3" fill="#000" text-anchor="middle">artery-close vs. artery-distant immune regions</text>
<rect x="238.80" y="833.91" width="1.8" height="38.59" fill="#e99f10" stroke="#666" stroke-width="0.25"/>
<rect x="240.60" y="832.18" width="1.8" height="40.32" fill="#3fb0e2" stroke="#666" stroke-width="0.25"/>
<rect x="242.40" y="757.30" width="1.8" height="115.20" fill="#12a070" stroke="#666" stroke-width="0.25"/>
<line x1="241.50" y1="944.20" x2="241.50" y2="946.70" stroke="#000" stroke-width="0.7"/>
<text x="244.30" y="947.80" font-size="7.9" fill="#111" text-anchor="end" transform="rotate(-90 244.30 947.80)">CD90</text>
<rect x="246.82" y="860.40" width="1.8" height="12.10" fill="#e99f10" stroke="#666" stroke-width="0.25"/>
<rect x="248.62" y="762.48" width="1.8" height="110.02" fill="#3fb0e2" stroke="#666" stroke-width="0.25"/>
<rect x="250.42" y="833.62" width="1.8" height="38.88" fill="#12a070" stroke="#666" stroke-width="0.25"/>
<line x1="249.52" y1="944.20" x2="249.52" y2="946.70" stroke="#000" stroke-width="0.7"/>
<text x="252.32" y="947.80" font-size="7.9" fill="#111" text-anchor="end" transform="rotate(-90 252.32 947.80)">CD31</text>
<rect x="254.84" y="825.27" width="1.8" height="47.23" fill="#e99f10" stroke="#666" stroke-width="0.25"/>
<rect x="256.64" y="855.51" width="1.8" height="16.99" fill="#3fb0e2" stroke="#666" stroke-width="0.25"/>
<rect x="258.44" y="872.21" width="1.8" height="0.30" fill="#12a070" stroke="#666" stroke-width="0.25"/>
<line x1="257.54" y1="944.20" x2="257.54" y2="946.70" stroke="#000" stroke-width="0.7"/>
<text x="260.34" y="947.80" font-size="7.9" fill="#111" text-anchor="end" transform="rotate(-90 260.34 947.80)">HLA-DR</text>
<rect x="262.86" y="860.40" width="1.8" height="12.10" fill="#e99f10" stroke="#666" stroke-width="0.25"/>
<rect x="264.66" y="846.58" width="1.8" height="25.92" fill="#3fb0e2" stroke="#666" stroke-width="0.25"/>
<rect x="266.46" y="869.33" width="1.8" height="3.17" fill="#12a070" stroke="#666" stroke-width="0.25"/>
<line x1="265.56" y1="944.20" x2="265.56" y2="946.70" stroke="#000" stroke-width="0.7"/>
<text x="268.36" y="947.80" font-size="7.9" fill="#111" text-anchor="end" transform="rotate(-90 268.36 947.80)">WT1</text>
<rect x="270.88" y="872.50" width="1.8" height="4.32" fill="#e99f10" stroke="#666" stroke-width="0.25"/>
<rect x="272.68" y="833.33" width="1.8" height="39.17" fill="#3fb0e2" stroke="#666" stroke-width="0.25"/>
<rect x="274.48" y="866.45" width="1.8" height="6.05" fill="#12a070" stroke="#666" stroke-width="0.25"/>
<line x1="273.58" y1="944.20" x2="273.58" y2="946.70" stroke="#000" stroke-width="0.7"/>
<text x="276.38" y="947.80" font-size="7.9" fill="#111" text-anchor="end" transform="rotate(-90 276.38 947.80)">CD144</text>
<rect x="278.90" y="865.59" width="1.8" height="6.91" fill="#e99f10" stroke="#666" stroke-width="0.25"/>
<rect x="280.70" y="867.60" width="1.8" height="4.90" fill="#3fb0e2" stroke="#666" stroke-width="0.25"/>
<rect x="282.50" y="858.39" width="1.8" height="14.11" fill="#12a070" stroke="#666" stroke-width="0.25"/>
<line x1="281.60" y1="944.20" x2="281.60" y2="946.70" stroke="#000" stroke-width="0.7"/>
<text x="284.40" y="947.80" font-size="7.9" fill="#111" text-anchor="end" transform="rotate(-90 284.40 947.80)">ACTA2</text>
<rect x="286.92" y="864.15" width="1.8" height="8.35" fill="#e99f10" stroke="#666" stroke-width="0.25"/>
<rect x="288.72" y="872.50" width="1.8" height="0.58" fill="#3fb0e2" stroke="#666" stroke-width="0.25"/>
<rect x="290.52" y="854.64" width="1.8" height="17.86" fill="#12a070" stroke="#666" stroke-width="0.25"/>
<line x1="289.62" y1="944.20" x2="289.62" y2="946.70" stroke="#000" stroke-width="0.7"/>
<text x="292.42" y="947.80" font-size="7.9" fill="#111" text-anchor="end" transform="rotate(-90 292.42 947.80)">CD44</text>
<rect x="294.94" y="872.50" width="1.8" height="1.44" fill="#e99f10" stroke="#666" stroke-width="0.25"/>
<rect x="296.74" y="869.91" width="1.8" height="2.59" fill="#3fb0e2" stroke="#666" stroke-width="0.25"/>
<rect x="298.54" y="855.80" width="1.8" height="16.70" fill="#12a070" stroke="#666" stroke-width="0.25"/>
<line x1="297.64" y1="944.20" x2="297.64" y2="946.70" stroke="#000" stroke-width="0.7"/>
<text x="300.44" y="947.80" font-size="7.9" fill="#111" text-anchor="end" transform="rotate(-90 300.44 947.80)">CD34</text>
<rect x="302.96" y="866.45" width="1.8" height="6.05" fill="#e99f10" stroke="#666" stroke-width="0.25"/>
<rect x="304.76" y="862.13" width="1.8" height="10.37" fill="#3fb0e2" stroke="#666" stroke-width="0.25"/>
<rect x="306.56" y="871.06" width="1.8" height="1.44" fill="#12a070" stroke="#666" stroke-width="0.25"/>
<line x1="305.66" y1="944.20" x2="305.66" y2="946.70" stroke="#000" stroke-width="0.7"/>
<text x="308.46" y="947.80" font-size="7.9" fill="#111" text-anchor="end" transform="rotate(-90 308.46 947.80)">CD3</text>
<rect x="310.98" y="851.19" width="1.8" height="21.31" fill="#e99f10" stroke="#666" stroke-width="0.25"/>
<rect x="312.78" y="872.50" width="1.8" height="4.03" fill="#3fb0e2" stroke="#666" stroke-width="0.25"/>
<rect x="314.58" y="872.50" width="1.8" height="6.62" fill="#12a070" stroke="#666" stroke-width="0.25"/>
<line x1="313.68" y1="944.20" x2="313.68" y2="946.70" stroke="#000" stroke-width="0.7"/>
<text x="316.48" y="947.80" font-size="7.9" fill="#111" text-anchor="end" transform="rotate(-90 316.48 947.80)">CD45</text>
<rect x="319.00" y="872.50" width="1.8" height="0.86" fill="#e99f10" stroke="#666" stroke-width="0.25"/>
<rect x="320.80" y="870.77" width="1.8" height="1.73" fill="#3fb0e2" stroke="#666" stroke-width="0.25"/>
<rect x="322.60" y="868.47" width="1.8" height="4.03" fill="#12a070" stroke="#666" stroke-width="0.25"/>
<line x1="321.70" y1="944.20" x2="321.70" y2="946.70" stroke="#000" stroke-width="0.7"/>
<text x="324.50" y="947.80" font-size="7.9" fill="#111" text-anchor="end" transform="rotate(-90 324.50 947.80)">CLDN5</text>
<rect x="327.02" y="872.50" width="1.8" height="4.03" fill="#e99f10" stroke="#666" stroke-width="0.25"/>
<rect x="328.82" y="864.15" width="1.8" height="8.35" fill="#3fb0e2" stroke="#666" stroke-width="0.25"/>
<rect x="330.62" y="872.50" width="1.8" height="0.86" fill="#12a070" stroke="#666" stroke-width="0.25"/>
<line x1="329.72" y1="944.20" x2="329.72" y2="946.70" stroke="#000" stroke-width="0.7"/>
<text x="332.52" y="947.80" font-size="7.9" fill="#111" text-anchor="end" transform="rotate(-90 332.52 947.80)">CD123</text>
<rect x="335.04" y="872.50" width="1.8" height="0.30" fill="#e99f10" stroke="#666" stroke-width="0.25"/>
<rect x="336.84" y="871.92" width="1.8" height="0.58" fill="#3fb0e2" stroke="#666" stroke-width="0.25"/>
<rect x="338.64" y="871.35" width="1.8" height="1.15" fill="#12a070" stroke="#666" stroke-width="0.25"/>
<line x1="337.74" y1="944.20" x2="337.74" y2="946.70" stroke="#000" stroke-width="0.7"/>
<text x="340.54" y="947.80" font-size="7.9" fill="#111" text-anchor="end" transform="rotate(-90 340.54 947.80)">Ki67</text>
<rect x="343.06" y="872.50" width="1.8" height="2.30" fill="#e99f10" stroke="#666" stroke-width="0.25"/>
<rect x="344.86" y="871.92" width="1.8" height="0.58" fill="#3fb0e2" stroke="#666" stroke-width="0.25"/>
<rect x="346.66" y="869.33" width="1.8" height="3.17" fill="#12a070" stroke="#666" stroke-width="0.25"/>
<line x1="345.76" y1="944.20" x2="345.76" y2="946.70" stroke="#000" stroke-width="0.7"/>
<text x="348.56" y="947.80" font-size="7.9" fill="#111" text-anchor="end" transform="rotate(-90 348.56 947.80)">TTF1</text>
<rect x="351.08" y="872.50" width="1.8" height="2.30" fill="#e99f10" stroke="#666" stroke-width="0.25"/>
<rect x="352.88" y="872.50" width="1.8" height="1.15" fill="#3fb0e2" stroke="#666" stroke-width="0.25"/>
<rect x="354.68" y="868.18" width="1.8" height="4.32" fill="#12a070" stroke="#666" stroke-width="0.25"/>
<line x1="353.78" y1="944.20" x2="353.78" y2="946.70" stroke="#000" stroke-width="0.7"/>
<text x="356.58" y="947.80" font-size="7.9" fill="#111" text-anchor="end" transform="rotate(-90 356.58 947.80)">SOX2</text>
<rect x="359.10" y="872.50" width="1.8" height="0.30" fill="#e99f10" stroke="#666" stroke-width="0.25"/>
<rect x="360.90" y="872.50" width="1.8" height="0.30" fill="#3fb0e2" stroke="#666" stroke-width="0.25"/>
<rect x="362.70" y="872.50" width="1.8" height="0.30" fill="#12a070" stroke="#666" stroke-width="0.25"/>
<line x1="361.80" y1="944.20" x2="361.80" y2="946.70" stroke="#000" stroke-width="0.7"/>
<text x="364.60" y="947.80" font-size="7.9" fill="#111" text-anchor="end" transform="rotate(-90 364.60 947.80)">PRX</text>
<rect x="367.12" y="872.50" width="1.8" height="3.46" fill="#e99f10" stroke="#666" stroke-width="0.25"/>
<rect x="368.92" y="870.20" width="1.8" height="2.30" fill="#3fb0e2" stroke="#666" stroke-width="0.25"/>
<rect x="370.72" y="870.77" width="1.8" height="1.73" fill="#12a070" stroke="#666" stroke-width="0.25"/>
<line x1="369.82" y1="944.20" x2="369.82" y2="946.70" stroke="#000" stroke-width="0.7"/>
<text x="372.62" y="947.80" font-size="7.9" fill="#111" text-anchor="end" transform="rotate(-90 372.62 947.80)">PDPN</text>
<rect x="375.14" y="872.50" width="1.8" height="6.62" fill="#e99f10" stroke="#666" stroke-width="0.25"/>
<rect x="376.94" y="869.62" width="1.8" height="2.88" fill="#3fb0e2" stroke="#666" stroke-width="0.25"/>
<rect x="378.74" y="870.20" width="1.8" height="2.30" fill="#12a070" stroke="#666" stroke-width="0.25"/>
<line x1="377.84" y1="944.20" x2="377.84" y2="946.70" stroke="#000" stroke-width="0.7"/>
<text x="380.64" y="947.80" font-size="7.9" fill="#111" text-anchor="end" transform="rotate(-90 380.64 947.80)">DCN</text>
<rect x="383.16" y="872.50" width="1.8" height="0.30" fill="#e99f10" stroke="#666" stroke-width="0.25"/>
<rect x="384.96" y="872.50" width="1.8" height="1.15" fill="#3fb0e2" stroke="#666" stroke-width="0.25"/>
<rect x="386.76" y="872.50" width="1.8" height="0.30" fill="#12a070" stroke="#666" stroke-width="0.25"/>
<line x1="385.86" y1="944.20" x2="385.86" y2="946.70" stroke="#000" stroke-width="0.7"/>
<text x="388.66" y="947.80" font-size="7.9" fill="#111" text-anchor="end" transform="rotate(-90 388.66 947.80)">VIM</text>
<rect x="391.18" y="872.50" width="1.8" height="0.58" fill="#e99f10" stroke="#666" stroke-width="0.25"/>
<rect x="392.98" y="872.50" width="1.8" height="0.86" fill="#3fb0e2" stroke="#666" stroke-width="0.25"/>
<rect x="394.78" y="872.50" width="1.8" height="0.58" fill="#12a070" stroke="#666" stroke-width="0.25"/>
<line x1="393.88" y1="944.20" x2="393.88" y2="946.70" stroke="#000" stroke-width="0.7"/>
<text x="396.68" y="947.80" font-size="7.9" fill="#111" text-anchor="end" transform="rotate(-90 396.68 947.80)">COL1A1</text>
<rect x="399.20" y="872.50" width="1.8" height="0.86" fill="#e99f10" stroke="#666" stroke-width="0.25"/>
<rect x="401.00" y="871.92" width="1.8" height="0.58" fill="#3fb0e2" stroke="#666" stroke-width="0.25"/>
<rect x="402.80" y="872.50" width="1.8" height="1.15" fill="#12a070" stroke="#666" stroke-width="0.25"/>
<line x1="401.90" y1="944.20" x2="401.90" y2="946.70" stroke="#000" stroke-width="0.7"/>
<text x="404.70" y="947.80" font-size="7.9" fill="#111" text-anchor="end" transform="rotate(-90 404.70 947.80)">SOX9</text>
<rect x="407.22" y="872.50" width="1.8" height="3.74" fill="#e99f10" stroke="#666" stroke-width="0.25"/>
<rect x="409.02" y="872.50" width="1.8" height="0.86" fill="#3fb0e2" stroke="#666" stroke-width="0.25"/>
<rect x="410.82" y="870.77" width="1.8" height="1.73" fill="#12a070" stroke="#666" stroke-width="0.25"/>
<line x1="409.92" y1="944.20" x2="409.92" y2="946.70" stroke="#000" stroke-width="0.7"/>
<text x="412.72" y="947.80" font-size="7.9" fill="#111" text-anchor="end" transform="rotate(-90 412.72 947.80)">CD56</text>
<rect x="415.24" y="872.50" width="1.8" height="5.47" fill="#e99f10" stroke="#666" stroke-width="0.25"/>
<rect x="417.04" y="872.50" width="1.8" height="4.03" fill="#3fb0e2" stroke="#666" stroke-width="0.25"/>
<rect x="418.84" y="869.62" width="1.8" height="2.88" fill="#12a070" stroke="#666" stroke-width="0.25"/>
<line x1="417.94" y1="944.20" x2="417.94" y2="946.70" stroke="#000" stroke-width="0.7"/>
<text x="420.74" y="947.80" font-size="7.9" fill="#111" text-anchor="end" transform="rotate(-90 420.74 947.80)">ECAD</text>
<rect x="423.26" y="872.50" width="1.8" height="3.46" fill="#e99f10" stroke="#666" stroke-width="0.25"/>
<rect x="425.06" y="872.50" width="1.8" height="5.47" fill="#3fb0e2" stroke="#666" stroke-width="0.25"/>
<rect x="426.86" y="870.20" width="1.8" height="2.30" fill="#12a070" stroke="#666" stroke-width="0.25"/>
<line x1="425.96" y1="944.20" x2="425.96" y2="946.70" stroke="#000" stroke-width="0.7"/>
<text x="428.76" y="947.80" font-size="7.9" fill="#111" text-anchor="end" transform="rotate(-90 428.76 947.80)">Pan-CK</text>
<rect x="431.28" y="872.50" width="1.8" height="2.02" fill="#e99f10" stroke="#666" stroke-width="0.25"/>
<rect x="433.08" y="872.50" width="1.8" height="4.90" fill="#3fb0e2" stroke="#666" stroke-width="0.25"/>
<rect x="434.88" y="872.50" width="1.8" height="0.58" fill="#12a070" stroke="#666" stroke-width="0.25"/>
<line x1="433.98" y1="944.20" x2="433.98" y2="946.70" stroke="#000" stroke-width="0.7"/>
<text x="436.78" y="947.80" font-size="7.9" fill="#111" text-anchor="end" transform="rotate(-90 436.78 947.80)">CD19</text>
<rect x="439.30" y="872.50" width="1.8" height="4.03" fill="#e99f10" stroke="#666" stroke-width="0.25"/>
<rect x="441.10" y="872.50" width="1.8" height="3.74" fill="#3fb0e2" stroke="#666" stroke-width="0.25"/>
<rect x="442.90" y="872.50" width="1.8" height="4.03" fill="#12a070" stroke="#666" stroke-width="0.25"/>
<line x1="442.00" y1="944.20" x2="442.00" y2="946.70" stroke="#000" stroke-width="0.7"/>
<text x="444.80" y="947.80" font-size="7.9" fill="#111" text-anchor="end" transform="rotate(-90 444.80 947.80)">EPCAM</text>
<rect x="447.32" y="872.50" width="1.8" height="2.88" fill="#e99f10" stroke="#666" stroke-width="0.25"/>
<rect x="449.12" y="872.50" width="1.8" height="6.62" fill="#3fb0e2" stroke="#666" stroke-width="0.25"/>
<rect x="450.92" y="872.50" width="1.8" height="4.03" fill="#12a070" stroke="#666" stroke-width="0.25"/>
<line x1="450.02" y1="944.20" x2="450.02" y2="946.70" stroke="#000" stroke-width="0.7"/>
<text x="452.82" y="947.80" font-size="7.9" fill="#111" text-anchor="end" transform="rotate(-90 452.82 947.80)">CD4</text>
<rect x="455.34" y="872.50" width="1.8" height="8.64" fill="#e99f10" stroke="#666" stroke-width="0.25"/>
<rect x="457.14" y="868.47" width="1.8" height="4.03" fill="#3fb0e2" stroke="#666" stroke-width="0.25"/>
<rect x="458.94" y="872.50" width="1.8" height="16.70" fill="#12a070" stroke="#666" stroke-width="0.25"/>
<line x1="458.04" y1="944.20" x2="458.04" y2="946.70" stroke="#000" stroke-width="0.7"/>
<text x="460.84" y="947.80" font-size="7.9" fill="#111" text-anchor="end" transform="rotate(-90 460.84 947.80)">CD68</text>
<rect x="463.36" y="872.50" width="1.8" height="64.51" fill="#e99f10" stroke="#666" stroke-width="0.25"/>
<rect x="465.16" y="872.50" width="1.8" height="3.46" fill="#3fb0e2" stroke="#666" stroke-width="0.25"/>
<rect x="466.96" y="872.50" width="1.8" height="27.36" fill="#12a070" stroke="#666" stroke-width="0.25"/>
<line x1="466.06" y1="944.20" x2="466.06" y2="946.70" stroke="#000" stroke-width="0.7"/>
<text x="468.86" y="947.80" font-size="7.9" fill="#111" text-anchor="end" transform="rotate(-90 468.86 947.80)">CD163</text>
<rect x="471.38" y="872.50" width="1.8" height="37.73" fill="#e99f10" stroke="#666" stroke-width="0.25"/>
<rect x="473.18" y="872.50" width="1.8" height="20.45" fill="#3fb0e2" stroke="#666" stroke-width="0.25"/>
<rect x="474.98" y="872.50" width="1.8" height="39.74" fill="#12a070" stroke="#666" stroke-width="0.25"/>
<line x1="474.08" y1="944.20" x2="474.08" y2="946.70" stroke="#000" stroke-width="0.7"/>
<text x="476.88" y="947.80" font-size="7.9" fill="#111" text-anchor="end" transform="rotate(-90 476.88 947.80)">MRC1</text>
<rect x="227.4" y="743.3" width="261.20" height="200.90" fill="none" stroke="#333" stroke-width="0.8"/>
<line x1="224.80" y1="757.30" x2="227.40" y2="757.30" stroke="#000" stroke-width="0.7"/>
<text x="224.20" y="760.20" font-size="8.3" fill="#111" text-anchor="end">40</text>
<line x1="224.80" y1="786.10" x2="227.40" y2="786.10" stroke="#000" stroke-width="0.7"/>
<text x="224.20" y="789.00" font-size="8.3" fill="#111" text-anchor="end">30</text>
<line x1="224.80" y1="814.90" x2="227.40" y2="814.90" stroke="#000" stroke-width="0.7"/>
<text x="224.20" y="817.80" font-size="8.3" fill="#111" text-anchor="end">20</text>
<line x1="224.80" y1="843.70" x2="227.40" y2="843.70" stroke="#000" stroke-width="0.7"/>
<text x="224.20" y="846.60" font-size="8.3" fill="#111" text-anchor="end">10</text>
<line x1="224.80" y1="872.50" x2="227.40" y2="872.50" stroke="#000" stroke-width="0.7"/>
<text x="224.20" y="875.40" font-size="8.3" fill="#111" text-anchor="end">0</text>
<line x1="224.80" y1="901.30" x2="227.40" y2="901.30" stroke="#000" stroke-width="0.7"/>
<text x="224.20" y="904.20" font-size="8.3" fill="#111" text-anchor="end">-10</text>
<line x1="224.80" y1="930.10" x2="227.40" y2="930.10" stroke="#000" stroke-width="0.7"/>
<text x="224.20" y="933.00" font-size="8.3" fill="#111" text-anchor="end">-20</text>
<text x="211.50" y="839.40" font-size="8.35" fill="#111" text-anchor="middle" transform="rotate(-90 211.50 839.40)">Subtracted mean intensity (arb. units)</text>
<rect x="422.0" y="746.8" width="63.7" height="40.8" rx="1.5" fill="#fff" fill-opacity="0.85" stroke="#d8d8d8" stroke-width="0.8"/>
<rect x="424.9" y="750.5" width="16.7" height="6.0" fill="#f39c00" stroke="#777" stroke-width="0.5"/>
<text x="444.20" y="756.80" font-size="9.9" fill="#111" text-anchor="start">Week 11</text>
<rect x="424.9" y="763.4" width="16.7" height="6.0" fill="#1ab0e8" stroke="#777" stroke-width="0.5"/>
<text x="444.20" y="769.70" font-size="9.9" fill="#111" text-anchor="start">Week 12</text>
<rect x="424.9" y="776.2" width="16.7" height="6.0" fill="#14a06e" stroke="#777" stroke-width="0.5"/>
<text x="444.20" y="782.50" font-size="9.9" fill="#111" text-anchor="start">Week 13</text>
<text x="516.20" y="762.70" font-size="9.0" fill="#111" text-anchor="start">Composition of artery-close immune cells</text>
<rect x="517.10" y="771.10" width="105.12" height="31.10" fill="#bd8888"/>
<rect x="622.17" y="771.10" width="32.96" height="31.10" fill="#ffd200"/>
<rect x="655.08" y="771.10" width="14.22" height="31.10" fill="#f0a800"/>
<rect x="669.25" y="771.10" width="6.57" height="31.10" fill="#9a6464"/>
<rect x="675.76" y="771.10" width="4.29" height="31.10" fill="#0000ff"/>
<rect x="517.10" y="810.00" width="81.99" height="31.00" fill="#ffd200"/>
<rect x="599.04" y="810.00" width="36.21" height="31.00" fill="#bd8888"/>
<rect x="635.20" y="810.00" width="31.33" height="31.00" fill="#f0a800"/>
<rect x="666.48" y="810.00" width="13.57" height="31.00" fill="#9a6464"/>
<rect x="517.10" y="848.80" width="71.40" height="30.70" fill="#bd8888"/>
<rect x="588.45" y="848.80" width="60.49" height="30.70" fill="#ffd200"/>
<rect x="648.89" y="848.80" width="19.76" height="30.70" fill="#9a6464"/>
<rect x="668.60" y="848.80" width="11.45" height="30.70" fill="#f0a800"/>
<path d="M516.6,765.9 L680.4,765.9 L680.4,885.2 L516.6,885.2 Z" fill="none" stroke="#c8c8c8" stroke-width="1"/>
<line x1="515.00" y1="786.65" x2="516.60" y2="786.65" stroke="#444" stroke-width="0.7"/>
<text x="513.40" y="789.75" font-size="8.6" fill="#111" text-anchor="end">13</text>
<line x1="515.00" y1="825.50" x2="516.60" y2="825.50" stroke="#444" stroke-width="0.7"/>
<text x="513.40" y="828.60" font-size="8.6" fill="#111" text-anchor="end">12</text>
<line x1="515.00" y1="864.15" x2="516.60" y2="864.15" stroke="#444" stroke-width="0.7"/>
<text x="513.40" y="867.25" font-size="8.6" fill="#111" text-anchor="end">11</text>
<line x1="517.10" y1="885.20" x2="517.10" y2="886.80" stroke="#444" stroke-width="0.7"/>
<text x="516.10" y="895.40" font-size="8.6" fill="#111" text-anchor="middle">0</text>
<line x1="549.68" y1="885.20" x2="549.68" y2="886.80" stroke="#444" stroke-width="0.7"/>
<text x="548.68" y="895.40" font-size="8.6" fill="#111" text-anchor="middle">20</text>
<line x1="582.26" y1="885.20" x2="582.26" y2="886.80" stroke="#444" stroke-width="0.7"/>
<text x="581.26" y="895.40" font-size="8.6" fill="#111" text-anchor="middle">40</text>
<line x1="614.84" y1="885.20" x2="614.84" y2="886.80" stroke="#444" stroke-width="0.7"/>
<text x="613.84" y="895.40" font-size="8.6" fill="#111" text-anchor="middle">60</text>
<line x1="647.42" y1="885.20" x2="647.42" y2="886.80" stroke="#444" stroke-width="0.7"/>
<text x="646.42" y="895.40" font-size="8.6" fill="#111" text-anchor="middle">80</text>
<line x1="680.00" y1="885.20" x2="680.00" y2="886.80" stroke="#444" stroke-width="0.7"/>
<text x="679.00" y="895.40" font-size="8.6" fill="#111" text-anchor="middle">100</text>
<text x="501.80" y="826.20" font-size="8.6" fill="#111" text-anchor="middle" transform="rotate(-90 501.80 826.20)">Week</text>
<text x="604.90" y="904.10" font-size="8.9" fill="#111" text-anchor="middle">Percentage (%)</text>
<rect x="507.00" y="924.20" width="5.8" height="6.6" fill="#bd8888"/>
<text x="517.00" y="931.10" font-size="10.4" fill="#111" text-anchor="start">Macrophage</text>
<rect x="601.00" y="924.20" width="5.8" height="6.6" fill="#ffd200"/>
<text x="611.00" y="931.10" font-size="10.4" fill="#111" text-anchor="start">ILC &amp; T cell</text>
<rect x="507.00" y="938.70" width="5.8" height="6.6" fill="#9a6464"/>
<text x="517.00" y="945.60" font-size="10.4" fill="#111" text-anchor="start">Pro. Macrophage</text>
<rect x="601.00" y="938.70" width="5.8" height="6.6" fill="#f0a800"/>
<text x="611.00" y="945.60" font-size="10.4" fill="#111" text-anchor="start">Pro. ILC &amp; T cell</text>
<rect x="507.00" y="951.50" width="5.8" height="6.6" fill="#0000ff"/>
<text x="517.00" y="958.40" font-size="10.4" fill="#111" text-anchor="start">Dendritic cell</text>
</svg></body></html>
